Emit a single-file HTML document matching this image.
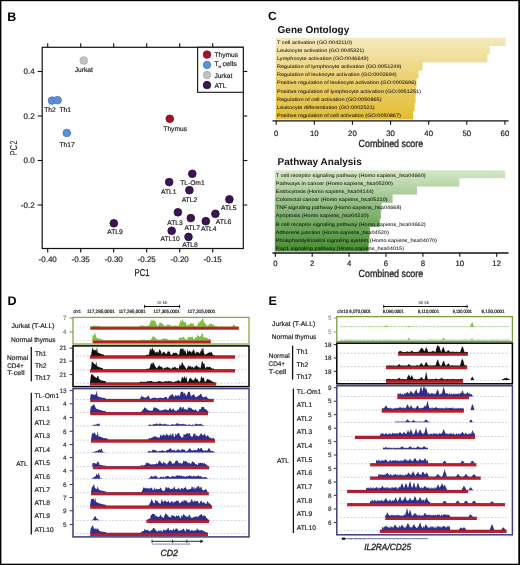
<!DOCTYPE html>
<html><head><meta charset="utf-8"><style>
html,body{margin:0;padding:0;background:#fff;}
body{width:520px;height:565px;overflow:hidden;}
svg{display:block;font-family:"Liberation Sans", sans-serif;will-change:transform;text-rendering:geometricPrecision;}
</style></head><body>
<svg width="520" height="565" viewBox="0 0 520 565">
<rect x="0" y="0" width="520" height="565" fill="#fff"/>
<text x="7.20" y="20.80" font-size="12.5" fill="#000" font-weight="bold">B</text>
<rect x="42.20" y="47.30" width="201.10" height="201.20" fill="none" stroke="#111" stroke-width="1.2"/>
<line x1="47.70" y1="47.30" x2="47.70" y2="43.30" stroke="#111" stroke-width="1.1"/>
<line x1="47.70" y1="248.50" x2="47.70" y2="252.50" stroke="#111" stroke-width="1.1"/>
<text x="47.70" y="261.80" font-size="8.0" fill="#222" text-anchor="middle" stroke="#222" stroke-width="0.18">-0.40</text>
<line x1="80.70" y1="47.30" x2="80.70" y2="43.30" stroke="#111" stroke-width="1.1"/>
<line x1="80.70" y1="248.50" x2="80.70" y2="252.50" stroke="#111" stroke-width="1.1"/>
<text x="80.70" y="261.80" font-size="8.0" fill="#222" text-anchor="middle" stroke="#222" stroke-width="0.18">-0.35</text>
<line x1="113.70" y1="47.30" x2="113.70" y2="43.30" stroke="#111" stroke-width="1.1"/>
<line x1="113.70" y1="248.50" x2="113.70" y2="252.50" stroke="#111" stroke-width="1.1"/>
<text x="113.70" y="261.80" font-size="8.0" fill="#222" text-anchor="middle" stroke="#222" stroke-width="0.18">-0.30</text>
<line x1="146.70" y1="47.30" x2="146.70" y2="43.30" stroke="#111" stroke-width="1.1"/>
<line x1="146.70" y1="248.50" x2="146.70" y2="252.50" stroke="#111" stroke-width="1.1"/>
<text x="146.70" y="261.80" font-size="8.0" fill="#222" text-anchor="middle" stroke="#222" stroke-width="0.18">-0.25</text>
<line x1="179.70" y1="47.30" x2="179.70" y2="43.30" stroke="#111" stroke-width="1.1"/>
<line x1="179.70" y1="248.50" x2="179.70" y2="252.50" stroke="#111" stroke-width="1.1"/>
<text x="179.70" y="261.80" font-size="8.0" fill="#222" text-anchor="middle" stroke="#222" stroke-width="0.18">-0.20</text>
<line x1="212.70" y1="47.30" x2="212.70" y2="43.30" stroke="#111" stroke-width="1.1"/>
<line x1="212.70" y1="248.50" x2="212.70" y2="252.50" stroke="#111" stroke-width="1.1"/>
<text x="212.70" y="261.80" font-size="8.0" fill="#222" text-anchor="middle" stroke="#222" stroke-width="0.18">-0.15</text>
<line x1="42.20" y1="71.50" x2="37.70" y2="71.50" stroke="#111" stroke-width="1.1"/>
<line x1="243.30" y1="71.50" x2="247.30" y2="71.50" stroke="#111" stroke-width="1.1"/>
<text x="34.60" y="74.40" font-size="8.0" fill="#222" text-anchor="end" stroke="#222" stroke-width="0.18">0.4</text>
<line x1="42.20" y1="116.00" x2="37.70" y2="116.00" stroke="#111" stroke-width="1.1"/>
<line x1="243.30" y1="116.00" x2="247.30" y2="116.00" stroke="#111" stroke-width="1.1"/>
<text x="34.60" y="118.90" font-size="8.0" fill="#222" text-anchor="end" stroke="#222" stroke-width="0.18">0.2</text>
<line x1="42.20" y1="160.50" x2="37.70" y2="160.50" stroke="#111" stroke-width="1.1"/>
<line x1="243.30" y1="160.50" x2="247.30" y2="160.50" stroke="#111" stroke-width="1.1"/>
<text x="34.60" y="163.40" font-size="8.0" fill="#222" text-anchor="end" stroke="#222" stroke-width="0.18">0.0</text>
<line x1="42.20" y1="205.00" x2="37.70" y2="205.00" stroke="#111" stroke-width="1.1"/>
<line x1="243.30" y1="205.00" x2="247.30" y2="205.00" stroke="#111" stroke-width="1.1"/>
<text x="34.60" y="207.90" font-size="8.0" fill="#222" text-anchor="end" stroke="#222" stroke-width="0.18">-0.2</text>
<text x="134.60" y="276.40" font-size="10" fill="#222" textLength="14.80" lengthAdjust="spacingAndGlyphs" stroke="#222" stroke-width="0.32">PC1</text>
<text x="0" y="0" font-size="10" fill="#222" textLength="15.2" lengthAdjust="spacingAndGlyphs" transform="translate(17.0,155.6) rotate(-90)">PC2</text>
<rect x="197.60" y="47.30" width="45.70" height="45.00" fill="#fff" stroke="#111" stroke-width="1.1"/>
<circle cx="207.00" cy="54.60" r="3.75" fill="#a2162a" stroke="#7a0c18" stroke-width="0.8"/>
<circle cx="207.00" cy="64.90" r="3.75" fill="#5b8fd8" stroke="#4a78c0" stroke-width="0.8"/>
<circle cx="207.00" cy="75.10" r="3.75" fill="#c2c2c2" stroke="#a8a8a8" stroke-width="0.8"/>
<circle cx="207.00" cy="85.10" r="3.75" fill="#3d1552" stroke="#260a36" stroke-width="0.8"/>
<text x="214.40" y="56.90" font-size="6.7" fill="#222" textLength="23.60" lengthAdjust="spacingAndGlyphs" stroke="#222" stroke-width="0.18">Thymus</text>
<text x="214.40" y="66.00" font-size="6.7" fill="#222" stroke="#222" stroke-width="0.18">T</text>
<text x="218.60" y="67.60" font-size="3.6" fill="#222" stroke="#222" stroke-width="0.18">H</text>
<text x="222.40" y="66.00" font-size="6.7" fill="#222" textLength="14.60" lengthAdjust="spacingAndGlyphs" stroke="#222" stroke-width="0.18">cells</text>
<text x="214.40" y="77.80" font-size="6.7" fill="#222" textLength="18.00" lengthAdjust="spacingAndGlyphs" stroke="#222" stroke-width="0.18">Jurkat</text>
<text x="214.40" y="87.60" font-size="6.7" fill="#222" textLength="12.20" lengthAdjust="spacingAndGlyphs" stroke="#222" stroke-width="0.18">ATL</text>
<circle cx="83.75" cy="60.50" r="3.85" fill="#c2c2c2" stroke="#a8a8a8" stroke-width="0.8"/>
<circle cx="52.00" cy="100.60" r="3.85" fill="#5b8fd8" stroke="#4a78c0" stroke-width="0.8"/>
<circle cx="57.60" cy="100.20" r="3.85" fill="#5b8fd8" stroke="#4a78c0" stroke-width="0.8"/>
<circle cx="66.80" cy="133.00" r="3.85" fill="#5b8fd8" stroke="#4a78c0" stroke-width="0.8"/>
<circle cx="169.80" cy="118.80" r="3.85" fill="#a2162a" stroke="#7a0c18" stroke-width="0.8"/>
<circle cx="192.30" cy="173.80" r="3.85" fill="#3d1552" stroke="#260a36" stroke-width="0.8"/>
<circle cx="169.20" cy="182.10" r="3.85" fill="#3d1552" stroke="#260a36" stroke-width="0.8"/>
<circle cx="189.40" cy="190.20" r="3.85" fill="#3d1552" stroke="#260a36" stroke-width="0.8"/>
<circle cx="229.40" cy="199.40" r="3.85" fill="#3d1552" stroke="#260a36" stroke-width="0.8"/>
<circle cx="177.90" cy="212.30" r="3.85" fill="#3d1552" stroke="#260a36" stroke-width="0.8"/>
<circle cx="215.40" cy="213.80" r="3.85" fill="#3d1552" stroke="#260a36" stroke-width="0.8"/>
<circle cx="190.80" cy="218.10" r="3.85" fill="#3d1552" stroke="#260a36" stroke-width="0.8"/>
<circle cx="205.80" cy="221.20" r="3.85" fill="#3d1552" stroke="#260a36" stroke-width="0.8"/>
<circle cx="171.70" cy="230.80" r="3.85" fill="#3d1552" stroke="#260a36" stroke-width="0.8"/>
<circle cx="188.50" cy="236.90" r="3.85" fill="#3d1552" stroke="#260a36" stroke-width="0.8"/>
<circle cx="113.80" cy="223.30" r="3.85" fill="#3d1552" stroke="#260a36" stroke-width="0.8"/>
<text x="83.75" y="71.80" font-size="6.7" fill="#222" text-anchor="middle" stroke="#222" stroke-width="0.18">Jurkat</text>
<text x="50.00" y="112.40" font-size="6.7" fill="#222" text-anchor="middle" stroke="#222" stroke-width="0.18">Th2</text>
<text x="65.20" y="112.40" font-size="6.7" fill="#222" text-anchor="middle" stroke="#222" stroke-width="0.18">Th1</text>
<text x="67.00" y="146.50" font-size="6.7" fill="#222" text-anchor="middle" stroke="#222" stroke-width="0.18">Th17</text>
<text x="175.20" y="131.00" font-size="6.7" fill="#222" text-anchor="middle" stroke="#222" stroke-width="0.18">Thymus</text>
<text x="192.40" y="184.90" font-size="6.7" fill="#222" text-anchor="middle" stroke="#222" stroke-width="0.18">TL-Om1</text>
<text x="168.70" y="193.90" font-size="6.7" fill="#222" text-anchor="middle" stroke="#222" stroke-width="0.18">ATL1</text>
<text x="189.40" y="202.20" font-size="6.7" fill="#222" text-anchor="middle" stroke="#222" stroke-width="0.18">ATL2</text>
<text x="228.80" y="210.20" font-size="6.7" fill="#222" text-anchor="middle" stroke="#222" stroke-width="0.18">ATL5</text>
<text x="175.00" y="224.70" font-size="6.7" fill="#222" text-anchor="middle" stroke="#222" stroke-width="0.18">ATL3</text>
<text x="223.60" y="223.70" font-size="6.7" fill="#222" text-anchor="middle" stroke="#222" stroke-width="0.18">ATL6</text>
<text x="192.30" y="229.90" font-size="6.7" fill="#222" text-anchor="middle" stroke="#222" stroke-width="0.18">ATL7</text>
<text x="208.70" y="231.40" font-size="6.7" fill="#222" text-anchor="middle" stroke="#222" stroke-width="0.18">ATL4</text>
<text x="170.20" y="241.00" font-size="6.7" fill="#222" text-anchor="middle" stroke="#222" stroke-width="0.18">ATL10</text>
<text x="190.00" y="246.80" font-size="6.7" fill="#222" text-anchor="middle" stroke="#222" stroke-width="0.18">ATL8</text>
<text x="115.00" y="234.00" font-size="6.7" fill="#222" text-anchor="middle" stroke="#222" stroke-width="0.18">ATL9</text>
<text x="268.00" y="20.30" font-size="12" fill="#000" font-weight="bold">C</text>
<text x="277.60" y="32.60" font-size="10" fill="#111" font-weight="bold">Gene Ontology</text>
<defs><linearGradient id="g37" gradientUnits="userSpaceOnUse" x1="0" y1="37.7" x2="0" y2="119.5"><stop offset="0" stop-color="#f5eabe"/><stop offset="0.5" stop-color="#ecd172"/><stop offset="1" stop-color="#e4bc34"/></linearGradient></defs>
<path d="M275.8,37.70 H505.80 V45.88 H489.80 V54.06 H487.40 V62.24 H422.60 V70.42 H418.50 V78.60 H416.60 V86.78 H416.20 V94.96 H415.60 V103.14 H414.60 V111.32 H413.20 V119.50 H275.8 Z" fill="url(#g37)"/>
<text x="277.00" y="43.54" font-size="4.9" fill="#111" textLength="75.10" lengthAdjust="spacingAndGlyphs" stroke="#111" stroke-width="0.04">T cell activation (GO:0042110)</text>
<text x="277.00" y="51.72" font-size="4.9" fill="#111" textLength="87.20" lengthAdjust="spacingAndGlyphs" stroke="#111" stroke-width="0.04">Leukocyte activation (GO:0045321)</text>
<text x="277.00" y="59.90" font-size="4.9" fill="#111" textLength="91.50" lengthAdjust="spacingAndGlyphs" stroke="#111" stroke-width="0.04">Lymphocyte activation (GO:0046649)</text>
<text x="277.00" y="68.08" font-size="4.9" fill="#111" textLength="124.40" lengthAdjust="spacingAndGlyphs" stroke="#111" stroke-width="0.04">Regulation of lymphocyte activation (GO:0051249)</text>
<text x="277.00" y="76.26" font-size="4.9" fill="#111" textLength="119.70" lengthAdjust="spacingAndGlyphs" stroke="#111" stroke-width="0.04">Regulation of leukocyte activation (GO:0002694)</text>
<text x="277.00" y="84.44" font-size="4.9" fill="#111" textLength="139.10" lengthAdjust="spacingAndGlyphs" stroke="#111" stroke-width="0.04">Positive regulation of leukocyte activation (GO:0002696)</text>
<text x="277.00" y="92.62" font-size="4.9" fill="#111" textLength="144.00" lengthAdjust="spacingAndGlyphs" stroke="#111" stroke-width="0.04">Positive regulation of lymphocyte activation (GO:0051251)</text>
<text x="277.00" y="100.80" font-size="4.9" fill="#111" textLength="104.50" lengthAdjust="spacingAndGlyphs" stroke="#111" stroke-width="0.04">Regulation of cell activation (GO:0050865)</text>
<text x="277.00" y="108.98" font-size="4.9" fill="#111" textLength="97.60" lengthAdjust="spacingAndGlyphs" stroke="#111" stroke-width="0.04">Leukocyte differentiation (GO:0002521)</text>
<text x="277.00" y="117.16" font-size="4.9" fill="#111" textLength="123.90" lengthAdjust="spacingAndGlyphs" stroke="#111" stroke-width="0.04">Positive regulation of cell activation (GO:0050867)</text>
<line x1="272.50" y1="120.90" x2="508.50" y2="120.90" stroke="#111" stroke-width="1.3"/>
<line x1="276.20" y1="120.90" x2="276.20" y2="124.70" stroke="#111" stroke-width="1.1"/>
<text x="276.20" y="136.40" font-size="7.8" fill="#222" text-anchor="middle" stroke="#222" stroke-width="0.18">0</text>
<line x1="314.32" y1="120.90" x2="314.32" y2="124.70" stroke="#111" stroke-width="1.1"/>
<text x="314.32" y="136.40" font-size="7.8" fill="#222" text-anchor="middle" stroke="#222" stroke-width="0.18">10</text>
<line x1="352.44" y1="120.90" x2="352.44" y2="124.70" stroke="#111" stroke-width="1.1"/>
<text x="352.44" y="136.40" font-size="7.8" fill="#222" text-anchor="middle" stroke="#222" stroke-width="0.18">20</text>
<line x1="390.56" y1="120.90" x2="390.56" y2="124.70" stroke="#111" stroke-width="1.1"/>
<text x="390.56" y="136.40" font-size="7.8" fill="#222" text-anchor="middle" stroke="#222" stroke-width="0.18">30</text>
<line x1="428.68" y1="120.90" x2="428.68" y2="124.70" stroke="#111" stroke-width="1.1"/>
<text x="428.68" y="136.40" font-size="7.8" fill="#222" text-anchor="middle" stroke="#222" stroke-width="0.18">40</text>
<line x1="466.80" y1="120.90" x2="466.80" y2="124.70" stroke="#111" stroke-width="1.1"/>
<text x="466.80" y="136.40" font-size="7.8" fill="#222" text-anchor="middle" stroke="#222" stroke-width="0.18">50</text>
<line x1="504.92" y1="120.90" x2="504.92" y2="124.70" stroke="#111" stroke-width="1.1"/>
<text x="504.92" y="136.40" font-size="7.8" fill="#222" text-anchor="middle" stroke="#222" stroke-width="0.18">60</text>
<text x="358.60" y="146.80" font-size="10.3" fill="#222" textLength="64.60" lengthAdjust="spacingAndGlyphs" stroke="#222" stroke-width="0.32">Combined score</text>
<text x="277.60" y="164.60" font-size="10" fill="#111" font-weight="bold">Pathway Analysis</text>
<defs><linearGradient id="g170" gradientUnits="userSpaceOnUse" x1="0" y1="170.2" x2="0" y2="251.5"><stop offset="0" stop-color="#d6e8c8"/><stop offset="0.5" stop-color="#87b676"/><stop offset="1" stop-color="#468e32"/></linearGradient></defs>
<path d="M274.8,170.20 H505.20 V178.33 H459.40 V186.46 H417.00 V194.59 H392.60 V202.72 H381.60 V210.85 H380.80 V218.98 H379.80 V227.11 H369.80 V235.24 H369.40 V243.37 H368.60 V251.50 H274.8 Z" fill="url(#g170)"/>
<text x="275.80" y="176.81" font-size="4.9" fill="#111" textLength="149.80" lengthAdjust="spacingAndGlyphs" stroke="#111" stroke-width="0.04">T cell receptor signaling pathway (Homo sapiens_hsa04660)</text>
<text x="275.80" y="184.94" font-size="4.9" fill="#111" textLength="117.00" lengthAdjust="spacingAndGlyphs" stroke="#111" stroke-width="0.04">Pathways in cancer (Homo sapiens_hsa05200)</text>
<text x="275.80" y="193.07" font-size="4.9" fill="#111" textLength="97.90" lengthAdjust="spacingAndGlyphs" stroke="#111" stroke-width="0.04">Endocytosis (Homo sapiens_hsa04144)</text>
<text x="275.80" y="201.20" font-size="4.9" fill="#111" textLength="111.80" lengthAdjust="spacingAndGlyphs" stroke="#111" stroke-width="0.04">Colorectal cancer (Homo sapiens_hsa05210)</text>
<text x="275.80" y="209.34" font-size="4.9" fill="#111" textLength="125.60" lengthAdjust="spacingAndGlyphs" stroke="#111" stroke-width="0.04">TNF signaling pathway (Homo sapiens_hsa04668)</text>
<text x="275.80" y="217.47" font-size="4.9" fill="#111" textLength="92.70" lengthAdjust="spacingAndGlyphs" stroke="#111" stroke-width="0.04">Apoptosis (Homo sapiens_hsa04210)</text>
<text x="275.80" y="225.59" font-size="4.9" fill="#111" textLength="149.80" lengthAdjust="spacingAndGlyphs" stroke="#111" stroke-width="0.04">B cell receptor signaling pathway (Homo sapiens_hsa04662)</text>
<text x="275.80" y="233.72" font-size="4.9" fill="#111" textLength="113.00" lengthAdjust="spacingAndGlyphs" stroke="#111" stroke-width="0.04">Adherens junction (Homo sapiens_hsa04520)</text>
<text x="275.80" y="241.86" font-size="4.9" fill="#111" textLength="161.20" lengthAdjust="spacingAndGlyphs" stroke="#111" stroke-width="0.04">Phosphatidylinositol signaling system (Homo sapiens_hsa04070)</text>
<text x="275.80" y="249.99" font-size="4.9" fill="#111" textLength="128.20" lengthAdjust="spacingAndGlyphs" stroke="#111" stroke-width="0.04">Rap1 signaling pathway (Homo sapiens_hsa04015)</text>
<line x1="272.50" y1="253.00" x2="508.50" y2="253.00" stroke="#111" stroke-width="1.3"/>
<line x1="275.30" y1="253.00" x2="275.30" y2="256.80" stroke="#111" stroke-width="1.1"/>
<text x="275.30" y="266.40" font-size="7.8" fill="#222" text-anchor="middle" stroke="#222" stroke-width="0.18">0</text>
<line x1="312.20" y1="253.00" x2="312.20" y2="256.80" stroke="#111" stroke-width="1.1"/>
<text x="312.20" y="266.40" font-size="7.8" fill="#222" text-anchor="middle" stroke="#222" stroke-width="0.18">2</text>
<line x1="349.10" y1="253.00" x2="349.10" y2="256.80" stroke="#111" stroke-width="1.1"/>
<text x="349.10" y="266.40" font-size="7.8" fill="#222" text-anchor="middle" stroke="#222" stroke-width="0.18">4</text>
<line x1="386.00" y1="253.00" x2="386.00" y2="256.80" stroke="#111" stroke-width="1.1"/>
<text x="386.00" y="266.40" font-size="7.8" fill="#222" text-anchor="middle" stroke="#222" stroke-width="0.18">6</text>
<line x1="422.90" y1="253.00" x2="422.90" y2="256.80" stroke="#111" stroke-width="1.1"/>
<text x="422.90" y="266.40" font-size="7.8" fill="#222" text-anchor="middle" stroke="#222" stroke-width="0.18">8</text>
<line x1="459.80" y1="253.00" x2="459.80" y2="256.80" stroke="#111" stroke-width="1.1"/>
<text x="459.80" y="266.40" font-size="7.8" fill="#222" text-anchor="middle" stroke="#222" stroke-width="0.18">10</text>
<line x1="496.70" y1="253.00" x2="496.70" y2="256.80" stroke="#111" stroke-width="1.1"/>
<text x="496.70" y="266.40" font-size="7.8" fill="#222" text-anchor="middle" stroke="#222" stroke-width="0.18">12</text>
<text x="358.60" y="277.20" font-size="10.3" fill="#222" textLength="64.60" lengthAdjust="spacingAndGlyphs" stroke="#222" stroke-width="0.32">Combined score</text>
<text x="7.40" y="305.20" font-size="12.5" fill="#000" font-weight="bold">D</text>
<text x="73.20" y="313.30" font-size="4.8" fill="#111" textLength="7.80" lengthAdjust="spacingAndGlyphs" stroke="#111" stroke-width="0.18">chr1</text>
<text x="87.00" y="313.30" font-size="4.8" fill="#111" textLength="27.80" lengthAdjust="spacingAndGlyphs" stroke="#111" stroke-width="0.18">117,285,0001</text>
<text x="118.70" y="313.30" font-size="4.8" fill="#111" textLength="26.90" lengthAdjust="spacingAndGlyphs" stroke="#111" stroke-width="0.18">117,295,0001</text>
<text x="153.60" y="313.30" font-size="4.8" fill="#111" textLength="26.20" lengthAdjust="spacingAndGlyphs" stroke="#111" stroke-width="0.18">117,305,0001</text>
<text x="187.60" y="313.30" font-size="4.8" fill="#111" textLength="27.70" lengthAdjust="spacingAndGlyphs" stroke="#111" stroke-width="0.18">117,315,0001</text>
<line x1="144.40" y1="306.50" x2="179.80" y2="306.50" stroke="#111" stroke-width="1.0"/>
<line x1="144.60" y1="304.80" x2="144.60" y2="308.20" stroke="#111" stroke-width="0.9"/>
<line x1="179.60" y1="304.80" x2="179.60" y2="308.20" stroke="#111" stroke-width="0.9"/>
<text x="162.00" y="304.20" font-size="4.4" fill="#444" text-anchor="middle" stroke="#444" stroke-width="0.05">10 kb</text>
<rect x="73.00" y="317.40" width="176.00" height="26.60" fill="none" stroke="#86a84a" stroke-width="1.3"/>
<rect x="73.00" y="345.90" width="176.00" height="40.70" fill="none" stroke="#000" stroke-width="1.5"/>
<rect x="73.00" y="388.60" width="176.00" height="148.30" fill="none" stroke="#3e3e80" stroke-width="1.5"/>
<line x1="76.0" y1="327.1" x2="246.0" y2="327.1" stroke="#8a9a7a" stroke-width="0.6" stroke-dasharray="2,1.6" opacity="0.38"/>
<polygon points="92.0,326.9 92.0,326.9 92.8,326.2 93.5,325.5 94.2,325.5 95.0,325.8 95.8,325.9 96.5,326.2 97.2,326.0 98.0,325.4 98.8,326.0 99.5,326.5 100.0,326.9" fill="#7cbf45"/>
<polygon points="137.8,326.9 137.8,326.9 138.1,326.9 138.3,326.9 138.7,326.9 138.9,326.9 139.2,326.9 139.6,326.8 139.8,326.2 140.2,325.7 140.4,325.2 140.8,325.3 141.1,325.7 141.3,325.4 141.7,325.4 141.9,325.5 142.2,325.4 142.6,325.3 142.8,325.3 143.2,325.7 143.4,325.8 143.8,325.8 144.1,326.0 144.3,326.0 144.7,325.8 144.9,326.0 145.2,326.3 145.6,325.8 145.8,326.4 146.2,325.7 146.4,326.3 146.8,325.7 147.1,326.2 147.3,325.9 147.7,325.7 147.9,325.7 148.2,325.8 148.6,325.7 148.8,325.2 149.2,324.8 149.4,324.3 149.8,324.2 150.1,323.5 150.3,321.6 150.7,320.9 150.9,318.4 151.2,319.4 151.6,320.7 151.8,321.2 152.2,320.8 152.4,320.1 152.8,320.6 153.1,319.2 153.3,319.7 153.7,320.9 153.9,321.1 154.2,321.0 154.6,319.9 154.8,320.4 155.2,320.5 155.4,321.6 155.8,322.1 156.1,323.5 156.3,323.8 156.7,324.4 156.9,325.1 157.2,325.5 157.6,325.6 157.8,326.0 158.2,325.6 158.4,325.4 158.8,324.8 159.1,324.3 159.3,323.3 159.7,322.4 159.9,322.4 160.2,322.8 160.6,322.7 160.8,322.5 161.2,321.9 161.4,322.6 161.8,323.9 162.1,324.4 162.3,323.3 162.7,323.1 162.9,323.9 163.2,324.4 163.6,325.2 163.8,325.8 164.2,325.5 164.4,325.8 164.8,325.6 165.1,325.8 165.3,326.1 165.7,325.9 165.9,326.2 166.2,325.8 166.6,325.4 166.8,324.8 167.2,324.8 167.4,324.5 167.8,324.3 168.1,324.3 168.3,324.7 168.7,324.8 168.9,325.0 169.2,325.1 169.6,325.3 169.8,324.5 170.2,324.8 170.4,324.9 170.8,325.4 171.1,325.9 171.3,325.9 171.7,325.6 171.9,325.9 172.2,325.6 172.6,326.3 172.8,325.7 173.2,326.2 173.4,325.6 173.8,326.2 174.1,325.9 174.3,325.5 174.7,325.3 174.9,325.2 175.2,325.6 175.6,325.6 175.8,326.1 176.2,325.8 176.4,325.5 176.8,325.7 177.1,326.0 177.3,325.7 177.7,325.9 177.9,326.3 178.2,325.8 178.6,326.1 178.8,325.5 179.2,325.2 179.4,323.4 179.8,322.5 180.1,321.0 180.3,320.5 180.7,320.7 180.9,322.0 181.2,322.2 181.6,320.9 181.8,320.5 182.2,318.6 182.4,319.4 182.8,320.0 183.1,320.2 183.3,321.0 183.7,321.2 183.9,321.7 184.2,322.3 184.6,322.1 184.8,322.8 185.2,322.4 185.4,321.1 185.8,321.4 186.1,322.8 186.3,324.3 186.7,325.3 186.9,325.6 187.2,325.5 187.6,325.5 187.8,325.1 188.2,324.4 188.4,323.8 188.8,324.5 189.1,324.6 189.3,324.8 189.7,324.4 189.9,324.1 190.2,323.5 190.6,323.5 190.8,321.9 191.2,322.9 191.4,322.9 191.8,323.6 192.1,323.9 192.3,323.3 192.7,324.0 192.9,323.3 193.2,323.0 193.6,323.6 193.8,325.1 194.2,325.8 194.4,325.9 194.8,326.1 195.1,326.1 195.3,326.3 195.7,326.1 195.9,326.1 196.2,326.0 196.6,326.0 196.8,326.1 197.2,325.5 197.4,325.0 197.8,324.7 198.1,324.2 198.3,322.5 198.7,321.1 198.9,321.3 199.2,322.8 199.6,322.3 199.8,322.7 200.2,322.0 200.4,321.2 200.8,320.7 201.1,320.3 201.3,321.1 201.7,319.5 201.9,320.3 202.2,319.0 202.6,318.1 202.8,317.5 203.1,318.1 203.4,320.7 203.8,321.5 204.1,322.4 204.3,322.4 204.6,322.3 204.9,323.2 205.2,323.4 205.6,323.9 205.8,324.3 206.1,324.3 206.4,325.2 206.8,325.4 207.1,326.0 207.3,326.2 207.6,325.7 207.9,325.7 208.2,325.6 208.6,325.3 208.8,325.3 209.1,324.4 209.4,323.9 209.8,323.7 210.1,323.6 210.3,324.4 210.6,324.0 210.9,323.8 211.2,324.2 211.6,323.7 211.8,323.1 212.1,324.0 212.4,324.5 212.8,325.2 213.1,324.9 213.3,324.3 213.6,324.1 213.9,325.3 214.2,325.8 214.6,326.0 214.8,325.7 215.1,325.9 215.4,326.2 215.8,326.1 216.1,325.6 216.3,326.0 216.6,326.0 216.9,326.3 217.2,326.9 217.6,326.9 217.8,326.9 218.1,326.9 218.4,326.9 218.8,326.9 219.1,326.9 219.3,326.9 219.6,326.9 219.9,326.9 220.2,326.9 220.6,326.9 220.8,326.9 221.1,326.9 221.4,326.9 221.8,326.9 222.1,326.9 222.3,326.9 222.6,326.9 222.9,326.9 223.2,326.9 223.6,326.9 223.8,326.9 224.1,326.9 224.4,326.9 224.8,326.9 225.1,326.9 225.3,326.9 225.6,326.9 225.9,326.9 226.2,326.9 226.6,326.9 226.8,326.9 227.1,326.9 227.4,326.9 227.8,326.9 228.1,326.9 228.3,326.9 228.6,326.9 228.9,326.9 229.2,326.9 229.6,326.9 229.8,326.9 230.1,326.9 230.4,326.9 230.8,326.9 231.1,326.9 231.3,326.9 231.6,326.9 231.9,326.9 232.2,326.4 232.6,325.9 232.8,325.7 233.1,325.1 233.4,324.6 233.8,324.6 234.1,324.7 234.3,325.2 234.6,325.2 234.9,325.6 235.2,325.9 235.6,326.2 235.8,326.6 236.1,326.9 236.4,326.9 236.8,326.9 237.1,326.9 237.3,326.9" fill="#7cbf45"/>
<rect x="90.20" y="326.60" width="148.60" height="3.10" fill="#bc1e25"/>
<rect x="90.20" y="326.40" width="148.60" height="0.70" fill="#7cbf45" opacity="0.6"/>
<text x="66.60" y="320.20" font-size="6.3" fill="#7d8a68" text-anchor="end" stroke="#7d8a68" stroke-width="0.18">7</text>
<line x1="69.60" y1="318.00" x2="73.00" y2="318.00" stroke="#7d8a68" stroke-width="1.0"/>
<line x1="76.0" y1="340.7" x2="246.0" y2="340.7" stroke="#8a9a7a" stroke-width="0.6" stroke-dasharray="2,1.6" opacity="0.38"/>
<polygon points="92.0,340.5 92.0,340.5 92.8,335.2 93.5,335.6 94.2,332.9 95.0,336.0 95.8,332.5 96.5,337.8 97.2,338.1 98.0,338.4 98.8,338.3 99.5,338.7 100.2,339.1 101.0,339.2 101.8,339.3 102.5,339.5 103.0,340.5" fill="#7cbf45"/>
<polygon points="140.0,340.5 140.0,339.8 140.3,340.0 140.6,339.4 140.9,339.7 141.2,339.5 141.5,340.0 141.8,340.1 142.1,339.8 142.4,339.5 142.7,339.6 143.0,340.1 143.3,339.6 143.6,340.0 143.9,340.0 144.2,339.6 144.5,339.7 144.8,339.6 145.1,339.6 145.4,339.7 145.7,340.0 146.0,339.9 146.3,340.1 146.6,340.1 146.9,340.0 147.2,339.9 147.5,339.4 147.8,339.5 148.1,339.7 148.4,340.1 148.7,339.7 149.0,339.9 149.3,339.9 149.6,340.0 149.9,340.0 150.2,339.8 150.5,339.6 150.8,339.4 151.1,339.1 151.4,339.0 151.7,338.7 152.0,338.5 152.3,337.5 152.6,336.0 152.9,336.4 153.2,336.6 153.5,336.3 153.8,336.0 154.1,337.1 154.4,337.1 154.7,337.1 155.0,337.7 155.3,337.6 155.6,338.3 155.9,338.4 156.2,338.6 156.5,338.9 156.8,339.3 157.1,339.5 157.4,339.4 157.7,340.0 158.0,339.8 158.3,339.6 158.6,339.5 158.9,339.7 159.2,340.0 159.5,340.0 159.8,340.0 160.1,340.0 160.4,339.5 160.7,339.6 161.0,339.6 161.3,339.5 161.6,339.3 161.9,339.1 162.2,339.2 162.5,338.9 162.8,338.8 163.1,338.9 163.4,338.5 163.7,337.7 164.0,338.3 164.3,338.7 164.6,338.6 164.9,338.6 165.2,338.8 165.5,338.7 165.8,338.3 166.1,338.3 166.4,338.9 166.7,339.2 167.0,339.0 167.3,338.9 167.6,339.2 167.9,339.3 168.2,339.6 168.5,339.7 168.8,340.0 169.1,339.5 169.4,340.1 169.7,339.7 170.0,339.8 170.3,340.1 170.6,339.4 170.9,339.4 171.2,339.6 171.5,339.6 171.8,339.9 172.1,339.6 172.4,340.0 172.7,339.7 173.0,339.5 173.3,339.6 173.6,339.9 173.9,339.8 174.2,339.9 174.5,339.4 174.8,339.5 175.1,339.9 175.4,339.7 175.7,339.9 176.0,339.8 176.3,339.5 176.6,339.4 176.9,340.1 177.2,339.6 177.5,339.9 177.8,340.0 178.1,340.0 178.4,339.7 178.7,339.1 179.0,338.3 179.3,337.8 179.6,336.8 179.9,337.7 180.2,338.2 180.5,338.0 180.8,337.1 181.1,337.8 181.4,337.7 181.7,337.7 182.0,337.8 182.3,337.2 182.6,337.3 182.9,337.4 183.2,336.9 183.5,335.9 183.8,337.5 184.1,337.6 184.4,337.6 184.7,338.0 185.0,338.9 185.3,339.0 185.6,339.2 185.9,339.5 186.2,339.5 186.5,339.6 186.8,339.5 187.1,339.7 187.4,339.1 187.7,338.0 188.0,337.2 188.3,336.7 188.6,336.8 188.9,337.1 189.2,336.5 189.5,337.9 189.8,337.3 190.1,337.5 190.4,337.3 190.7,336.3 191.0,336.4 191.3,337.1 191.6,336.9 191.9,336.9 192.2,337.5 192.5,336.1 192.8,336.7 193.1,337.6 193.4,338.4 193.7,339.0 194.0,339.3 194.3,339.4 194.6,338.9 194.9,337.6 195.2,336.7 195.5,336.9 195.8,337.9 196.1,337.5 196.4,337.0 196.7,336.9 197.0,336.1 197.3,334.9 197.6,334.3 197.9,335.2 198.2,335.7 198.5,336.4 198.8,336.3 199.1,336.5 199.4,336.7 199.7,337.1 200.0,335.3 200.3,336.0 200.6,336.5 200.9,336.6 201.2,335.5 201.5,334.3 201.8,333.4 202.1,333.0 202.4,334.2 202.7,332.7 203.0,334.9 203.3,336.5 203.6,337.3 203.9,337.6 204.2,337.2 204.5,337.4 204.8,337.6 205.1,337.5 205.4,337.8 205.7,337.6 206.0,337.6 206.3,337.6 206.6,337.9 206.9,337.7 207.2,337.7 207.5,338.0 207.8,338.8 208.1,339.2 208.4,338.9 208.7,339.1 209.0,338.8 209.3,338.4 209.6,338.0 209.9,338.7 210.2,339.3 210.5,339.6 210.8,339.7 211.1,340.0 211.4,340.0 211.7,339.8 212.0,340.0 212.3,340.5 212.6,340.5 212.9,340.5 213.2,340.5 213.2,340.5" fill="#7cbf45"/>
<rect x="92.70" y="340.20" width="118.10" height="3.10" fill="#bc1e25"/>
<rect x="92.70" y="340.00" width="118.10" height="0.70" fill="#7cbf45" opacity="0.6"/>
<text x="66.60" y="334.20" font-size="6.3" fill="#7d8a68" text-anchor="end" stroke="#7d8a68" stroke-width="0.18">4</text>
<line x1="69.60" y1="332.00" x2="73.00" y2="332.00" stroke="#7d8a68" stroke-width="1.0"/>
<line x1="76.0" y1="356.1" x2="246.0" y2="356.1" stroke="#111" stroke-width="0.6" stroke-dasharray="2,1.6" opacity="0.38"/>
<polygon points="91.0,355.9 91.0,355.9 91.8,350.2 92.5,347.5 93.2,349.2 94.0,350.5 94.8,350.1 95.5,349.7 96.2,351.4 97.0,346.9 97.8,352.7 98.5,353.1 99.2,353.1 100.0,353.5 100.8,354.0 101.5,353.9 102.2,354.2 103.0,354.4 103.8,354.4 104.0,355.9" fill="#111"/>
<polygon points="145.0,355.9 145.0,355.9 145.3,355.9 145.6,355.9 145.9,355.9 146.2,355.0 146.5,354.7 146.8,354.9 147.1,354.5 147.4,354.8 147.7,354.8 148.0,355.0 148.3,354.9 148.6,354.4 148.9,354.8 149.2,353.0 149.5,351.5 149.8,349.4 150.1,348.3 150.4,349.4 150.7,348.6 151.0,350.0 151.3,350.4 151.6,349.2 151.9,347.9 152.2,347.1 152.5,348.0 152.8,349.0 153.1,349.4 153.4,349.9 153.7,350.6 154.0,349.5 154.3,349.9 154.6,351.6 154.9,352.3 155.2,352.9 155.5,352.5 155.8,352.3 156.1,351.9 156.4,352.4 156.7,352.0 157.0,351.6 157.3,351.5 157.6,352.1 157.9,353.3 158.2,353.3 158.5,351.9 158.8,351.4 159.1,350.2 159.4,349.3 159.7,349.2 160.0,350.0 160.3,351.4 160.6,349.7 160.9,350.7 161.2,352.6 161.5,353.3 161.8,354.7 162.1,353.9 162.4,352.9 162.7,351.9 163.0,352.6 163.3,352.1 163.6,351.4 163.9,352.1 164.2,352.4 164.5,351.5 164.8,352.4 165.1,353.5 165.4,354.0 165.7,352.9 166.0,352.8 166.3,353.6 166.6,354.4 166.9,353.9 167.2,352.8 167.5,351.9 167.8,351.2 168.1,350.2 168.4,351.5 168.7,352.1 169.0,351.4 169.3,352.0 169.6,351.4 169.9,351.7 170.2,353.1 170.5,354.2 170.8,355.1 171.1,354.8 171.4,355.0 171.7,354.5 172.0,354.3 172.3,354.5 172.6,354.1 172.9,353.2 173.2,352.6 173.5,352.7 173.8,353.0 174.1,353.5 174.4,353.0 174.7,352.6 175.0,352.9 175.3,352.9 175.6,352.7 175.9,352.3 176.2,353.1 176.5,352.9 176.8,352.9 177.1,353.2 177.4,353.8 177.7,354.6 178.0,354.7 178.3,355.1 178.6,354.5 178.9,354.8 179.2,354.1 179.5,352.6 179.8,350.5 180.1,348.2 180.4,349.2 180.7,348.5 181.0,349.5 181.3,349.6 181.6,348.1 181.9,348.8 182.2,348.6 182.5,349.1 182.8,349.0 183.1,347.7 183.4,348.6 183.7,350.5 184.0,350.4 184.3,351.0 184.6,351.4 184.9,349.1 185.2,349.5 185.5,351.0 185.8,352.1 186.1,353.8 186.4,354.5 186.7,353.2 187.0,352.5 187.3,350.8 187.6,349.6 187.9,349.8 188.2,351.7 188.5,351.5 188.8,351.5 189.1,350.9 189.4,350.3 189.7,351.1 190.0,351.9 190.3,351.7 190.6,350.9 190.9,351.5 191.2,352.4 191.5,353.2 191.8,351.6 192.1,350.8 192.4,350.6 192.7,351.9 193.0,351.3 193.3,350.0 193.6,348.6 193.9,349.4 194.2,350.1 194.5,351.5 194.8,352.2 195.1,353.8 195.4,353.8 195.7,352.9 196.0,352.8 196.3,352.4 196.6,351.8 196.9,351.5 197.2,352.6 197.5,351.8 197.8,351.9 198.1,352.6 198.4,353.1 198.7,352.0 199.0,352.2 199.3,352.7 199.6,353.6 199.9,353.8 200.2,352.4 200.5,351.2 200.8,350.8 201.1,351.4 201.4,350.8 201.7,348.2 202.0,348.0 202.3,349.7 202.6,349.4 202.9,348.3 203.2,347.3 203.5,349.9 203.8,351.9 204.1,352.9 204.4,353.6 204.7,354.6 205.0,355.0 205.3,354.3 205.6,354.6 205.9,354.5 206.2,354.1 206.5,353.8 206.8,353.9 207.1,353.6 207.4,353.3 207.7,353.6 208.0,352.9 208.3,352.9 208.6,352.9 208.9,352.2 209.2,351.6 209.5,352.2 209.8,352.8 210.1,353.1 210.4,352.7 210.7,351.9 211.0,351.7 211.3,352.3 211.6,352.6 211.9,352.2 212.2,353.2 212.5,354.1 212.8,354.7 213.1,355.0 213.4,355.2 213.7,354.7 214.0,354.7 214.3,355.9 214.6,355.9 214.9,355.9 215.2,355.9 215.5,355.9 215.8,355.9 216.1,355.9 216.4,355.9 216.7,355.9 217.0,355.9 217.3,355.9 217.6,355.9 217.9,355.9 218.2,355.9 218.4,355.9" fill="#111"/>
<rect x="90.00" y="355.60" width="145.00" height="3.10" fill="#bc1e25"/>
<rect x="90.00" y="355.40" width="145.00" height="0.70" fill="#111" opacity="0.6"/>
<text x="66.60" y="350.30" font-size="6.3" fill="#2a2a2a" text-anchor="end" stroke="#2a2a2a" stroke-width="0.18">21</text>
<line x1="69.60" y1="348.10" x2="73.00" y2="348.10" stroke="#2a2a2a" stroke-width="1.0"/>
<line x1="76.0" y1="369.9" x2="246.0" y2="369.9" stroke="#111" stroke-width="0.6" stroke-dasharray="2,1.6" opacity="0.38"/>
<polygon points="91.0,369.7 91.0,369.7 91.8,362.1 92.5,361.4 93.2,362.4 94.0,364.0 94.8,364.0 95.5,365.2 96.2,361.2 97.0,366.3 97.8,366.2 98.5,366.9 99.2,366.9 100.0,367.6 100.8,367.5 101.5,368.0 102.2,368.0 103.0,368.4 103.0,369.7" fill="#111"/>
<polygon points="144.6,369.7 144.6,369.7 144.9,369.7 145.2,369.7 145.5,369.7 145.8,369.7 146.1,369.1 146.4,368.4 146.7,368.9 147.0,368.8 147.3,369.1 147.6,368.5 147.9,368.4 148.2,368.8 148.5,369.0 148.8,368.9 149.1,368.5 149.4,368.1 149.7,367.7 150.0,367.3 150.3,365.8 150.6,364.3 150.9,363.5 151.2,364.5 151.5,363.0 151.8,362.7 152.1,364.5 152.4,364.1 152.7,362.9 153.0,361.6 153.3,363.7 153.6,362.4 153.9,362.3 154.2,364.3 154.5,364.8 154.8,365.2 155.1,366.3 155.4,366.7 155.7,366.7 156.0,367.0 156.3,367.4 156.6,368.1 156.9,368.5 157.2,368.3 157.5,367.4 157.8,366.7 158.1,365.9 158.4,365.5 158.7,366.2 159.0,367.0 159.3,365.9 159.6,364.5 159.9,365.5 160.2,365.9 160.5,366.5 160.8,366.9 161.1,367.2 161.4,367.0 161.7,366.4 162.0,366.7 162.3,367.5 162.6,368.0 162.9,368.6 163.2,368.9 163.5,368.6 163.8,368.4 164.1,367.8 164.4,367.7 164.7,368.0 165.0,368.2 165.3,367.8 165.6,367.3 165.9,367.5 166.2,367.5 166.5,367.5 166.8,367.6 167.1,367.5 167.4,367.2 167.7,366.6 168.0,367.1 168.3,367.7 168.6,367.6 168.9,368.0 169.2,367.6 169.5,367.7 169.8,368.3 170.1,368.6 170.4,368.8 170.7,368.6 171.0,368.8 171.3,368.7 171.6,368.5 171.9,368.2 172.2,367.7 172.5,367.3 172.8,367.4 173.1,367.8 173.4,368.2 173.7,367.6 174.0,367.0 174.3,366.9 174.6,367.1 174.9,366.8 175.2,366.8 175.5,367.3 175.8,367.7 176.1,367.9 176.4,368.1 176.7,368.2 177.0,368.4 177.3,368.0 177.6,367.5 177.9,367.7 178.2,368.3 178.5,368.9 178.8,368.8 179.1,367.1 179.4,365.8 179.7,363.9 180.0,364.5 180.3,365.3 180.6,366.5 180.9,365.6 181.2,365.5 181.5,363.9 181.8,362.0 182.1,362.4 182.4,363.1 182.7,362.4 183.0,363.8 183.3,364.7 183.6,364.7 183.9,365.8 184.2,365.6 184.5,366.3 184.8,366.4 185.1,367.3 185.4,367.6 185.7,367.9 186.0,368.6 186.3,369.0 186.6,368.9 186.9,368.7 187.2,368.1 187.5,367.4 187.8,366.5 188.1,365.1 188.4,365.6 188.7,366.5 189.0,366.9 189.3,366.9 189.6,366.0 189.9,365.9 190.2,366.3 190.5,366.2 190.8,365.9 191.1,366.6 191.4,367.2 191.7,367.4 192.0,367.2 192.3,367.0 192.6,366.2 192.9,366.4 193.2,367.4 193.5,368.0 193.8,368.6 194.1,368.1 194.4,367.2 194.7,366.7 195.0,366.1 195.3,366.4 195.6,366.8 195.9,365.6 196.2,365.0 196.5,365.2 196.8,366.3 197.1,365.9 197.4,366.5 197.7,366.3 198.0,367.1 198.3,367.1 198.6,367.5 198.9,366.9 199.2,366.5 199.5,367.6 199.8,368.4 200.1,368.4 200.4,368.3 200.7,367.2 201.0,366.2 201.3,364.4 201.6,361.8 201.9,361.4 202.2,361.5 202.5,360.8 202.8,362.6 203.1,362.8 203.4,364.0 203.7,364.1 204.0,363.4 204.3,363.0 204.6,364.5 204.9,366.3 205.2,367.7 205.5,368.7 205.8,368.1 206.1,367.4 206.4,366.9 206.7,367.0 207.0,367.1 207.3,366.0 207.6,367.1 207.9,367.5 208.2,367.3 208.5,366.9 208.8,367.2 209.1,366.7 209.4,366.2 209.7,366.7 210.0,367.1 210.3,367.3 210.6,366.9 210.9,367.8 211.2,367.9 211.5,368.0 211.8,368.2 212.1,368.5 212.4,368.6 212.7,368.7 213.0,368.9 213.3,368.4 213.6,368.3 213.9,368.4 214.2,369.7 214.5,369.7 214.8,369.7 215.1,369.7 215.4,369.7 215.7,369.7 216.0,369.7 216.3,369.7 216.6,369.7 216.9,369.7 217.2,369.7 217.5,369.7 217.8,369.7 218.1,369.7 218.4,369.7 218.4,369.7" fill="#111"/>
<rect x="90.00" y="369.40" width="145.00" height="3.10" fill="#bc1e25"/>
<rect x="90.00" y="369.20" width="145.00" height="0.70" fill="#111" opacity="0.6"/>
<text x="66.60" y="363.30" font-size="6.3" fill="#2a2a2a" text-anchor="end" stroke="#2a2a2a" stroke-width="0.18">21</text>
<line x1="69.60" y1="361.10" x2="73.00" y2="361.10" stroke="#2a2a2a" stroke-width="1.0"/>
<line x1="76.0" y1="383.1" x2="246.0" y2="383.1" stroke="#111" stroke-width="0.6" stroke-dasharray="2,1.6" opacity="0.38"/>
<polygon points="90.0,382.9 90.0,382.9 90.8,376.3 91.5,373.9 92.2,374.1 93.0,375.8 93.8,375.3 94.5,376.7 95.2,376.8 96.0,377.9 96.8,377.8 97.5,375.7 98.2,375.8 99.0,379.1 99.8,379.6 100.5,380.1 101.2,380.4 102.0,380.6 102.8,380.5 103.5,381.0 104.2,380.9 105.0,381.0 105.8,381.5 106.0,382.9" fill="#111"/>
<polygon points="140.0,382.9 140.0,381.6 140.3,381.4 140.6,381.5 140.9,381.7 141.2,381.4 141.5,381.4 141.8,382.2 142.1,381.5 142.4,381.9 142.7,382.0 143.0,382.0 143.3,381.4 143.6,381.7 143.9,382.1 144.2,381.5 144.5,382.0 144.8,381.5 145.1,382.1 145.4,381.8 145.7,382.2 146.0,381.6 146.3,382.1 146.6,381.7 146.9,381.4 147.2,381.1 147.5,381.1 147.8,381.3 148.1,381.3 148.4,381.4 148.7,381.5 149.0,381.2 149.3,381.2 149.6,381.2 149.9,381.1 150.2,381.2 150.5,381.3 150.8,381.1 151.1,381.0 151.4,380.9 151.7,380.6 152.0,381.4 152.3,381.7 152.6,381.8 152.9,381.4 153.2,381.4 153.5,381.5 153.8,382.0 154.1,382.3 154.4,382.2 154.7,381.9 155.0,381.4 155.3,382.1 155.6,381.5 155.9,382.3 156.2,381.8 156.5,382.0 156.8,381.3 157.1,381.9 157.4,381.7 157.7,381.4 158.0,381.3 158.3,381.0 158.6,381.1 158.9,381.4 159.2,380.8 159.5,381.3 159.8,381.4 160.1,381.4 160.4,381.2 160.7,381.2 161.0,381.3 161.3,381.6 161.6,381.7 161.9,382.0 162.2,382.1 162.5,382.1 162.8,381.4 163.1,381.5 163.4,381.9 163.7,381.8 164.0,382.0 164.3,381.6 164.6,381.7 164.9,381.2 165.2,380.9 165.5,381.3 165.8,381.0 166.1,381.2 166.4,381.5 166.7,381.6 167.0,381.3 167.3,381.2 167.6,381.4 167.9,381.3 168.2,381.2 168.5,380.7 168.8,380.7 169.1,381.2 169.4,381.5 169.7,381.4 170.0,381.5 170.3,381.3 170.6,380.8 170.9,381.3 171.2,381.4 171.5,381.4 171.8,381.5 172.1,381.9 172.4,381.8 172.7,381.8 173.0,382.0 173.3,382.2 173.6,381.9 173.9,382.0 174.2,381.4 174.5,381.5 174.8,382.3 175.1,381.7 175.4,381.8 175.7,381.2 176.0,380.4 176.3,381.3 176.6,381.5 176.9,381.2 177.2,381.0 177.5,381.0 177.8,380.6 178.1,380.0 178.4,380.5 178.7,380.5 179.0,380.7 179.3,380.4 179.6,381.0 179.9,381.5 180.2,381.6 180.5,382.0 180.8,381.5 181.1,380.3 181.4,379.3 181.7,378.4 182.0,377.0 182.3,378.0 182.6,376.5 182.9,376.6 183.2,378.4 183.5,378.8 183.8,377.8 184.1,377.0 184.4,375.3 184.7,376.8 185.0,378.0 185.3,377.6 185.6,378.5 185.9,378.2 186.2,375.8 186.5,377.6 186.8,378.8 187.1,380.8 187.4,381.5 187.7,382.0 188.0,381.7 188.3,381.6 188.6,381.2 188.9,380.1 189.2,378.8 189.5,378.4 189.8,378.4 190.1,377.1 190.4,378.3 190.7,378.2 191.0,378.4 191.3,378.8 191.6,379.0 191.9,379.5 192.2,380.0 192.5,380.3 192.8,380.1 193.1,379.1 193.4,380.0 193.7,380.6 194.0,380.8 194.3,379.7 194.6,378.9 194.9,377.8 195.2,376.9 195.5,377.5 195.8,378.8 196.1,378.5 196.4,378.5 196.7,379.7 197.0,379.6 197.3,378.8 197.6,379.3 197.9,379.8 198.2,380.4 198.5,381.6 198.8,381.7 199.1,381.4 199.4,381.9 199.7,381.6 200.0,381.2 200.3,380.9 200.6,379.4 200.9,377.6 201.2,376.5 201.5,375.9 201.8,377.3 202.1,378.1 202.4,377.7 202.7,378.8 203.0,377.6 203.3,377.6 203.6,377.8 203.9,378.0 204.2,379.4 204.5,380.7 204.8,381.7 205.1,381.8 205.4,381.6 205.7,381.5 206.0,381.4 206.3,381.0 206.6,379.8 206.9,379.3 207.2,378.7 207.5,379.2 207.8,379.2 208.1,378.5 208.4,379.6 208.7,379.8 209.0,379.9 209.3,379.6 209.6,379.7 209.9,380.2 210.2,380.6 210.5,380.2 210.8,380.5 211.1,380.7 211.4,381.1 211.7,381.3 212.0,381.2 212.3,381.5 212.6,381.7 212.9,381.7 213.2,381.8 213.5,382.0 213.8,382.0 214.1,382.9 214.4,382.9 214.7,382.9 215.0,382.9 215.3,382.9 215.6,382.9 215.9,382.9 216.2,382.9 216.5,382.9 216.8,382.9 217.1,382.9 217.4,382.9 217.7,382.9 218.0,382.9 218.3,382.9 218.4,382.9" fill="#111"/>
<rect x="90.00" y="382.60" width="126.20" height="3.10" fill="#bc1e25"/>
<rect x="90.00" y="382.40" width="126.20" height="0.70" fill="#111" opacity="0.6"/>
<text x="66.60" y="376.80" font-size="6.3" fill="#2a2a2a" text-anchor="end" stroke="#2a2a2a" stroke-width="0.18">21</text>
<line x1="69.60" y1="374.60" x2="73.00" y2="374.60" stroke="#2a2a2a" stroke-width="1.0"/>
<line x1="76.0" y1="399.5" x2="246.0" y2="399.5" stroke="#2e2e8c" stroke-width="0.6" stroke-dasharray="2,1.6" opacity="0.38"/>
<polygon points="90.0,399.3 90.0,399.3 90.8,394.2 91.5,394.3 92.2,393.9 93.0,394.4 93.8,394.9 94.5,394.8 95.2,394.5 96.0,394.3 96.8,390.3 97.5,396.1 98.2,396.8 99.0,396.7 99.8,397.0 100.5,397.5 101.2,397.6 102.0,397.7 102.8,397.7 103.5,397.8 104.2,397.9 105.0,398.3 105.8,398.3 106.0,399.3" fill="#2e2e8c"/>
<polygon points="140.0,399.3 140.0,399.3 140.8,397.3 141.5,395.8 142.2,396.3 143.0,397.5 143.8,396.5 144.5,397.9 145.2,397.4 146.0,397.5 146.8,396.9 147.5,396.4 148.2,395.3 149.0,396.4 149.8,398.2 150.0,399.3" fill="#2e2e8c"/>
<polygon points="150.0,399.3 150.0,399.3 150.8,398.8 151.5,398.4 152.2,397.9 153.0,397.8 153.8,397.7 154.5,397.7 155.2,397.5 156.0,398.0 156.8,398.3 157.5,398.5 158.2,397.9 159.0,397.4 159.8,398.3 160.5,397.5 161.2,397.8 162.0,398.0 162.8,398.2 163.5,397.8 164.2,397.9 165.0,396.9 165.8,397.1 166.5,396.8 167.2,398.2 168.0,399.3 168.0,399.3" fill="#2e2e8c"/>
<polygon points="168.0,399.3 168.0,399.3 168.8,397.2 169.5,395.7 170.2,395.6 171.0,395.2 171.8,394.5 172.5,394.1 173.2,395.1 174.0,396.5 174.8,396.9 175.5,394.4 176.2,395.7 177.0,395.9 177.8,395.2 178.5,394.8 179.2,396.4 180.0,395.2 180.8,391.8 181.5,391.8 182.2,391.8 183.0,391.8 183.8,393.9 184.5,392.8 185.2,393.6 186.0,396.3 186.8,394.9 187.5,393.6 188.2,391.8 189.0,391.8 189.8,391.8 190.5,395.1 191.2,396.7 192.0,394.4 192.8,395.5 193.5,394.0 194.2,394.7 195.0,396.3 195.8,397.4 196.5,396.9 197.2,396.3 198.0,396.4 198.8,395.3 199.5,395.2 200.2,394.3 201.0,393.5 201.8,395.3 202.5,397.1 203.2,397.0 204.0,397.8 204.8,396.3 205.5,396.9 206.2,395.9 207.0,397.5 207.8,398.3 208.5,398.6 209.0,399.3" fill="#2e2e8c"/>
<rect x="90.20" y="399.00" width="123.60" height="3.10" fill="#bc1e25"/>
<rect x="90.20" y="398.80" width="123.60" height="0.70" fill="#2e2e8c" opacity="0.6"/>
<text x="66.60" y="392.80" font-size="6.3" fill="#363648" text-anchor="end" stroke="#363648" stroke-width="0.18">13</text>
<line x1="69.60" y1="390.60" x2="73.00" y2="390.60" stroke="#363648" stroke-width="1.0"/>
<line x1="76.0" y1="412.6" x2="246.0" y2="412.6" stroke="#2e2e8c" stroke-width="0.6" stroke-dasharray="2,1.6" opacity="0.38"/>
<polygon points="90.0,412.4 90.0,412.4 90.8,407.1 91.5,406.2 92.2,405.9 93.0,404.6 93.8,404.4 94.5,405.0 95.2,406.7 96.0,408.4 96.8,408.7 97.5,409.3 98.2,409.4 99.0,409.4 99.8,410.0 100.5,410.1 101.2,410.2 102.0,410.6 102.8,410.7 103.5,411.0 104.2,411.0 105.0,411.1 105.8,411.2 106.0,412.4" fill="#2e2e8c"/>
<polygon points="140.0,412.4 140.0,412.4 140.8,411.8 141.5,411.4 142.2,411.0 143.0,409.6 143.8,409.0 144.5,407.0 145.2,407.9 146.0,408.1 146.8,409.6 147.5,409.8 148.2,409.7 149.0,410.6 149.8,410.7 150.5,410.5 151.2,410.8 152.0,410.7 152.8,410.4 153.5,407.7 154.2,406.9 155.0,408.3 155.8,407.6 156.5,408.1 157.2,408.5 158.0,409.1 158.8,409.3 159.5,410.6 160.2,410.2 161.0,410.7 161.8,410.0 162.5,410.1 163.2,410.6 164.0,409.1 164.8,410.2 165.5,408.7 166.2,409.4 167.0,409.9 167.8,410.2 168.5,410.2 169.2,409.0 170.0,407.2 170.8,408.9 171.5,410.0 172.2,409.8 173.0,408.1 173.8,409.6 174.5,410.6 175.2,410.4 176.0,411.0 176.8,410.7 177.5,409.8 178.2,409.8 179.0,409.0 179.8,407.3 180.5,406.9 181.2,406.9 182.0,409.3 182.8,407.1 183.5,406.9 184.2,409.8 185.0,408.5 185.8,409.4 186.5,409.5 187.2,410.1 188.0,408.6 188.8,406.9 189.5,408.0 190.2,407.2 191.0,408.8 191.8,407.9 192.5,410.1 193.2,409.6 194.0,409.9 194.8,410.2 195.5,408.9 196.2,410.6 197.0,410.7 197.8,411.5 198.5,411.6 199.2,409.4 200.0,409.1 200.8,409.2 201.5,406.9 202.2,406.9 203.0,407.1 203.8,406.9 204.5,408.7 205.2,408.9 206.0,409.5 206.8,409.9 207.5,410.9 208.2,411.5 209.0,412.4 209.0,412.4" fill="#2e2e8c"/>
<rect x="90.20" y="412.10" width="117.80" height="3.10" fill="#bc1e25"/>
<rect x="90.20" y="411.90" width="117.80" height="0.70" fill="#2e2e8c" opacity="0.6"/>
<text x="66.60" y="406.00" font-size="6.3" fill="#363648" text-anchor="end" stroke="#363648" stroke-width="0.18">4</text>
<line x1="69.60" y1="403.80" x2="73.00" y2="403.80" stroke="#363648" stroke-width="1.0"/>
<line x1="76.0" y1="425.9" x2="246.0" y2="425.9" stroke="#2e2e8c" stroke-width="0.6" stroke-dasharray="2,1.6" opacity="0.38"/>
<polygon points="92.0,425.7 92.0,425.7 92.8,425.3 93.5,425.1 94.2,424.5 95.0,424.7 95.8,424.7 96.5,424.5 97.2,423.5 98.0,424.3 98.8,423.5 99.5,423.8 100.0,425.7" fill="#2e2e8c"/>
<polygon points="147.0,425.7 147.0,425.7 147.8,425.5 148.5,425.1 149.2,424.4 150.0,424.7 150.8,424.6 151.5,425.0 152.2,425.2 153.0,424.2 153.8,423.9 154.5,424.2 155.2,424.2 156.0,423.5 156.8,423.5 157.5,424.1 158.2,424.8 159.0,423.8 159.8,423.5 160.5,423.5 161.2,424.1 162.0,424.3 162.8,424.4 163.5,424.3 164.2,424.1 165.0,423.5 165.8,424.4 166.5,424.4 167.2,424.4 168.0,424.6 168.8,424.8 169.5,425.0 170.2,425.0 171.0,424.5 171.8,424.4 172.5,424.1 173.2,424.6 174.0,424.5 174.8,424.5 175.5,424.6 176.2,423.5 177.0,423.5 177.8,423.5 178.5,423.5 179.2,424.3 180.0,424.2 180.8,424.0 181.5,424.3 182.2,423.8 183.0,424.6 183.8,423.5 184.5,424.5 185.2,424.2 186.0,424.5 186.8,424.7 187.5,424.9 188.2,424.7 189.0,424.5 189.8,424.3 190.5,424.9 191.2,425.0 192.0,425.0 192.8,424.2 193.5,424.7 194.2,424.9 195.0,424.6 195.8,423.5 196.5,423.7 197.2,424.2 198.0,424.2 198.8,424.3 199.5,424.2 200.2,423.6 201.0,424.4 201.8,424.3 202.5,424.9 203.2,425.1 204.0,425.5 204.8,425.6 205.0,425.7" fill="#2e2e8c"/>
<text x="66.60" y="419.70" font-size="6.3" fill="#363648" text-anchor="end" stroke="#363648" stroke-width="0.18">4</text>
<line x1="69.60" y1="417.50" x2="73.00" y2="417.50" stroke="#363648" stroke-width="1.0"/>
<line x1="76.0" y1="440.1" x2="246.0" y2="440.1" stroke="#2e2e8c" stroke-width="0.6" stroke-dasharray="2,1.6" opacity="0.38"/>
<polygon points="91.0,439.9 91.0,439.9 91.8,434.8 92.5,432.9 93.2,433.1 94.0,433.7 94.8,432.0 95.5,434.6 96.2,434.9 97.0,435.5 97.8,430.9 98.5,436.6 99.2,436.5 100.0,436.5 100.8,437.0 101.5,437.1 102.2,437.4 103.0,437.9 103.8,438.0 104.5,438.2 105.2,438.1 106.0,438.3 106.8,438.4 107.5,438.6 108.0,439.9" fill="#2e2e8c"/>
<polygon points="147.0,439.9 147.0,439.9 147.8,439.5 148.5,439.2 149.2,438.1 150.0,438.3 150.8,438.4 151.5,437.4 152.2,438.1 153.0,436.5 153.8,436.9 154.5,435.9 155.2,436.8 156.0,436.3 156.8,437.5 157.5,437.1 158.2,437.5 159.0,438.1 159.8,437.1 160.5,434.4 161.2,435.0 162.0,436.5 162.8,434.6 163.5,434.5 164.2,435.7 165.0,434.4 165.8,436.3 166.5,432.9 167.2,435.0 168.0,434.5 168.8,436.3 169.5,435.2 170.2,433.1 171.0,435.8 171.8,435.3 172.5,433.1 173.2,433.7 174.0,437.1 174.8,436.4 175.5,433.3 176.2,434.5 177.0,435.1 177.8,432.9 178.5,432.9 179.2,432.9 180.0,436.0 180.8,436.1 181.5,438.0 182.2,437.1 183.0,437.7 183.8,434.0 184.5,434.4 185.2,434.7 186.0,434.0 186.8,433.2 187.5,432.9 188.2,434.5 189.0,432.9 189.8,432.9 190.5,435.4 191.2,436.9 192.0,435.8 192.8,437.2 193.5,433.4 194.2,434.1 195.0,432.9 195.8,436.1 196.5,435.5 197.2,435.5 198.0,436.2 198.8,436.4 199.5,435.4 200.2,434.6 201.0,432.9 201.8,433.9 202.5,435.2 203.2,435.2 204.0,434.8 204.8,433.0 205.5,435.7 206.2,436.4 207.0,435.8 207.8,435.2 208.5,435.9 209.2,438.0 210.0,436.9 210.8,438.2 211.5,438.3 212.2,438.9 213.0,437.6 213.8,438.0 214.5,439.4 215.0,439.9" fill="#2e2e8c"/>
<rect x="91.00" y="439.60" width="124.00" height="3.10" fill="#bc1e25"/>
<rect x="91.00" y="439.40" width="124.00" height="0.70" fill="#2e2e8c" opacity="0.6"/>
<text x="66.60" y="433.50" font-size="6.3" fill="#363648" text-anchor="end" stroke="#363648" stroke-width="0.18">6</text>
<line x1="69.60" y1="431.30" x2="73.00" y2="431.30" stroke="#363648" stroke-width="1.0"/>
<line x1="76.0" y1="452.8" x2="246.0" y2="452.8" stroke="#2e2e8c" stroke-width="0.6" stroke-dasharray="2,1.6" opacity="0.38"/>
<polygon points="92.0,452.6 92.0,452.3 92.8,452.1 93.5,452.0 94.2,451.8 95.0,451.5 95.8,451.3 96.5,451.1 97.2,450.9 98.0,450.4 98.8,449.4 99.5,449.0 100.2,450.4 101.0,449.3 101.8,448.6 102.5,451.0 103.2,452.0 104.0,452.2 104.8,452.3 105.5,452.4 106.0,452.6" fill="#2e2e8c"/>
<polygon points="147.0,452.6 147.0,452.6 147.8,451.9 148.5,451.1 149.2,450.9 150.0,451.3 150.8,451.1 151.5,451.7 152.2,450.4 153.0,449.2 153.8,450.3 154.5,449.7 155.2,450.8 156.0,450.1 156.8,451.0 157.5,451.5 158.2,451.5 159.0,451.1 159.8,450.9 160.5,451.1 161.2,451.1 162.0,450.3 162.8,450.1 163.5,451.0 164.2,451.0 165.0,451.2 165.8,451.3 166.5,450.3 167.2,450.1 168.0,450.1 168.8,449.4 169.5,448.9 170.2,448.1 171.0,448.8 171.8,449.9 172.5,450.3 173.2,450.7 174.0,449.2 174.8,450.2 175.5,451.0 176.2,450.9 177.0,449.4 177.8,449.8 178.5,449.5 179.2,449.5 180.0,450.6 180.8,450.7 181.5,449.5 182.2,448.8 183.0,449.4 183.8,450.0 184.5,449.4 185.2,450.5 186.0,451.4 186.8,451.1 187.5,450.8 188.2,450.3 189.0,448.9 189.8,448.1 190.5,449.0 191.2,449.9 192.0,450.5 192.8,450.5 193.5,450.3 194.2,449.5 195.0,450.5 195.8,449.8 196.5,450.5 197.2,449.9 198.0,448.1 198.8,448.1 199.5,449.4 200.2,448.8 201.0,448.1 201.8,448.1 202.5,450.1 203.2,450.4 204.0,450.5 204.8,451.0 205.5,450.2 206.2,450.3 207.0,450.8 207.8,450.1 208.5,448.2 209.2,448.1 210.0,449.6 210.8,450.8 211.5,451.3 212.2,450.7 213.0,451.1 213.8,451.8 214.5,452.1 215.0,452.6" fill="#2e2e8c"/>
<text x="66.60" y="446.80" font-size="6.3" fill="#363648" text-anchor="end" stroke="#363648" stroke-width="0.18">4</text>
<line x1="69.60" y1="444.60" x2="73.00" y2="444.60" stroke="#363648" stroke-width="1.0"/>
<line x1="76.0" y1="466.7" x2="246.0" y2="466.7" stroke="#2e2e8c" stroke-width="0.6" stroke-dasharray="2,1.6" opacity="0.38"/>
<polygon points="92.0,466.5 92.0,466.5 92.8,462.9 93.5,463.1 94.2,462.9 95.0,463.5 95.8,463.4 96.5,464.0 97.2,461.0 98.0,462.9 98.8,461.6 99.5,464.8 100.2,465.0 101.0,465.1 101.8,465.1 102.5,465.5 103.2,465.5 104.0,465.6 104.8,465.6 105.5,465.8 106.0,466.5" fill="#2e2e8c"/>
<polygon points="140.0,466.5 140.0,466.5 140.8,465.6 141.5,465.3 142.2,465.3 143.0,465.4 143.8,465.6 144.5,465.1 145.2,465.1 146.0,462.7 146.8,463.1 147.5,462.9 148.2,462.6 149.0,464.2 149.8,462.9 150.5,464.7 151.2,464.1 152.0,465.0 152.8,463.8 153.5,464.1 154.2,464.8 155.0,463.9 155.8,463.9 156.5,463.1 157.2,464.3 158.0,463.2 158.8,461.3 159.5,460.5 160.2,461.2 161.0,462.6 161.8,463.0 162.5,464.2 163.2,461.5 164.0,462.4 164.8,463.0 165.5,463.3 166.2,463.6 167.0,465.0 167.8,462.4 168.5,462.6 169.2,461.0 170.0,460.5 170.8,461.5 171.5,462.3 172.2,463.6 173.0,464.2 173.8,462.5 174.5,463.7 175.2,461.5 176.0,460.7 176.8,460.5 177.5,460.5 178.2,462.1 179.0,463.4 179.8,462.7 180.5,463.1 181.2,463.9 182.0,463.0 182.8,463.2 183.5,460.6 184.2,460.5 185.0,462.3 185.8,460.5 186.5,461.8 187.2,461.7 188.0,463.6 188.8,463.1 189.5,462.6 190.2,464.0 191.0,463.8 191.8,462.2 192.5,460.9 193.2,462.3 194.0,462.0 194.8,463.2 195.5,464.3 196.2,464.1 197.0,464.8 197.8,465.1 198.5,462.6 199.2,463.5 200.0,462.8 200.8,462.7 201.5,463.3 202.2,462.4 203.0,463.6 203.8,463.5 204.5,462.8 205.2,464.6 206.0,464.0 206.8,465.0 207.5,465.5 208.2,466.2 209.0,466.5 209.0,466.5" fill="#2e2e8c"/>
<rect x="92.80" y="466.20" width="116.40" height="3.10" fill="#bc1e25"/>
<rect x="92.80" y="466.00" width="116.40" height="0.70" fill="#2e2e8c" opacity="0.6"/>
<text x="66.60" y="459.80" font-size="6.3" fill="#363648" text-anchor="end" stroke="#363648" stroke-width="0.18">4</text>
<line x1="69.60" y1="457.60" x2="73.00" y2="457.60" stroke="#363648" stroke-width="1.0"/>
<line x1="76.0" y1="478.9" x2="246.0" y2="478.9" stroke="#2e2e8c" stroke-width="0.6" stroke-dasharray="2,1.6" opacity="0.38"/>
<polygon points="92.0,478.7 92.0,478.2 92.8,477.9 93.5,477.5 94.2,477.0 95.0,476.6 95.8,476.1 96.5,473.2 97.2,475.2 98.0,474.7 98.8,472.7 99.5,475.3 100.2,477.9 101.0,478.2 101.8,478.4 102.0,478.7" fill="#2e2e8c"/>
<polygon points="147.0,478.7 147.0,478.7 147.8,478.6 148.5,478.5 149.2,478.3 150.0,477.5 150.8,476.4 151.5,475.5 152.2,477.0 153.0,476.5 153.8,476.5 154.5,476.4 155.2,475.7 156.0,475.8 156.8,476.5 157.5,477.6 158.2,477.8 159.0,477.9 159.8,477.4 160.5,476.8 161.2,476.6 162.0,477.4 162.8,476.9 163.5,476.2 164.2,477.4 165.0,477.2 165.8,476.5 166.5,476.3 167.2,476.1 168.0,475.8 168.8,476.5 169.5,477.0 170.2,477.0 171.0,477.4 171.8,476.3 172.5,475.7 173.2,476.3 174.0,476.5 174.8,476.4 175.5,476.5 176.2,476.1 177.0,475.2 177.8,475.2 178.5,476.0 179.2,475.4 180.0,475.5 180.8,475.9 181.5,475.8 182.2,476.0 183.0,476.4 183.8,476.0 184.5,476.6 185.2,477.1 186.0,476.6 186.8,475.9 187.5,476.4 188.2,476.0 189.0,476.1 189.8,475.2 190.5,475.9 191.2,475.4 192.0,477.0 192.8,476.2 193.5,475.5 194.2,475.9 195.0,476.8 195.8,476.0 196.5,476.6 197.2,475.5 198.0,476.2 198.8,475.2 199.5,476.5 200.2,476.1 201.0,476.6 201.8,476.6 202.5,477.4 203.2,477.7 204.0,477.0 204.8,476.9 205.5,477.0 206.2,477.3 207.0,478.0 207.8,478.4 208.5,478.5 209.0,478.7" fill="#2e2e8c"/>
<text x="66.60" y="473.00" font-size="6.3" fill="#363648" text-anchor="end" stroke="#363648" stroke-width="0.18">4</text>
<line x1="69.60" y1="470.80" x2="73.00" y2="470.80" stroke="#363648" stroke-width="1.0"/>
<line x1="76.0" y1="492.7" x2="246.0" y2="492.7" stroke="#2e2e8c" stroke-width="0.6" stroke-dasharray="2,1.6" opacity="0.38"/>
<polygon points="91.0,492.5 91.0,492.5 91.8,487.3 92.5,486.7 93.2,485.9 94.0,483.5 94.8,487.7 95.5,488.4 96.2,489.1 97.0,488.7 97.8,486.1 98.5,489.3 99.2,490.1 100.0,490.1 100.8,490.6 101.5,490.5 102.2,490.8 103.0,490.9 103.8,491.1 104.5,491.2 105.2,491.4 106.0,491.5 106.0,492.5" fill="#2e2e8c"/>
<polygon points="140.0,492.5 140.0,492.5 140.8,492.3 141.5,491.7 142.2,491.1 143.0,488.5 143.8,487.1 144.5,488.6 145.2,487.6 146.0,488.2 146.8,488.6 147.5,488.3 148.2,488.5 149.0,487.8 149.8,488.9 150.5,488.2 151.2,487.6 152.0,488.1 152.8,490.1 153.5,490.6 154.2,486.9 155.0,489.2 155.8,489.7 156.5,488.2 157.2,489.2 158.0,489.2 158.8,489.3 159.5,489.0 160.2,487.7 161.0,487.7 161.8,489.9 162.5,490.5 163.2,491.2 164.0,490.5 164.8,490.5 165.5,487.4 166.2,487.1 167.0,487.4 167.8,488.6 168.5,487.3 169.2,487.8 170.0,488.7 170.8,489.6 171.5,488.8 172.2,488.4 173.0,489.1 173.8,487.4 174.5,486.3 175.2,489.0 176.0,489.2 176.8,489.3 177.5,489.3 178.2,487.3 179.0,489.1 179.8,488.5 180.5,490.6 181.2,488.0 182.0,488.0 182.8,488.7 183.5,489.1 184.2,488.0 185.0,487.8 185.8,486.6 186.5,489.0 187.2,489.9 188.0,489.0 188.8,489.7 189.5,489.0 190.2,488.9 191.0,489.1 191.8,486.4 192.5,487.2 193.2,487.0 194.0,489.6 194.8,487.1 195.5,488.6 196.2,488.8 197.0,485.5 197.8,487.9 198.5,485.5 199.2,486.5 200.0,488.9 200.8,486.5 201.5,487.1 202.2,489.6 203.0,490.3 203.8,490.4 204.5,489.9 205.2,489.2 206.0,489.0 206.8,490.4 207.5,491.7 208.2,492.0 209.0,492.5 209.0,492.5" fill="#2e2e8c"/>
<rect x="91.00" y="492.20" width="117.80" height="3.10" fill="#bc1e25"/>
<rect x="91.00" y="492.00" width="117.80" height="0.70" fill="#2e2e8c" opacity="0.6"/>
<text x="66.60" y="486.70" font-size="6.3" fill="#363648" text-anchor="end" stroke="#363648" stroke-width="0.18">6</text>
<line x1="69.60" y1="484.50" x2="73.00" y2="484.50" stroke="#363648" stroke-width="1.0"/>
<line x1="76.0" y1="506.2" x2="246.0" y2="506.2" stroke="#2e2e8c" stroke-width="0.6" stroke-dasharray="2,1.6" opacity="0.38"/>
<polygon points="90.0,506.0 90.0,506.0 90.8,500.4 91.5,499.1 92.2,499.0 93.0,499.0 93.8,498.2 94.5,501.3 95.2,497.5 96.0,502.1 96.8,502.2 97.5,502.6 98.2,503.1 99.0,503.3 99.8,503.5 100.5,503.4 101.2,503.9 102.0,504.0 102.8,504.2 103.5,504.4 104.2,504.5 105.0,504.8 105.8,504.8 106.0,506.0" fill="#2e2e8c"/>
<polygon points="147.0,506.0 147.0,506.0 147.8,505.7 148.5,505.5 149.2,504.4 150.0,503.1 150.8,501.4 151.5,499.0 152.2,499.9 153.0,502.0 153.8,503.0 154.5,503.5 155.2,500.2 156.0,500.1 156.8,501.6 157.5,500.6 158.2,502.6 159.0,503.0 159.8,503.5 160.5,503.7 161.2,501.3 162.0,499.0 162.8,501.8 163.5,502.2 164.2,500.9 165.0,499.9 165.8,501.3 166.5,502.0 167.2,502.0 168.0,501.4 168.8,500.6 169.5,503.1 170.2,502.8 171.0,502.0 171.8,500.8 172.5,501.4 173.2,503.5 174.0,501.0 174.8,502.2 175.5,501.8 176.2,500.8 177.0,500.6 177.8,501.1 178.5,500.3 179.2,503.0 180.0,503.2 180.8,502.6 181.5,501.3 182.2,502.5 183.0,499.3 183.8,502.2 184.5,499.4 185.2,501.6 186.0,499.6 186.8,501.5 187.5,502.0 188.2,502.6 189.0,502.9 189.8,501.8 190.5,502.0 191.2,499.7 192.0,499.1 192.8,501.8 193.5,502.1 194.2,500.3 195.0,502.1 195.8,500.3 196.5,501.7 197.2,501.0 198.0,501.1 198.8,503.5 199.5,503.3 200.2,502.0 201.0,500.5 201.8,501.2 202.5,502.9 203.2,502.7 204.0,501.5 204.8,503.5 205.5,503.6 206.2,504.2 207.0,502.2 207.8,500.8 208.5,503.5 209.2,502.6 210.0,504.0 210.8,504.4 211.5,505.4 212.0,506.0" fill="#2e2e8c"/>
<rect x="90.20" y="505.70" width="121.80" height="3.10" fill="#bc1e25"/>
<rect x="90.20" y="505.50" width="121.80" height="0.70" fill="#2e2e8c" opacity="0.6"/>
<text x="66.60" y="499.80" font-size="6.3" fill="#363648" text-anchor="end" stroke="#363648" stroke-width="0.18">7</text>
<line x1="69.60" y1="497.60" x2="73.00" y2="497.60" stroke="#363648" stroke-width="1.0"/>
<line x1="76.0" y1="520.4" x2="246.0" y2="520.4" stroke="#2e2e8c" stroke-width="0.6" stroke-dasharray="2,1.6" opacity="0.38"/>
<polygon points="92.0,520.2 92.0,519.9 92.8,519.6 93.5,519.0 94.2,517.3 95.0,516.2 95.8,516.4 96.5,518.6 97.2,519.0 98.0,519.4 98.8,519.7 99.5,519.9 100.0,520.2" fill="#2e2e8c"/>
<polygon points="147.0,520.2 147.0,520.2 147.8,519.6 148.5,519.0 149.2,518.5 150.0,518.9 150.8,515.4 151.5,515.1 152.2,513.8 153.0,514.0 153.8,513.8 154.5,514.1 155.2,516.0 156.0,515.3 156.8,516.4 157.5,516.5 158.2,517.2 159.0,516.7 159.8,516.1 160.5,514.4 161.2,515.7 162.0,517.3 162.8,517.2 163.5,518.2 164.2,515.9 165.0,514.5 165.8,513.2 166.5,514.2 167.2,514.4 168.0,516.3 168.8,516.6 169.5,516.9 170.2,517.5 171.0,516.8 171.8,514.7 172.5,515.6 173.2,515.8 174.0,515.4 174.8,516.6 175.5,517.2 176.2,515.3 177.0,516.0 177.8,516.2 178.5,514.8 179.2,515.9 180.0,517.9 180.8,518.0 181.5,515.0 182.2,517.1 183.0,514.6 183.8,514.3 184.5,514.7 185.2,516.8 186.0,515.3 186.8,517.3 187.5,516.2 188.2,517.5 189.0,514.2 189.8,515.2 190.5,516.8 191.2,517.5 192.0,518.2 192.8,517.6 193.5,517.1 194.2,517.1 195.0,516.8 195.8,516.5 196.5,516.0 197.2,517.6 198.0,516.0 198.8,516.6 199.5,515.3 200.2,515.0 201.0,514.2 201.8,514.1 202.5,516.6 203.2,515.0 204.0,515.9 204.8,515.7 205.5,515.8 206.2,518.1 207.0,517.8 207.8,519.4 208.5,519.7 209.0,520.2" fill="#2e2e8c"/>
<rect x="146.40" y="519.90" width="62.80" height="3.10" fill="#bc1e25"/>
<rect x="146.40" y="519.70" width="62.80" height="0.70" fill="#2e2e8c" opacity="0.6"/>
<text x="66.60" y="513.00" font-size="6.3" fill="#363648" text-anchor="end" stroke="#363648" stroke-width="0.18">9</text>
<line x1="69.60" y1="510.80" x2="73.00" y2="510.80" stroke="#363648" stroke-width="1.0"/>
<line x1="76.0" y1="533.4" x2="246.0" y2="533.4" stroke="#2e2e8c" stroke-width="0.6" stroke-dasharray="2,1.6" opacity="0.38"/>
<polygon points="90.0,533.2 90.0,533.2 90.8,528.3 91.5,527.2 92.2,526.1 93.0,525.2 93.8,528.6 94.5,528.5 95.2,529.4 96.0,527.4 96.8,530.1 97.5,528.5 98.2,528.4 99.0,530.7 99.8,530.9 100.5,531.2 101.2,531.4 102.0,531.7 102.8,531.8 103.5,531.7 104.2,531.9 105.0,532.1 105.8,532.1 106.0,533.2" fill="#2e2e8c"/>
<polygon points="140.0,533.2 140.0,533.2 140.8,532.4 141.5,531.9 142.2,531.4 143.0,531.0 143.8,531.3 144.5,528.8 145.2,530.3 146.0,529.5 146.8,530.4 147.5,529.8 148.2,530.2 149.0,530.7 149.8,531.5 150.5,531.0 151.2,529.9 152.0,530.2 152.8,528.6 153.5,527.7 154.2,528.5 155.0,528.6 155.8,530.7 156.5,530.6 157.2,531.5 158.0,531.8 158.8,529.7 159.5,530.8 160.2,531.3 161.0,529.4 161.8,531.5 162.5,531.8 163.2,530.0 164.0,529.3 164.8,530.4 165.5,530.5 166.2,529.3 167.0,530.2 167.8,527.7 168.5,527.7 169.2,530.8 170.0,530.0 170.8,529.9 171.5,530.3 172.2,530.6 173.0,529.9 173.8,528.2 174.5,530.2 175.2,529.9 176.0,527.7 176.8,528.9 177.5,528.7 178.2,530.7 179.0,530.4 179.8,530.9 180.5,530.2 181.2,529.9 182.0,530.2 182.8,529.3 183.5,528.6 184.2,529.6 185.0,530.9 185.8,531.5 186.5,528.5 187.2,528.7 188.0,530.2 188.8,528.8 189.5,529.7 190.2,530.9 191.0,530.7 191.8,529.8 192.5,530.4 193.2,530.8 194.0,530.7 194.8,530.6 195.5,530.1 196.2,530.9 197.0,528.0 197.8,529.6 198.5,529.7 199.2,530.0 200.0,531.1 200.8,530.1 201.5,529.8 202.2,530.1 203.0,531.6 203.8,530.4 204.5,531.6 205.2,532.0 206.0,532.2 206.8,532.5 207.5,533.0 208.0,533.2" fill="#2e2e8c"/>
<rect x="90.20" y="532.90" width="117.80" height="3.10" fill="#bc1e25"/>
<rect x="90.20" y="532.70" width="117.80" height="0.70" fill="#2e2e8c" opacity="0.6"/>
<text x="66.60" y="526.80" font-size="6.3" fill="#363648" text-anchor="end" stroke="#363648" stroke-width="0.18">5</text>
<line x1="69.60" y1="524.60" x2="73.00" y2="524.60" stroke="#363648" stroke-width="1.0"/>
<text x="54.60" y="328.00" font-size="6.7" fill="#222" text-anchor="end" textLength="43.20" lengthAdjust="spacingAndGlyphs" stroke="#222" stroke-width="0.18">Jurkat (T-ALL)</text>
<text x="55.60" y="341.60" font-size="6.7" fill="#222" text-anchor="end" textLength="44.60" lengthAdjust="spacingAndGlyphs" stroke="#222" stroke-width="0.18">Normal thymus</text>
<text x="7.00" y="360.40" font-size="6.7" fill="#222" textLength="21.20" lengthAdjust="spacingAndGlyphs" stroke="#222" stroke-width="0.18">Normal</text>
<text x="7.20" y="367.90" font-size="6.7" fill="#222" textLength="16.50" lengthAdjust="spacingAndGlyphs" stroke="#222" stroke-width="0.18">CD4+</text>
<text x="7.20" y="375.40" font-size="6.7" fill="#222" textLength="17.40" lengthAdjust="spacingAndGlyphs" stroke="#222" stroke-width="0.18">T-cell</text>
<line x1="31.30" y1="347.00" x2="31.30" y2="381.30" stroke="#111" stroke-width="1.3"/>
<text x="35.00" y="356.20" font-size="6.7" fill="#222" stroke="#222" stroke-width="0.18">Th1</text>
<text x="35.00" y="367.90" font-size="6.7" fill="#222" stroke="#222" stroke-width="0.18">Th2</text>
<text x="35.00" y="379.90" font-size="6.7" fill="#222" stroke="#222" stroke-width="0.18">Th17</text>
<line x1="31.30" y1="392.80" x2="31.30" y2="534.50" stroke="#111" stroke-width="1.3"/>
<text x="16.20" y="465.60" font-size="6.7" fill="#222" textLength="11.40" lengthAdjust="spacingAndGlyphs" stroke="#222" stroke-width="0.18">ATL</text>
<text x="34.60" y="397.80" font-size="6.7" fill="#222" stroke="#222" stroke-width="0.18">TL-Om1</text>
<text x="34.60" y="411.20" font-size="6.7" fill="#222" stroke="#222" stroke-width="0.18">ATL1</text>
<text x="34.60" y="424.80" font-size="6.7" fill="#222" stroke="#222" stroke-width="0.18">ATL2</text>
<text x="34.60" y="438.20" font-size="6.7" fill="#222" stroke="#222" stroke-width="0.18">ATL3</text>
<text x="34.60" y="451.70" font-size="6.7" fill="#222" stroke="#222" stroke-width="0.18">ATL4</text>
<text x="34.60" y="465.40" font-size="6.7" fill="#222" stroke="#222" stroke-width="0.18">ATL5</text>
<text x="34.60" y="478.70" font-size="6.7" fill="#222" stroke="#222" stroke-width="0.18">ATL6</text>
<text x="34.60" y="492.00" font-size="6.7" fill="#222" stroke="#222" stroke-width="0.18">ATL7</text>
<text x="34.60" y="505.00" font-size="6.7" fill="#222" stroke="#222" stroke-width="0.18">ATL8</text>
<text x="34.60" y="518.00" font-size="6.7" fill="#222" stroke="#222" stroke-width="0.18">ATL9</text>
<text x="34.60" y="531.80" font-size="6.7" fill="#222" stroke="#222" stroke-width="0.18">ATL10</text>
<line x1="152.00" y1="541.30" x2="201.00" y2="541.30" stroke="#111" stroke-width="0.9"/>
<polygon points="200.5,539.4 203.5,541.3 200.5,543.2" fill="#111"/>
<line x1="152.00" y1="539.60" x2="152.00" y2="543.00" stroke="#111" stroke-width="0.8"/>
<line x1="172.60" y1="539.60" x2="172.60" y2="543.00" stroke="#111" stroke-width="0.8"/>
<line x1="186.80" y1="539.60" x2="186.80" y2="543.00" stroke="#111" stroke-width="0.8"/>
<line x1="152.00" y1="544.10" x2="189.40" y2="544.10" stroke="#6a6aa0" stroke-width="0.8"/>
<line x1="189.20" y1="542.80" x2="189.20" y2="545.20" stroke="#6a6aa0" stroke-width="0.7"/>
<text x="160.40" y="556.00" font-size="9.0" fill="#222" font-style="italic" textLength="17.60" lengthAdjust="spacingAndGlyphs" stroke="#222" stroke-width="0.32">CD2</text>
<text x="268.60" y="305.00" font-size="12.5" fill="#000" font-weight="bold">E</text>
<text x="337.30" y="313.30" font-size="4.8" fill="#111" textLength="33.70" lengthAdjust="spacingAndGlyphs" stroke="#111" stroke-width="0.18">chr10 6,070,0001</text>
<text x="382.70" y="313.30" font-size="4.8" fill="#111" textLength="21.10" lengthAdjust="spacingAndGlyphs" stroke="#111" stroke-width="0.18">6,090,0001</text>
<text x="418.00" y="313.30" font-size="4.8" fill="#111" textLength="21.00" lengthAdjust="spacingAndGlyphs" stroke="#111" stroke-width="0.18">6,110,0001</text>
<text x="452.70" y="313.30" font-size="4.8" fill="#111" textLength="19.30" lengthAdjust="spacingAndGlyphs" stroke="#111" stroke-width="0.18">6,130,0001</text>
<text x="481.50" y="313.30" font-size="4.8" fill="#111" textLength="23.10" lengthAdjust="spacingAndGlyphs" stroke="#111" stroke-width="0.18">6,150,0001</text>
<line x1="383.50" y1="306.50" x2="467.30" y2="306.50" stroke="#111" stroke-width="1.0"/>
<line x1="383.70" y1="304.80" x2="383.70" y2="308.20" stroke="#111" stroke-width="0.9"/>
<line x1="467.10" y1="304.80" x2="467.10" y2="308.20" stroke="#111" stroke-width="0.9"/>
<text x="423.80" y="304.20" font-size="4.4" fill="#444" text-anchor="middle" stroke="#444" stroke-width="0.05">50 kb</text>
<rect x="336.80" y="316.60" width="175.60" height="25.00" fill="none" stroke="#74a03c" stroke-width="1.3"/>
<rect x="336.80" y="343.20" width="175.60" height="40.60" fill="none" stroke="#000" stroke-width="1.5"/>
<rect x="336.80" y="385.80" width="175.60" height="149.00" fill="none" stroke="#3e3e80" stroke-width="1.5"/>
<line x1="339.8" y1="327.1" x2="509.4" y2="327.1" stroke="#8a9a7a" stroke-width="0.6" stroke-dasharray="2,1.6" opacity="0.38"/>
<polygon points="340.0,326.9 340.0,326.6 340.3,326.8 340.6,326.7 340.9,326.7 341.2,326.6 341.5,326.7 341.8,326.6 342.1,326.6 342.4,326.7 342.7,326.6 343.0,326.6 343.3,326.6 343.6,326.7 343.9,326.7 344.2,326.6 344.5,326.6 344.8,326.6 345.1,326.6 345.4,326.6 345.7,326.7 346.0,326.6 346.3,326.6 346.6,326.8 346.9,326.7 347.2,326.7 347.5,326.7 347.8,326.7 348.1,326.7 348.4,326.7 348.7,326.7 349.0,326.6 349.3,326.7 349.6,326.6 349.9,326.8 350.2,326.6 350.5,326.6 350.8,326.7 351.1,326.6 351.4,326.8 351.7,326.6 352.0,326.7 352.3,326.6 352.6,326.7 352.9,326.7 353.2,326.6 353.5,326.8 353.8,326.7 354.1,326.6 354.4,326.6 354.7,326.7 355.0,326.7 355.3,326.6 355.6,326.7 355.9,326.7 356.2,326.7 356.5,326.7 356.8,326.6 357.1,326.6 357.4,326.7 357.7,326.6 358.0,326.7 358.3,326.6 358.6,326.7 358.9,326.8 359.2,326.7 359.5,326.8 359.8,326.6 360.1,326.7 360.4,326.7 360.7,326.7 361.0,326.6 361.3,326.7 361.6,326.7 361.9,326.7 362.2,326.6 362.5,326.7 362.8,326.6 363.1,326.6 363.4,326.6 363.7,326.7 364.0,326.6 364.3,326.7 364.6,326.7 364.9,326.6 365.2,326.7 365.5,326.6 365.8,326.7 366.1,326.7 366.4,326.7 366.7,326.6 367.0,326.7 367.3,326.7 367.6,326.6 367.9,326.7 368.2,326.7 368.5,326.6 368.8,326.6 369.1,326.6 369.4,326.6 369.7,326.6 370.0,326.8 370.3,326.6 370.6,326.6 370.9,326.6 371.2,326.8 371.5,326.7 371.8,326.6 372.1,326.8 372.4,326.6 372.7,326.6 373.0,326.7 373.3,326.7 373.6,326.7 373.9,326.6 374.2,326.6 374.5,326.8 374.8,326.6 375.1,326.6 375.4,326.7 375.7,326.6 376.0,326.7 376.3,326.6 376.6,326.7 376.9,326.7 377.2,326.7 377.5,326.6 377.8,326.7 378.1,326.6 378.4,326.6 378.7,326.6 379.0,326.7 379.3,326.7 379.6,326.7 379.9,326.7 380.2,326.6 380.5,326.6 380.8,326.7 381.1,326.7 381.4,326.7 381.7,326.8 382.0,326.6 382.3,326.6 382.6,326.6 382.9,326.6 383.2,326.7 383.5,326.6 383.8,326.6 384.1,326.6 384.4,326.4 384.7,326.2 385.0,326.0 385.3,325.7 385.6,325.7 385.9,325.6 386.2,325.5 386.5,325.7 386.8,325.7 387.1,326.1 387.4,326.1 387.7,326.4 388.0,326.7 388.3,326.6 388.6,326.7 388.9,326.6 389.2,326.6 389.5,326.7 389.8,326.7 390.1,326.6 390.4,326.6 390.7,326.7 391.0,326.6 391.3,326.6 391.6,326.6 391.9,326.6 392.2,326.7 392.5,326.6 392.8,326.7 393.1,326.7 393.4,326.7 393.7,326.6 394.0,326.7 394.3,326.6 394.6,326.6 394.9,326.6 395.2,326.7 395.5,326.6 395.8,326.6 396.1,326.8 396.4,326.7 396.7,326.7 397.0,326.6 397.3,326.8 397.6,326.7 397.9,326.8 398.2,326.7 398.5,326.7 398.8,326.7 399.1,326.6 399.4,326.7 399.7,326.8 400.0,326.6 400.3,326.8 400.6,326.7 400.9,326.8 401.2,326.7 401.5,326.7 401.8,326.8 402.1,326.6 402.4,326.7 402.7,326.6 403.0,326.7 403.3,326.7 403.6,326.7 403.9,326.8 404.2,326.6 404.5,326.7 404.8,326.7 405.1,326.6 405.4,326.6 405.7,326.7 406.0,326.8 406.3,326.6 406.6,326.7 406.9,326.7 407.2,326.6 407.5,326.5 407.8,326.3 408.1,326.2 408.4,326.0 408.7,325.8 409.0,326.0 409.3,326.1 409.6,326.2 409.9,326.5 410.2,326.6 410.5,326.6 410.8,326.8 411.1,326.7 411.4,326.7 411.7,326.6 412.0,326.7 412.3,326.7 412.6,326.7 412.9,326.6 413.2,326.8 413.5,326.8 413.8,326.6 414.1,326.7 414.4,326.8 414.7,326.6 415.0,326.7 415.3,326.6 415.6,326.7 415.9,326.7 416.2,326.6 416.5,326.6 416.8,326.6 417.1,326.8 417.4,326.7 417.7,326.8 418.0,326.7 418.3,326.7 418.6,326.6 418.9,326.7 419.2,326.6 419.5,326.7 419.8,326.7 420.1,326.7 420.4,326.8 420.7,326.7 421.0,326.8 421.3,326.7 421.6,326.7 421.9,326.7 422.2,326.7 422.5,326.7 422.8,326.7 423.1,326.6 423.4,326.6 423.7,326.7 424.0,326.6 424.3,326.7 424.6,326.7 424.9,326.7 425.2,326.7 425.5,326.7 425.8,326.6 426.1,326.6 426.4,326.6 426.7,326.8 427.0,326.7 427.3,326.7 427.6,326.6 427.9,326.6 428.2,326.6 428.5,326.8 428.8,326.8 429.1,326.6 429.4,326.7 429.7,326.6 430.0,326.7 430.3,326.7 430.6,326.6 430.9,326.6 431.2,326.7 431.5,326.6 431.8,326.7 432.1,326.7 432.4,326.7 432.7,326.6 433.0,326.8 433.3,326.6 433.6,326.8 433.9,326.6 434.2,326.6 434.5,326.7 434.8,326.7 435.1,326.7 435.4,326.7 435.7,326.7 436.0,326.7 436.3,326.6 436.6,326.7 436.9,326.7 437.2,326.7 437.5,326.8 437.8,326.8 438.1,326.6 438.4,326.7 438.7,326.6 439.0,326.6 439.3,326.6 439.6,326.7 439.9,326.8 440.2,326.8 440.5,326.6 440.8,326.6 441.1,326.8 441.4,326.6 441.7,326.7 442.0,326.6 442.3,326.8 442.6,326.6 442.9,326.6 443.2,326.7 443.5,326.8 443.8,326.6 444.1,326.6 444.4,326.6 444.7,326.6 445.0,326.7 445.3,326.6 445.6,326.8 445.9,326.6 446.2,326.6 446.5,326.6 446.8,326.7 447.1,326.7 447.4,326.6 447.7,326.7 448.0,326.7 448.3,326.6 448.6,326.6 448.9,326.7 449.2,326.6 449.5,326.7 449.8,326.7 450.1,326.7 450.4,326.6 450.7,326.6 451.0,326.7 451.3,326.6 451.6,326.6 451.9,326.7 452.2,326.7 452.5,326.6 452.8,326.7 453.1,326.7 453.4,326.6 453.7,326.6 454.0,326.6 454.3,326.6 454.6,326.6 454.9,326.7 455.2,326.6 455.5,326.7 455.8,326.7 456.1,326.6 456.4,326.6 456.7,326.7 457.0,326.6 457.3,326.6 457.6,326.7 457.9,326.6 458.2,326.6 458.5,326.7 458.8,326.6 459.1,326.6 459.4,326.6 459.7,326.6 460.0,326.7 460.3,326.7 460.6,326.8 460.9,326.7 461.2,326.7 461.5,326.6 461.8,326.6 462.1,326.7 462.4,326.6 462.7,326.6 463.0,326.7 463.3,326.7 463.6,326.7 463.9,326.7 464.2,326.6 464.5,326.6 464.8,326.6 465.1,326.7 465.4,326.7 465.7,326.6 466.0,326.8 466.3,326.6 466.6,326.8 466.9,326.6 467.2,326.6 467.5,326.8 467.8,326.7 468.1,326.7 468.4,326.6 468.7,326.8 469.0,326.7 469.3,326.7 469.6,326.6 469.9,326.6 470.2,326.6 470.5,326.0 470.8,325.0 471.1,324.3 471.4,323.7 471.7,322.9 472.0,321.5 472.3,322.3 472.6,323.0 472.9,324.0 473.2,324.9 473.5,326.0 473.8,326.6 474.1,326.6 474.4,326.7 474.7,326.6 475.0,326.8 475.3,326.6 475.6,326.6 475.9,326.8 476.2,326.7 476.5,326.8 476.8,326.6 477.1,326.6 477.4,326.7 477.7,326.7 478.0,326.7 478.3,326.8 478.6,326.6 478.9,326.8 479.2,326.7 479.5,326.7 479.8,326.7 480.1,326.6 480.4,326.7 480.7,326.6 481.0,326.8 481.3,326.8 481.6,326.6 481.9,326.6 482.2,326.6 482.5,326.6 482.8,326.6 483.1,326.8 483.4,326.7 483.7,326.8 484.0,326.7 484.3,326.7 484.6,326.6 484.9,326.7 485.2,326.7 485.5,326.7 485.8,326.7 486.1,326.8 486.4,326.6 486.7,326.7 487.0,326.6 487.3,326.7 487.6,326.7 487.9,326.6 488.2,326.8 488.5,326.7 488.8,326.7 489.1,326.6 489.4,326.6 489.7,326.7 490.0,326.6 490.3,326.6 490.6,326.6 490.9,326.7 491.2,326.7 491.5,326.6 491.8,326.6 492.1,326.7 492.4,326.7 492.7,326.6 493.0,326.6 493.3,326.7 493.6,326.7 493.9,326.8 494.2,326.6 494.5,326.7 494.8,326.6 495.1,326.6 495.4,326.7 495.7,326.7 496.0,326.7 496.3,326.6 496.6,326.6 496.9,326.6 497.2,326.7 497.5,326.7 497.8,326.7 498.1,326.6 498.4,326.7 498.7,326.7 499.0,326.6 499.3,326.8 499.6,326.7 499.9,326.6 500.2,326.7 500.5,326.7 500.8,326.6 501.1,326.6 501.4,326.6 501.7,326.7 502.0,326.7 502.3,326.6 502.6,326.6 502.9,326.8 503.2,326.7 503.5,326.7 503.8,326.7 504.1,326.6 504.4,326.6 504.7,326.6 505.0,326.6 505.3,326.6 505.6,326.6 505.9,326.7 506.2,326.8 506.5,326.8 506.8,326.6 507.1,326.6 507.4,326.6 507.7,326.7 508.0,326.7 508.3,326.6 508.6,326.7 508.9,326.6 509.2,326.7 509.5,326.7 509.8,326.6 510.0,326.9" fill="#7cbf45"/>
<text x="331.60" y="320.20" font-size="6.3" fill="#9aa58a" text-anchor="end" stroke="#9aa58a" stroke-width="0.18">5</text>
<line x1="333.80" y1="318.00" x2="336.80" y2="318.00" stroke="#9aa58a" stroke-width="1.0"/>
<line x1="339.8" y1="340.8" x2="509.4" y2="340.8" stroke="#8a9a7a" stroke-width="0.6" stroke-dasharray="2,1.6" opacity="0.38"/>
<polygon points="340.0,340.6 340.0,339.4 340.3,339.9 340.6,339.4 340.9,339.7 341.2,340.0 341.5,339.8 341.8,339.8 342.1,339.7 342.4,339.9 342.7,339.4 343.0,339.7 343.3,340.0 343.6,339.9 343.9,339.8 344.2,339.3 344.5,339.8 344.8,339.6 345.1,339.4 345.4,339.9 345.7,339.6 346.0,340.0 346.3,339.6 346.6,339.9 346.9,339.6 347.2,339.8 347.5,339.5 347.8,339.4 348.1,339.7 348.4,339.6 348.7,340.0 349.0,339.5 349.3,339.6 349.6,339.5 349.9,339.7 350.2,339.8 350.5,340.0 350.8,339.8 351.1,339.4 351.4,339.8 351.7,339.4 352.0,339.7 352.3,339.5 352.6,340.1 352.9,339.6 353.2,339.4 353.5,339.5 353.8,339.9 354.1,339.4 354.4,340.1 354.7,339.8 355.0,340.1 355.3,339.9 355.6,339.6 355.9,339.6 356.2,340.1 356.5,339.7 356.8,340.1 357.1,339.6 357.4,340.0 357.7,339.4 358.0,339.7 358.3,340.0 358.6,339.6 358.9,339.9 359.2,339.8 359.5,339.6 359.8,339.9 360.1,339.9 360.4,339.8 360.7,339.4 361.0,339.4 361.3,340.0 361.6,340.0 361.9,340.0 362.2,340.1 362.5,339.7 362.8,339.9 363.1,339.6 363.4,339.7 363.7,339.6 364.0,339.5 364.3,339.6 364.6,339.4 364.9,339.9 365.2,339.7 365.5,339.9 365.8,339.7 366.1,339.9 366.4,339.8 366.7,340.1 367.0,340.0 367.3,339.6 367.6,339.6 367.9,339.7 368.2,339.6 368.5,339.8 368.8,339.4 369.1,339.9 369.4,340.0 369.7,340.0 370.0,339.9 370.3,340.1 370.6,339.6 370.9,339.6 371.2,339.8 371.5,339.7 371.8,339.6 372.1,340.0 372.4,339.5 372.7,339.6 373.0,340.0 373.3,339.8 373.6,339.5 373.9,339.5 374.2,339.6 374.5,339.5 374.8,339.9 375.1,340.0 375.4,339.8 375.7,340.0 376.0,340.0 376.3,339.6 376.6,339.7 376.9,339.6 377.2,339.9 377.5,339.8 377.8,339.8 378.1,339.7 378.4,339.9 378.7,339.7 379.0,339.8 379.3,339.5 379.6,339.8 379.9,339.8 380.2,339.4 380.5,339.9 380.8,339.7 381.1,339.6 381.4,339.9 381.7,339.9 382.0,340.0 382.3,340.0 382.6,340.1 382.9,339.6 383.2,339.4 383.5,339.9 383.8,339.5 384.1,339.8 384.4,339.4 384.7,339.6 385.0,339.8 385.3,340.0 385.6,339.6 385.9,339.8 386.2,339.5 386.5,339.6 386.8,339.4 387.1,339.9 387.4,339.5 387.7,339.5 388.0,340.1 388.3,340.0 388.6,339.7 388.9,339.4 389.2,339.9 389.5,339.6 389.8,340.1 390.1,339.5 390.4,339.6 390.7,339.4 391.0,339.7 391.3,339.9 391.6,339.8 391.9,339.6 392.2,340.1 392.5,339.9 392.8,339.5 393.1,340.0 393.4,339.5 393.7,339.9 394.0,339.3 394.3,339.9 394.6,340.0 394.9,340.0 395.2,339.8 395.5,339.7 395.8,339.9 396.1,339.7 396.4,339.5 396.7,339.8 397.0,339.8 397.3,339.9 397.6,339.4 397.9,339.8 398.2,340.0 398.5,339.5 398.8,339.6 399.1,339.9 399.4,339.7 399.7,339.9 400.0,340.0 400.3,339.4 400.6,339.5 400.9,339.9 401.2,339.8 401.5,339.4 401.8,339.9 402.1,339.7 402.4,339.5 402.7,339.5 403.0,339.7 403.3,339.7 403.6,340.0 403.9,339.8 404.2,339.5 404.5,339.8 404.8,340.1 405.1,339.6 405.4,339.5 405.7,339.7 406.0,339.9 406.3,339.6 406.6,339.9 406.9,339.9 407.2,339.5 407.5,339.8 407.8,339.1 408.1,338.6 408.4,337.8 408.7,337.7 409.0,337.7 409.3,338.7 409.6,339.1 409.9,339.8 410.2,339.6 410.5,339.8 410.8,339.5 411.1,339.7 411.4,340.0 411.7,339.9 412.0,339.4 412.3,339.5 412.6,339.5 412.9,339.6 413.2,339.9 413.5,340.0 413.8,339.9 414.1,339.7 414.4,339.6 414.7,339.6 415.0,339.8 415.3,339.7 415.6,339.8 415.9,339.7 416.2,340.0 416.5,339.5 416.8,339.8 417.1,339.4 417.4,339.7 417.7,339.6 418.0,339.7 418.3,340.1 418.6,339.9 418.9,339.9 419.2,339.8 419.5,339.7 419.8,339.5 420.1,339.5 420.4,339.7 420.7,339.7 421.0,339.6 421.3,340.0 421.6,340.0 421.9,339.4 422.2,339.4 422.5,339.8 422.8,339.5 423.1,340.1 423.4,339.5 423.7,340.0 424.0,340.0 424.3,340.0 424.6,339.8 424.9,339.4 425.2,340.0 425.5,339.7 425.8,339.9 426.1,340.0 426.4,340.1 426.7,339.8 427.0,339.7 427.3,339.8 427.6,339.9 427.9,340.1 428.2,339.5 428.5,340.1 428.8,339.4 429.1,339.8 429.4,339.5 429.7,339.5 430.0,339.4 430.3,339.4 430.6,339.6 430.9,339.4 431.2,339.4 431.5,339.5 431.8,340.1 432.1,339.4 432.4,339.6 432.7,339.5 433.0,339.7 433.3,339.4 433.6,339.4 433.9,339.5 434.2,339.6 434.5,340.1 434.8,339.8 435.1,339.5 435.4,339.7 435.7,339.4 436.0,339.6 436.3,339.6 436.6,339.7 436.9,340.1 437.2,339.6 437.5,339.7 437.8,340.0 438.1,339.4 438.4,339.4 438.7,340.0 439.0,339.5 439.3,340.1 439.6,339.7 439.9,339.6 440.2,339.9 440.5,339.6 440.8,339.6 441.1,340.0 441.4,339.8 441.7,339.7 442.0,339.5 442.3,339.2 442.6,338.8 442.9,338.1 443.2,337.8 443.5,337.9 443.8,338.2 444.1,338.4 444.4,338.8 444.7,339.5 445.0,339.5 445.3,340.0 445.6,340.1 445.9,339.4 446.2,339.6 446.5,339.6 446.8,339.9 447.1,339.4 447.4,339.4 447.7,340.1 448.0,339.7 448.3,339.4 448.6,339.7 448.9,339.9 449.2,339.5 449.5,339.8 449.8,339.5 450.1,340.0 450.4,339.5 450.7,339.4 451.0,339.8 451.3,339.8 451.6,340.1 451.9,339.3 452.2,339.6 452.5,339.5 452.8,339.6 453.1,339.9 453.4,339.6 453.7,339.6 454.0,339.4 454.3,339.8 454.6,339.9 454.9,339.7 455.2,339.8 455.5,340.1 455.8,339.4 456.1,339.8 456.4,339.4 456.7,340.0 457.0,339.6 457.3,340.0 457.6,340.1 457.9,339.7 458.2,339.5 458.5,340.1 458.8,340.1 459.1,339.4 459.4,339.8 459.7,340.1 460.0,339.4 460.3,340.0 460.6,339.5 460.9,339.4 461.2,339.4 461.5,339.7 461.8,339.4 462.1,339.6 462.4,339.8 462.7,340.1 463.0,339.4 463.3,339.6 463.6,339.7 463.9,339.7 464.2,339.6 464.5,339.4 464.8,339.8 465.1,339.3 465.4,339.4 465.7,339.7 466.0,339.3 466.3,339.4 466.6,339.7 466.9,340.0 467.2,339.7 467.5,339.9 467.8,340.0 468.1,340.0 468.4,340.0 468.7,339.6 469.0,339.8 469.3,339.4 469.6,339.6 469.9,339.5 470.2,340.0 470.5,339.9 470.8,339.4 471.1,339.1 471.4,338.9 471.7,338.5 472.0,337.9 472.3,338.5 472.6,338.9 472.9,339.2 473.2,339.5 473.5,339.9 473.8,339.7 474.1,339.7 474.4,340.1 474.7,339.8 475.0,339.6 475.3,339.3 475.6,339.9 475.9,339.9 476.2,339.4 476.5,339.9 476.8,339.4 477.1,340.1 477.4,339.6 477.7,339.8 478.0,339.6 478.3,339.5 478.6,339.5 478.9,339.3 479.2,339.4 479.5,339.4 479.8,340.0 480.1,339.7 480.4,339.9 480.7,340.0 481.0,339.8 481.3,339.6 481.6,340.0 481.9,339.5 482.2,339.5 482.5,339.9 482.8,339.4 483.1,339.7 483.4,340.1 483.7,339.4 484.0,340.1 484.3,340.1 484.6,339.4 484.9,339.5 485.2,340.0 485.5,339.6 485.8,339.4 486.1,340.0 486.4,340.1 486.7,339.8 487.0,339.7 487.3,340.0 487.6,339.5 487.9,339.9 488.2,340.0 488.5,339.9 488.8,339.6 489.1,340.1 489.4,340.1 489.7,339.4 490.0,340.1 490.3,339.6 490.6,340.0 490.9,340.1 491.2,339.9 491.5,339.4 491.8,339.5 492.1,339.7 492.4,339.5 492.7,339.6 493.0,339.7 493.3,339.9 493.6,339.7 493.9,339.5 494.2,339.6 494.5,339.6 494.8,339.6 495.1,339.8 495.4,339.9 495.7,339.9 496.0,339.4 496.3,339.4 496.6,339.6 496.9,339.4 497.2,339.8 497.5,339.4 497.8,339.7 498.1,339.9 498.4,340.1 498.7,339.4 499.0,339.4 499.3,339.9 499.6,339.4 499.9,340.1 500.2,339.5 500.5,340.0 500.8,339.7 501.1,339.8 501.4,340.1 501.7,339.5 502.0,339.8 502.3,339.7 502.6,339.5 502.9,339.9 503.2,340.0 503.5,339.7 503.8,339.8 504.1,339.7 504.4,339.6 504.7,339.7 505.0,339.9 505.3,340.0 505.6,339.8 505.9,339.5 506.2,340.0 506.5,339.5 506.8,339.7 507.1,339.6 507.4,339.7 507.7,339.6 508.0,339.6 508.3,339.5 508.6,339.9 508.9,340.1 509.2,339.7 509.5,339.5 509.8,339.5 510.0,340.6" fill="#7cbf45"/>
<text x="331.60" y="334.20" font-size="6.3" fill="#9aa58a" text-anchor="end" stroke="#9aa58a" stroke-width="0.18">5</text>
<line x1="333.80" y1="332.00" x2="336.80" y2="332.00" stroke="#9aa58a" stroke-width="1.0"/>
<line x1="339.8" y1="353.2" x2="509.4" y2="353.2" stroke="#111" stroke-width="0.6" stroke-dasharray="2,1.6" opacity="0.38"/>
<polygon points="396.1,353.0 396.1,353.0 396.4,353.0 396.7,353.0 397.0,353.0 397.3,353.0 397.6,353.0 397.9,353.0 398.2,352.4 398.5,352.3 398.8,351.6 399.1,351.5 399.4,351.4 399.7,351.0 400.0,350.8 400.3,350.8 400.6,351.0 400.9,351.2 401.2,351.5 401.5,351.4 401.8,351.5 402.1,351.9 402.4,352.1 402.7,351.6 403.0,352.1 403.3,352.1 403.6,352.0 403.9,352.1 404.2,351.9 404.5,352.4 404.8,352.3 405.1,352.0 405.4,352.0 405.7,351.9 406.0,351.9 406.3,351.7 406.6,351.4 406.9,351.4 407.2,351.5 407.5,351.5 407.8,351.5 408.1,351.8 408.4,352.2 408.7,351.4 409.0,352.4 409.3,351.7 409.6,352.1 409.9,351.5 410.2,351.6 410.5,351.9 410.8,351.5 411.1,351.1 411.4,351.0 411.7,350.8 412.0,350.6 412.3,351.0 412.6,351.3 412.9,351.4 413.2,352.0 413.5,352.2 413.8,351.9 414.1,352.3 414.4,352.3 414.7,351.5 415.0,352.0 415.3,352.3 415.6,352.0 415.9,352.0 416.2,351.7 416.5,352.4 416.8,352.2 417.1,351.7 417.4,351.8 417.7,352.1 418.0,352.3 418.3,351.6 418.6,351.4 418.9,351.8 419.2,351.2 419.5,351.0 419.8,349.9 420.1,349.8 420.4,349.0 420.7,348.6 421.0,348.5 421.3,347.6 421.6,347.8 421.9,348.4 422.2,348.9 422.5,348.3 422.8,348.2 423.1,348.5 423.4,349.7 423.7,350.0 424.0,350.8 424.3,351.2 424.6,351.0 424.9,350.5 425.2,349.3 425.5,349.0 425.8,347.9 426.1,347.3 426.4,346.9 426.7,348.5 427.0,349.0 427.3,349.1 427.6,350.4 427.9,351.2 428.2,352.0 428.5,351.7 428.8,351.7 429.1,352.3 429.4,352.3 429.7,351.5 430.0,351.8 430.3,351.5 430.6,351.7 430.9,352.2 431.2,351.5 431.5,351.8 431.8,351.6 432.1,351.2 432.4,351.3 432.7,350.9 433.0,350.6 433.3,351.1 433.6,351.2 433.9,351.4 434.2,351.5 434.5,351.7 434.8,351.6 435.1,351.7 435.4,352.1 435.7,351.2 436.0,350.0 436.3,348.6 436.6,347.7 436.9,346.6 437.2,345.8 437.5,344.8 437.8,345.6 438.1,345.8 438.4,347.0 438.7,346.3 439.0,345.6 439.3,346.5 439.6,346.9 439.9,348.6 440.2,349.4 440.5,349.9 440.8,350.9 441.1,352.2 441.4,351.6 441.7,350.8 442.0,349.6 442.3,348.8 442.6,348.5 442.9,347.4 443.2,347.3 443.5,347.3 443.8,348.0 444.1,349.1 444.4,350.0 444.7,350.6 445.0,351.4 445.3,351.4 445.6,351.7 445.9,352.1 446.2,351.9 446.5,351.5 446.8,351.7 447.1,351.5 447.4,351.1 447.7,350.6 448.0,350.2 448.3,350.2 448.6,350.3 448.9,350.7 449.2,351.1 449.5,351.3 449.8,351.5 450.1,351.5 450.4,352.4 450.7,351.9 451.0,352.0 451.3,351.6 451.6,351.5 451.9,352.0 452.2,351.7 452.5,351.8 452.8,351.6 453.1,351.8 453.4,351.5 453.7,352.0 454.0,351.5 454.3,352.4 454.6,352.0 454.9,351.5 455.2,352.0 455.5,352.3 455.8,352.1 456.1,351.4 456.4,352.1 456.7,351.7 457.0,351.5 457.3,352.2 457.6,352.4 457.9,351.8 458.2,352.2 458.5,351.8 458.8,352.2 459.1,351.9 459.4,352.1 459.7,352.1 460.0,352.4 460.3,351.6 460.6,350.7 460.9,349.3 461.2,348.8 461.5,348.5 461.8,346.9 462.1,347.0 462.4,346.5 462.7,346.9 463.0,347.0 463.3,348.3 463.6,349.1 463.9,350.2 464.2,350.9 464.5,351.8 464.8,352.3 465.1,351.9 465.4,351.9 465.7,352.4 466.0,352.1 466.3,352.4 466.6,352.1 466.9,351.8 467.2,352.0 467.5,352.3 467.8,352.2 468.0,353.0" fill="#111"/>
<rect x="398.10" y="352.70" width="69.80" height="3.10" fill="#bc1e25"/>
<rect x="398.10" y="352.50" width="69.80" height="0.70" fill="#111" opacity="0.6"/>
<text x="331.60" y="346.80" font-size="6.3" fill="#2a2a2a" text-anchor="end" stroke="#2a2a2a" stroke-width="0.18">18</text>
<line x1="333.80" y1="344.60" x2="336.80" y2="344.60" stroke="#2a2a2a" stroke-width="1.0"/>
<line x1="339.8" y1="366.7" x2="509.4" y2="366.7" stroke="#111" stroke-width="0.6" stroke-dasharray="2,1.6" opacity="0.38"/>
<polygon points="386.0,366.5 386.0,365.3 386.3,365.6 386.6,365.9 386.9,365.4 387.2,365.9 387.5,365.2 387.8,365.8 388.1,365.5 388.4,365.8 388.7,365.8 389.0,365.4 389.3,365.3 389.6,365.2 389.9,365.6 390.2,365.3 390.5,365.9 390.8,365.4 391.1,365.5 391.4,365.4 391.7,365.6 392.0,365.6 392.3,365.5 392.6,365.9 392.9,365.7 393.2,365.1 393.5,365.6 393.8,365.3 394.1,365.3 394.4,366.0 394.7,365.9 395.0,365.9 395.3,365.3 395.6,365.9 395.9,365.9 396.2,365.4 396.5,365.5 396.8,365.7 397.1,365.6 397.4,365.2 397.7,365.6 398.0,365.3 398.3,365.0 398.6,364.8 398.9,364.2 399.2,364.0 399.5,364.6 399.8,364.6 400.1,365.0 400.4,365.2 400.7,365.5 401.0,365.8 401.3,365.3 401.6,365.2 401.9,365.9 402.2,365.8 402.5,365.3 402.8,365.6 403.1,365.3 403.4,365.4 403.7,365.4 404.0,365.9 404.3,365.6 404.6,365.6 404.9,365.5 405.2,365.9 405.5,365.2 405.8,365.7 406.1,365.8 406.4,365.5 406.7,365.3 407.0,365.8 407.3,365.5 407.6,365.2 407.9,364.9 408.2,364.5 408.5,364.2 408.8,364.1 409.1,364.6 409.4,364.6 409.7,364.8 410.0,365.3 410.3,365.6 410.6,365.2 410.9,365.1 411.2,365.2 411.5,365.9 411.8,365.6 412.1,365.8 412.4,365.5 412.7,365.9 413.0,365.4 413.3,365.7 413.6,366.0 413.9,365.3 414.2,365.5 414.5,365.9 414.8,365.2 415.1,365.6 415.4,365.9 415.7,365.9 416.0,365.1 416.3,365.8 416.6,365.2 416.9,365.1 417.2,365.2 417.5,365.3 417.8,365.1 418.1,365.4 418.4,365.1 418.7,365.8 419.0,365.7 419.3,365.2 419.6,365.2 419.9,364.6 420.2,364.3 420.5,364.0 420.8,363.6 421.1,363.1 421.4,362.8 421.7,363.5 422.0,363.9 422.3,364.2 422.6,364.5 422.9,365.0 423.2,365.5 423.5,365.8 423.8,365.4 424.1,365.7 424.4,365.2 424.7,364.8 425.0,363.9 425.3,363.4 425.6,362.4 425.9,362.3 426.2,362.0 426.5,361.9 426.8,363.2 427.1,363.5 427.4,363.9 427.7,364.5 428.0,365.3 428.3,365.1 428.6,365.2 428.9,365.8 429.2,365.8 429.5,365.6 429.8,365.7 430.1,365.1 430.4,365.4 430.7,365.1 431.0,365.5 431.3,365.8 431.6,365.2 431.9,365.7 432.2,365.2 432.5,365.4 432.8,365.7 433.1,365.3 433.4,365.7 433.7,365.1 434.0,365.1 434.3,365.2 434.6,365.3 434.9,365.7 435.2,365.5 435.5,365.4 435.8,364.7 436.1,363.2 436.4,362.6 436.7,361.5 437.0,361.7 437.3,360.2 437.6,359.6 437.9,359.4 438.2,360.4 438.5,361.3 438.8,362.6 439.1,362.7 439.4,363.7 439.7,365.0 440.0,365.3 440.3,365.7 440.6,365.4 440.9,365.4 441.2,365.8 441.5,365.2 441.8,364.7 442.1,364.1 442.4,362.8 442.7,362.5 443.0,361.5 443.3,360.8 443.6,361.1 443.9,361.6 444.2,361.6 444.5,362.6 444.8,363.8 445.1,364.2 445.4,365.3 445.7,365.3 446.0,365.7 446.3,365.6 446.6,365.3 446.9,364.7 447.2,364.4 447.5,364.3 447.8,363.9 448.1,363.2 448.4,363.4 448.7,363.6 449.0,363.8 449.3,364.5 449.6,364.9 449.9,365.2 450.2,365.2 450.5,365.9 450.8,365.9 451.1,365.5 451.4,365.6 451.7,365.2 452.0,365.2 452.3,365.1 452.6,365.6 452.9,365.2 453.2,365.4 453.5,365.8 453.8,365.2 454.1,365.6 454.4,365.5 454.7,365.1 455.0,365.9 455.3,365.1 455.6,365.6 455.9,365.9 456.2,366.0 456.5,365.3 456.8,365.6 457.1,365.6 457.4,365.2 457.7,365.2 458.0,365.7 458.3,365.8 458.6,365.2 458.9,365.7 459.2,365.3 459.5,365.8 459.8,365.8 460.1,365.3 460.4,364.0 460.7,363.3 461.0,361.6 461.3,361.3 461.6,359.6 461.9,360.0 462.2,358.4 462.5,358.4 462.8,359.9 463.1,359.9 463.4,361.1 463.7,362.6 464.0,363.5 464.3,364.4 464.6,365.2 464.9,365.2 465.2,365.4 465.5,365.3 465.8,365.6 466.1,365.8 466.4,365.5 466.7,365.1 467.0,365.8 467.0,366.5" fill="#111"/>
<rect x="386.00" y="366.20" width="81.20" height="3.10" fill="#bc1e25"/>
<rect x="386.00" y="366.00" width="81.20" height="0.70" fill="#111" opacity="0.6"/>
<text x="331.60" y="360.20" font-size="6.3" fill="#2a2a2a" text-anchor="end" stroke="#2a2a2a" stroke-width="0.18">18</text>
<line x1="333.80" y1="358.00" x2="336.80" y2="358.00" stroke="#2a2a2a" stroke-width="1.0"/>
<line x1="339.8" y1="380.3" x2="509.4" y2="380.3" stroke="#111" stroke-width="0.6" stroke-dasharray="2,1.6" opacity="0.38"/>
<polygon points="386.0,380.1 386.0,379.3 386.3,379.3 386.6,379.1 386.9,379.1 387.2,378.7 387.5,379.4 387.8,378.7 388.1,379.0 388.4,378.8 388.7,379.0 389.0,379.0 389.3,379.2 389.6,378.8 389.9,379.4 390.2,379.0 390.5,378.9 390.8,379.3 391.1,379.2 391.4,379.4 391.7,379.3 392.0,379.3 392.3,378.7 392.6,379.3 392.9,379.5 393.2,379.1 393.5,379.1 393.8,378.9 394.1,379.2 394.4,379.2 394.7,379.1 395.0,379.5 395.3,379.5 395.6,379.3 395.9,379.3 396.2,379.1 396.5,379.4 396.8,379.2 397.1,379.4 397.4,379.1 397.7,378.7 398.0,378.8 398.3,378.5 398.6,378.3 398.9,378.0 399.2,377.8 399.5,377.9 399.8,378.2 400.1,378.4 400.4,378.9 400.7,378.8 401.0,379.5 401.3,379.6 401.6,379.4 401.9,378.9 402.2,379.0 402.5,379.0 402.8,378.8 403.1,379.1 403.4,379.0 403.7,378.9 404.0,379.6 404.3,379.4 404.6,379.2 404.9,378.7 405.2,379.3 405.5,378.7 405.8,379.0 406.1,379.2 406.4,379.4 406.7,379.1 407.0,378.5 407.3,377.6 407.6,376.8 407.9,375.8 408.2,376.0 408.5,374.9 408.8,374.5 409.1,374.3 409.4,376.0 409.7,375.9 410.0,376.9 410.3,377.9 410.6,377.4 410.9,376.5 411.2,376.2 411.5,375.4 411.8,375.0 412.1,375.6 412.4,376.7 412.7,377.3 413.0,377.8 413.3,378.4 413.6,378.7 413.9,379.1 414.2,379.1 414.5,379.2 414.8,378.8 415.1,378.7 415.4,379.5 415.7,378.7 416.0,379.0 416.3,379.4 416.6,378.9 416.9,379.6 417.2,378.9 417.5,379.5 417.8,379.0 418.1,378.7 418.4,378.9 418.7,379.2 419.0,378.9 419.3,378.7 419.6,379.0 419.9,378.5 420.2,378.4 420.5,378.2 420.8,377.6 421.1,377.3 421.4,377.1 421.7,377.3 422.0,377.8 422.3,378.4 422.6,378.3 422.9,378.9 423.2,379.2 423.5,379.3 423.8,379.3 424.1,378.7 424.4,379.5 424.7,379.3 425.0,378.0 425.3,376.3 425.6,375.1 425.9,372.5 426.2,371.3 426.5,373.7 426.8,375.0 427.1,375.9 427.4,377.9 427.7,379.2 428.0,378.8 428.3,379.5 428.6,379.4 428.9,378.9 429.2,378.9 429.5,378.7 429.8,379.4 430.1,379.2 430.4,379.2 430.7,379.2 431.0,379.1 431.3,379.2 431.6,378.9 431.9,379.5 432.2,379.5 432.5,378.7 432.8,378.7 433.1,379.5 433.4,379.2 433.7,379.3 434.0,378.9 434.3,378.9 434.6,379.2 434.9,378.9 435.2,378.8 435.5,378.6 435.8,378.4 436.1,378.6 436.4,378.8 436.7,378.9 437.0,379.1 437.3,379.0 437.6,379.4 437.9,379.3 438.2,379.4 438.5,378.7 438.8,379.2 439.1,379.2 439.4,378.8 439.7,379.4 440.0,378.7 440.3,378.9 440.6,378.4 440.9,378.5 441.2,378.2 441.5,377.6 441.8,377.8 442.1,378.2 442.4,378.4 442.7,378.8 443.0,378.9 443.3,378.7 443.6,378.9 443.9,379.2 444.2,379.4 444.5,379.5 444.8,378.8 445.1,379.2 445.4,379.5 445.7,379.0 446.0,379.4 446.3,379.5 446.6,379.3 446.9,378.9 447.2,379.0 447.5,378.9 447.8,378.7 448.1,378.7 448.4,379.6 448.7,379.2 449.0,379.5 449.3,379.2 449.6,378.8 449.9,379.6 450.2,379.6 450.5,379.4 450.8,378.7 451.1,379.3 451.4,379.2 451.7,378.9 452.0,378.7 452.3,379.5 452.6,379.2 452.9,378.8 453.2,379.2 453.5,378.9 453.8,378.8 454.1,378.7 454.4,378.9 454.7,379.6 455.0,379.2 455.3,379.3 455.6,379.5 455.9,379.5 456.2,378.9 456.5,379.3 456.8,379.3 457.1,379.4 457.4,379.6 457.7,378.9 458.0,378.8 458.3,379.4 458.6,379.3 458.9,378.8 459.2,379.3 459.5,379.6 459.8,379.6 460.1,378.8 460.4,379.3 460.7,379.1 461.0,378.9 461.3,378.7 461.6,379.6 461.9,378.7 462.2,379.1 462.5,379.5 462.8,378.8 463.1,380.1 463.4,380.1 463.7,380.1 464.0,380.1 464.3,380.1 464.6,380.1 464.9,380.1 465.2,380.1 465.5,380.1 465.8,380.1 466.1,380.1 466.4,380.1 466.7,380.1 467.0,380.1 467.3,380.1 467.6,380.1 467.9,380.1 468.2,380.1 468.5,380.1 468.8,380.1 469.1,380.1 469.4,380.1 469.7,380.1 470.0,380.1 470.3,380.1 470.6,379.7 470.9,379.0 471.2,378.3 471.5,378.0 471.8,377.3 472.1,377.1 472.4,376.4 472.7,377.1 473.0,377.8 473.3,378.3 473.6,378.9 473.9,379.3 474.2,380.1 474.5,380.1 474.8,380.1 475.1,380.1 475.4,380.1 475.7,380.1 476.0,380.1 476.3,380.1 476.6,380.1 476.9,380.1 477.2,380.1 477.5,380.1 477.8,380.1 478.1,380.1 478.4,380.1 478.7,380.1 479.0,380.1 479.3,380.1 479.6,380.1 479.9,380.1 480.2,380.1 480.5,380.1 480.8,380.1 481.1,380.1 481.4,380.1 481.7,380.1 482.0,380.1 482.3,380.1 482.6,380.1 482.9,380.1 483.2,380.1 483.5,380.1 483.8,380.1 484.1,380.1 484.4,380.1 484.7,380.1 485.0,380.1 485.3,380.1 485.6,380.1 485.9,380.1 486.2,380.1 486.5,380.1 486.8,380.1 487.1,380.1 487.4,380.1 487.7,380.1 488.0,380.1 488.3,380.1 488.6,380.1 488.9,380.1 489.2,380.1 489.5,380.1 489.8,380.1 490.1,380.1 490.4,380.1 490.7,380.1 491.0,380.1 491.3,380.1 491.6,380.1 491.9,380.1 492.2,380.1 492.5,380.1 492.8,380.1 493.1,380.1 493.4,380.1 493.7,380.1 494.0,380.1 494.3,380.1 494.6,380.1 494.9,380.1 495.2,380.1 495.5,380.1 495.8,380.1 496.1,380.1 496.4,380.1 496.7,380.1 497.0,380.1 497.3,380.1 497.6,380.1 497.9,380.1 498.2,380.1 498.5,380.1 498.8,380.1 499.1,380.1 499.4,380.1 499.7,380.1 500.0,380.1 500.3,380.1 500.6,380.1 500.9,380.1 501.2,380.1 501.5,380.0 501.8,379.8 502.1,379.6 502.4,379.5 502.7,379.1 503.0,379.1 503.3,379.0 503.6,378.8 503.9,378.6 504.2,378.6 504.5,378.2 504.8,378.1 505.1,378.3 505.4,378.2 505.7,378.0 506.0,377.7 506.3,377.7 506.6,377.8 506.9,378.0 507.2,378.1 507.5,378.5 507.8,378.4 508.1,378.5 508.4,378.8 508.7,378.9 509.0,379.0 509.3,379.2 509.6,379.4 509.9,379.6 510.2,379.7 510.5,380.0 510.8,380.1 511.1,380.1 511.4,380.1 511.7,380.1 512.0,380.1 512.3,380.1 512.6,380.1 512.9,380.1 513.2,380.1 513.5,380.1 513.8,380.1 514.1,380.1 514.4,380.1 514.6,380.1" fill="#111"/>
<rect x="386.00" y="379.80" width="77.00" height="3.10" fill="#bc1e25"/>
<rect x="386.00" y="379.60" width="77.00" height="0.70" fill="#111" opacity="0.6"/>
<text x="331.60" y="373.50" font-size="6.3" fill="#2a2a2a" text-anchor="end" stroke="#2a2a2a" stroke-width="0.18">18</text>
<line x1="333.80" y1="371.30" x2="336.80" y2="371.30" stroke="#2a2a2a" stroke-width="1.0"/>
<line x1="339.8" y1="396.6" x2="509.4" y2="396.6" stroke="#2e2e8c" stroke-width="0.6" stroke-dasharray="2,1.6" opacity="0.38"/>
<polygon points="397.5,396.4 397.5,393.2 397.8,393.4 398.1,393.9 398.4,392.8 398.7,393.5 399.0,394.7 399.3,392.4 399.6,393.9 399.9,394.7 400.2,393.0 400.5,393.6 400.8,393.3 401.1,393.4 401.4,394.8 401.7,394.4 402.0,394.6 402.3,394.1 402.6,393.7 402.9,393.5 403.2,394.5 403.5,394.4 403.8,394.9 404.1,392.9 404.4,392.4 404.7,394.8 405.0,393.6 405.3,392.9 405.6,393.5 405.9,393.8 406.2,393.1 406.5,392.6 406.8,393.0 407.1,392.2 407.4,392.3 407.7,392.0 408.0,392.4 408.3,393.0 408.6,393.9 408.9,392.6 409.2,393.1 409.5,393.8 409.8,392.8 410.1,392.6 410.4,391.4 410.7,391.0 411.0,391.1 411.3,390.8 411.6,391.9 411.9,391.9 412.2,392.9 412.5,392.8 412.8,392.5 413.1,394.0 413.4,393.4 413.7,394.3 414.0,392.8 414.3,392.6 414.6,393.0 414.9,391.5 415.2,391.0 415.5,390.8 415.8,390.0 416.1,388.5 416.4,389.2 416.7,390.4 417.0,391.3 417.3,392.7 417.6,392.8 417.9,393.2 418.2,392.6 418.5,393.7 418.8,393.1 419.1,393.0 419.4,391.9 419.7,391.4 420.0,389.7 420.3,388.4 420.6,387.5 420.9,386.5 421.2,386.0 421.5,388.4 421.8,388.5 422.1,390.5 422.4,391.3 422.7,390.7 423.0,388.6 423.3,387.7 423.6,386.9 423.9,384.1 424.2,385.5 424.5,386.9 424.8,388.6 425.1,389.2 425.4,389.1 425.7,388.4 426.0,387.2 426.3,388.3 426.6,390.0 426.9,390.4 427.2,391.7 427.5,392.4 427.8,394.2 428.1,392.9 428.4,392.4 428.7,392.4 429.0,392.9 429.3,394.7 429.6,394.0 429.9,393.5 430.2,394.0 430.5,393.8 430.8,393.5 431.1,392.8 431.4,394.4 431.7,392.4 432.0,393.0 432.3,392.7 432.6,393.8 432.9,393.7 433.2,393.5 433.5,394.4 433.8,393.3 434.1,394.1 434.4,394.7 434.7,393.0 435.0,393.4 435.3,393.7 435.6,393.9 435.9,393.2 436.2,392.8 436.5,391.1 436.8,390.8 437.1,390.6 437.4,388.5 437.7,389.9 438.0,390.5 438.3,391.0 438.6,391.4 438.9,392.7 439.2,393.5 439.5,394.4 439.8,394.8 440.1,394.0 440.4,393.8 440.7,393.1 441.0,394.7 441.3,392.5 441.6,394.3 441.9,393.8 442.2,391.9 442.5,391.4 442.8,389.5 443.1,388.8 443.4,387.8 443.7,385.7 444.0,388.1 444.3,389.0 444.6,389.9 444.9,391.4 445.2,392.5 445.5,393.5 445.8,393.8 446.1,393.1 446.4,393.5 446.7,392.7 447.0,394.2 447.3,393.8 447.6,392.8 447.9,393.6 448.2,393.9 448.5,394.4 448.8,394.5 449.1,393.4 449.4,393.7 449.7,392.9 450.0,392.4 450.3,394.6 450.6,394.9 450.9,394.0 451.2,393.4 451.5,394.1 451.8,393.2 452.1,393.6 452.4,394.2 452.7,394.5 453.0,394.7 453.3,394.3 453.6,393.0 453.9,394.0 454.2,394.0 454.5,393.8 454.8,394.0 455.1,394.2 455.4,392.6 455.7,394.5 456.0,394.5 456.3,393.7 456.6,393.2 456.9,394.2 457.2,394.4 457.5,393.6 457.8,393.8 458.1,394.0 458.4,393.6 458.7,392.7 459.0,394.7 459.3,393.8 459.6,394.4 459.9,393.2 460.2,393.2 460.5,392.8 460.8,393.3 461.1,393.3 461.4,393.0 461.7,392.0 462.0,391.1 462.3,390.8 462.6,390.6 462.9,391.6 463.2,391.5 463.5,392.8 463.8,393.8 464.1,394.3 464.4,393.1 464.7,394.7 465.0,392.7 465.3,394.0 465.6,394.7 465.9,392.7 466.2,394.3 466.5,393.3 466.8,393.0 467.1,392.6 467.4,391.8 467.7,392.2 468.0,393.0 468.3,393.0 468.6,393.5 468.9,394.0 469.2,393.1 469.5,392.6 469.8,394.5 470.1,394.7 470.4,394.0 470.7,394.0 471.0,393.7 471.3,394.1 471.6,394.4 471.9,394.6 472.2,395.0 472.5,395.6 472.8,396.3 473.1,396.4 473.4,396.4 473.7,396.4 474.0,396.4 474.3,396.4 474.4,396.4" fill="#2e2e8c"/>
<rect x="397.30" y="396.10" width="71.70" height="3.10" fill="#bc1e25"/>
<rect x="397.30" y="395.90" width="71.70" height="0.70" fill="#2e2e8c" opacity="0.6"/>
<text x="331.60" y="389.90" font-size="6.3" fill="#363648" text-anchor="end" stroke="#363648" stroke-width="0.18">9</text>
<line x1="333.80" y1="387.70" x2="336.80" y2="387.70" stroke="#363648" stroke-width="1.0"/>
<line x1="339.8" y1="410.1" x2="509.4" y2="410.1" stroke="#2e2e8c" stroke-width="0.6" stroke-dasharray="2,1.6" opacity="0.38"/>
<polygon points="381.5,409.9 381.5,409.9 381.8,409.9 382.1,408.6 382.4,407.7 382.7,408.1 383.0,407.6 383.3,408.8 383.6,407.8 383.9,408.7 384.2,408.0 384.5,407.6 384.8,407.3 385.1,406.5 385.4,406.3 385.7,405.4 386.0,405.4 386.3,405.7 386.6,406.5 386.9,406.6 387.2,407.6 387.5,407.7 387.8,407.9 388.1,407.8 388.4,408.1 388.7,407.7 389.0,408.8 389.3,407.8 389.6,408.7 389.9,408.4 390.2,407.6 390.5,407.7 390.8,407.4 391.1,408.1 391.4,408.6 391.7,408.7 392.0,408.6 392.3,408.5 392.6,408.9 392.9,408.6 393.2,408.8 393.5,408.4 393.8,408.5 394.1,408.4 394.4,407.8 394.7,407.6 395.0,408.4 395.3,407.7 395.6,408.9 395.9,407.4 396.2,408.2 396.5,407.6 396.8,408.6 397.1,407.5 397.4,407.9 397.7,408.6 398.0,408.1 398.3,407.8 398.6,408.0 398.9,408.0 399.2,407.7 399.5,407.2 399.8,406.9 400.1,407.0 400.4,407.1 400.7,407.7 401.0,408.0 401.3,407.6 401.6,407.7 401.9,407.3 402.2,408.6 402.5,408.7 402.8,407.3 403.1,407.6 403.4,407.5 403.7,407.6 404.0,407.5 404.3,408.8 404.6,407.6 404.9,407.9 405.2,408.7 405.5,408.1 405.8,407.5 406.1,407.2 406.4,406.4 406.7,405.5 407.0,405.1 407.3,404.9 407.6,404.6 407.9,404.6 408.2,405.6 408.5,406.3 408.8,406.8 409.1,407.5 409.4,407.9 409.7,407.6 410.0,407.2 410.3,406.6 410.6,406.3 410.9,405.3 411.2,405.6 411.5,405.8 411.8,406.6 412.1,407.4 412.4,407.5 412.7,407.9 413.0,407.9 413.3,407.9 413.6,408.9 413.9,407.6 414.2,407.3 414.5,408.6 414.8,408.8 415.1,408.3 415.4,408.7 415.7,407.6 416.0,408.0 416.3,407.4 416.6,406.6 416.9,406.2 417.2,405.5 417.5,405.9 417.8,405.7 418.1,406.0 418.4,407.0 418.7,407.6 419.0,408.0 419.3,408.5 419.6,408.4 419.9,408.1 420.2,408.4 420.5,407.6 420.8,408.1 421.1,408.4 421.4,408.3 421.7,407.4 422.0,407.9 422.3,407.3 422.6,408.4 422.9,407.8 423.2,407.4 423.5,407.8 423.8,407.2 424.1,407.0 424.4,406.0 424.7,406.0 425.0,404.9 425.3,406.2 425.6,406.0 425.9,407.1 426.2,405.5 426.5,405.1 426.8,403.8 427.1,401.5 427.4,400.3 427.7,402.4 428.0,402.3 428.3,404.1 428.6,405.5 428.9,406.2 429.2,408.1 429.5,407.8 429.8,408.4 430.1,407.4 430.4,408.3 430.7,407.7 431.0,407.6 431.3,408.9 431.6,408.3 431.9,407.3 432.2,407.3 432.5,407.4 432.8,408.2 433.1,408.9 433.4,407.8 433.7,407.5 434.0,408.0 434.3,408.1 434.6,407.8 434.9,407.9 435.2,407.7 435.5,407.4 435.8,406.9 436.1,406.7 436.4,407.1 436.7,407.7 437.0,408.0 437.3,407.7 437.6,408.3 437.9,407.7 438.2,408.9 438.5,407.7 438.8,408.0 439.1,408.0 439.4,408.9 439.7,407.8 440.0,407.8 440.3,408.4 440.6,408.7 440.9,407.3 441.2,408.9 441.5,407.8 441.8,408.1 442.1,407.9 442.4,407.5 442.7,408.5 443.0,408.5 443.3,408.6 443.6,408.8 443.9,408.0 444.2,408.5 444.5,407.9 444.8,408.6 445.1,408.4 445.4,407.5 445.7,407.5 446.0,407.6 446.3,407.5 446.6,407.6 446.9,408.8 447.2,408.2 447.5,408.2 447.8,407.3 448.1,408.0 448.4,407.5 448.7,408.7 449.0,407.7 449.3,408.1 449.6,408.5 449.9,407.6 450.2,407.7 450.5,408.0 450.8,407.9 451.1,408.1 451.4,407.5 451.7,408.4 452.0,407.3 452.3,408.9 452.6,408.1 452.9,407.8 453.2,407.6 453.5,407.3 453.8,408.4 454.1,408.9 454.4,408.1 454.7,408.7 455.0,408.7 455.3,408.6 455.6,407.5 455.9,408.4 456.2,408.9 456.5,407.5 456.8,408.3 457.1,408.5 457.4,408.4 457.7,408.8 458.0,407.5 458.3,407.9 458.6,408.2 458.9,407.9 459.2,408.5 459.5,408.2 459.8,408.5 460.1,408.7 460.4,407.5 460.7,407.8 461.0,408.4 461.3,408.5 461.6,407.9 461.9,408.2 462.2,408.5 462.5,407.6 462.8,408.6 463.1,408.7 463.4,408.7 463.7,407.7 464.0,409.9 464.3,409.9 464.6,409.9 464.9,409.9 465.2,409.9 465.5,409.9 465.8,409.9 466.1,409.9 466.4,409.9 466.7,409.9 467.0,409.9 467.3,409.9 467.6,409.9 467.9,409.9 468.2,409.9 468.5,409.9 468.8,409.9 469.1,409.9 469.4,409.9 469.7,409.9 470.0,409.9 470.3,409.9 470.6,409.9 470.9,408.7 471.2,407.7 471.5,406.4 471.8,405.3 472.1,405.1 472.4,404.6 472.7,404.3 473.0,405.0 473.3,405.9 473.6,407.1 473.9,408.1 474.2,409.2 474.5,409.9 474.8,409.9 475.1,409.9 475.4,409.9 475.7,409.9 475.9,409.9" fill="#2e2e8c"/>
<rect x="381.70" y="409.60" width="82.20" height="3.10" fill="#bc1e25"/>
<rect x="381.70" y="409.40" width="82.20" height="0.70" fill="#2e2e8c" opacity="0.6"/>
<text x="331.60" y="403.40" font-size="6.3" fill="#363648" text-anchor="end" stroke="#363648" stroke-width="0.18">5</text>
<line x1="333.80" y1="401.20" x2="336.80" y2="401.20" stroke="#363648" stroke-width="1.0"/>
<line x1="339.8" y1="422.5" x2="509.4" y2="422.5" stroke="#2e2e8c" stroke-width="0.6" stroke-dasharray="2,1.6" opacity="0.38"/>
<polygon points="395.0,422.3 395.0,421.9 395.3,421.4 395.6,421.7 395.9,421.5 396.2,421.5 396.5,421.9 396.8,421.6 397.1,421.7 397.4,421.4 397.7,421.6 398.0,421.3 398.3,421.7 398.6,421.3 398.9,421.4 399.2,421.7 399.5,421.4 399.8,421.7 400.1,421.7 400.4,421.7 400.7,421.9 401.0,421.5 401.3,421.5 401.6,421.4 401.9,421.5 402.2,421.8 402.5,421.5 402.8,421.7 403.1,421.8 403.4,421.3 403.7,421.8 404.0,421.6 404.3,421.5 404.6,421.4 404.9,421.5 405.2,421.8 405.5,421.8 405.8,421.3 406.1,420.9 406.4,420.5 406.7,420.2 407.0,419.6 407.3,419.6 407.6,419.6 407.9,419.5 408.2,420.0 408.5,420.5 408.8,420.8 409.1,421.2 409.4,421.3 409.7,421.3 410.0,421.6 410.3,421.3 410.6,421.5 410.9,421.9 411.2,421.8 411.5,421.4 411.8,421.5 412.1,421.3 412.4,421.2 412.7,420.8 413.0,420.7 413.3,420.3 413.6,420.0 413.9,420.0 414.2,420.5 414.5,420.8 414.8,421.1 415.1,421.4 415.4,421.3 415.7,421.4 416.0,421.5 416.3,421.8 416.6,421.3 416.9,421.6 417.2,421.9 417.5,421.9 417.8,421.6 418.1,421.3 418.4,421.9 418.7,421.6 419.0,421.4 419.3,421.4 419.6,421.8 419.9,421.5 420.2,421.3 420.5,421.4 420.8,421.7 421.1,421.8 421.4,421.7 421.7,421.7 422.0,421.5 422.3,421.3 422.6,421.6 422.9,421.8 423.2,421.7 423.5,421.6 423.8,421.5 424.1,421.6 424.4,421.2 424.7,420.7 425.0,420.6 425.3,420.3 425.6,419.8 425.9,419.3 426.2,419.4 426.5,420.1 426.8,420.1 427.1,420.6 427.4,420.8 427.7,421.3 428.0,421.5 428.3,421.9 428.6,421.5 428.9,421.5 429.2,421.6 429.5,421.8 429.8,421.9 430.1,422.3 430.4,422.3 430.7,422.3 431.0,422.3 431.3,422.3 431.6,422.3 431.9,422.3 432.2,422.3 432.5,422.3 432.8,422.3 433.1,422.3 433.4,422.3 433.7,422.3 434.0,422.3 434.3,422.3 434.6,422.3 434.9,422.3 435.2,422.3 435.5,422.3 435.8,422.3 436.1,422.3 436.4,422.3 436.7,422.3 437.0,422.3 437.3,422.3 437.6,422.3 437.9,422.3 438.2,422.3 438.5,422.3 438.8,422.3 439.1,422.3 439.4,422.3 439.7,422.3 440.0,422.3 440.3,422.3 440.6,422.3 440.9,422.3 441.2,422.3 441.5,422.3 441.8,422.3 442.1,422.3 442.4,422.3 442.7,422.3 443.0,422.3 443.3,422.3 443.6,422.3 443.9,422.3 444.2,422.3 444.5,422.3 444.8,422.3 445.1,422.3 445.4,422.3 445.7,422.3 446.0,422.3 446.3,422.3 446.6,422.3 446.9,422.3 447.2,422.3 447.5,422.3 447.8,422.3 448.1,422.3 448.4,422.3 448.7,422.3 449.0,422.3 449.3,422.3 449.6,422.3 449.9,422.3 450.2,422.3 450.5,422.3 450.8,422.3 451.1,422.3 451.4,422.3 451.7,422.3 452.0,422.3 452.3,422.3 452.6,422.3 452.9,422.3 453.2,422.3 453.5,422.3 453.8,422.3 454.1,422.3 454.4,422.3 454.7,422.3 455.0,422.3 455.3,422.3 455.6,422.3 455.9,422.3 456.2,422.3 456.5,422.3 456.8,422.3 457.1,422.3 457.4,422.3 457.7,422.3 458.0,422.3 458.3,422.3 458.6,422.3 458.9,422.3 459.2,422.3 459.5,422.3 459.8,422.3 460.1,422.3 460.4,422.3 460.7,422.3 461.0,422.3 461.3,422.3 461.6,422.3 461.9,422.3 462.2,422.3 462.5,422.3 462.8,422.3 463.1,422.3 463.4,422.3 463.7,422.3 464.0,422.3 464.3,422.3 464.6,422.3 464.9,422.3 465.2,422.3 465.5,422.3 465.8,422.3 466.1,422.3 466.4,422.3 466.7,422.3 467.0,422.3 467.3,422.3 467.6,422.3 467.9,422.3 468.2,422.3 468.5,422.3 468.8,422.3 469.1,422.3 469.4,421.7 469.7,421.2 470.0,420.6 470.3,420.3 470.6,419.7 470.9,419.4 471.2,419.8 471.5,419.8 471.8,420.5 472.1,420.8 472.4,421.4 472.7,421.9 473.0,422.3 473.3,422.3 473.6,422.3 473.9,422.3 474.2,422.3 474.4,422.3" fill="#2e2e8c"/>
<text x="331.60" y="416.90" font-size="6.3" fill="#363648" text-anchor="end" stroke="#363648" stroke-width="0.18">5</text>
<line x1="333.80" y1="414.70" x2="336.80" y2="414.70" stroke="#363648" stroke-width="1.0"/>
<line x1="339.8" y1="436.4" x2="509.4" y2="436.4" stroke="#2e2e8c" stroke-width="0.6" stroke-dasharray="2,1.6" opacity="0.38"/>
<polygon points="380.0,436.2 380.0,433.2 380.3,434.8 380.6,434.8 380.9,433.5 381.2,434.6 381.5,433.5 381.8,433.0 382.1,433.0 382.4,433.5 382.7,433.1 383.0,434.6 383.3,434.8 383.6,433.0 383.9,433.2 384.2,434.7 384.5,434.5 384.8,433.8 385.1,434.3 385.4,433.2 385.7,433.1 386.0,432.9 386.3,433.6 386.6,433.4 386.9,434.0 387.2,434.3 387.5,434.7 387.8,434.5 388.1,434.2 388.4,434.1 388.7,433.2 389.0,432.9 389.3,434.6 389.6,433.3 389.9,433.8 390.2,432.8 390.5,433.5 390.8,434.7 391.1,434.3 391.4,434.1 391.7,433.7 392.0,434.6 392.3,432.8 392.6,432.6 392.9,433.0 393.2,434.0 393.5,433.0 393.8,433.3 394.1,432.9 394.4,434.1 394.7,433.0 395.0,433.9 395.3,434.3 395.6,433.2 395.9,432.8 396.2,433.4 396.5,433.9 396.8,433.3 397.1,432.6 397.4,433.8 397.7,433.3 398.0,433.3 398.3,433.9 398.6,433.4 398.9,433.2 399.2,433.0 399.5,432.4 399.8,432.0 400.1,432.2 400.4,432.3 400.7,432.9 401.0,432.7 401.3,433.6 401.6,434.0 401.9,433.1 402.2,434.0 402.5,434.3 402.8,433.4 403.1,433.1 403.4,433.0 403.7,431.7 404.0,431.9 404.3,432.3 404.6,432.4 404.9,432.8 405.2,433.5 405.5,434.2 405.8,433.1 406.1,434.2 406.4,433.8 406.7,433.0 407.0,432.2 407.3,431.6 407.6,431.4 407.9,430.2 408.2,430.1 408.5,431.1 408.8,432.0 409.1,432.6 409.4,432.8 409.7,432.6 410.0,431.2 410.3,431.1 410.6,430.1 410.9,428.3 411.2,429.5 411.5,430.5 411.8,431.4 412.1,431.9 412.4,432.7 412.7,433.5 413.0,434.5 413.3,434.1 413.6,433.9 413.9,434.8 414.2,433.8 414.5,432.7 414.8,432.2 415.1,431.3 415.4,430.7 415.7,429.5 416.0,427.9 416.3,428.9 416.6,430.8 416.9,431.5 417.2,432.2 417.5,432.7 417.8,433.9 418.1,433.3 418.4,432.9 418.7,432.0 419.0,431.2 419.3,431.0 419.6,430.4 419.9,429.3 420.2,429.4 420.5,429.9 420.8,430.6 421.1,431.5 421.4,432.2 421.7,433.1 422.0,433.6 422.3,433.6 422.6,433.3 422.9,434.1 423.2,432.7 423.5,433.4 423.8,434.6 424.1,432.9 424.4,432.7 424.7,431.8 425.0,430.7 425.3,429.0 425.6,428.6 425.9,426.6 426.2,427.0 426.5,428.6 426.8,430.1 427.1,431.2 427.4,432.5 427.7,433.2 428.0,433.8 428.3,434.0 428.6,434.4 428.9,434.7 429.2,434.8 429.5,434.3 429.8,433.6 430.1,434.6 430.4,433.0 430.7,434.3 431.0,433.4 431.3,434.3 431.6,433.8 431.9,432.9 432.2,434.8 432.5,434.8 432.8,432.6 433.1,433.9 433.4,434.1 433.7,433.2 434.0,432.7 434.3,432.6 434.6,434.4 434.9,433.2 435.2,433.2 435.5,434.1 435.8,434.5 436.1,433.4 436.4,432.7 436.7,434.5 437.0,432.7 437.3,433.5 437.6,434.8 437.9,434.2 438.2,434.2 438.5,434.2 438.8,434.1 439.1,432.7 439.4,434.3 439.7,432.6 440.0,432.8 440.3,434.0 440.6,433.6 440.9,433.8 441.2,433.1 441.5,433.2 441.8,434.2 442.1,433.1 442.4,432.3 442.7,431.8 443.0,430.5 443.3,430.0 443.6,429.5 443.9,429.5 444.2,429.8 444.5,431.3 444.8,431.8 445.1,432.5 445.4,433.7 445.7,433.0 446.0,434.3 446.3,433.4 446.6,434.0 446.9,433.1 447.2,433.3 447.5,433.4 447.8,434.8 448.1,434.1 448.4,434.5 448.7,433.3 449.0,434.8 449.3,433.4 449.6,433.3 449.9,433.3 450.2,433.8 450.5,434.1 450.8,432.8 451.1,432.7 451.4,434.0 451.7,434.0 452.0,434.1 452.3,433.0 452.6,434.6 452.9,434.7 453.2,433.2 453.5,432.7 453.8,433.4 454.1,434.5 454.4,433.9 454.7,434.7 455.0,434.7 455.3,434.5 455.6,434.7 455.9,433.9 456.2,432.8 456.5,434.1 456.8,433.7 457.1,433.5 457.4,434.9 457.7,434.5 458.0,433.2 458.3,434.2 458.6,432.9 458.9,434.1 459.2,434.7 459.5,434.1 459.8,433.0 460.1,434.4 460.4,432.6 460.7,434.6 461.0,434.1 461.3,433.0 461.6,433.0 461.9,432.5 462.2,432.0 462.5,431.5 462.8,432.1 463.1,432.8 463.4,433.3 463.7,433.4 464.0,433.6 464.3,434.6 464.6,434.9 464.9,433.4 465.2,432.9 465.5,433.0 465.8,432.8 466.1,432.7 466.4,434.7 466.7,433.2 467.0,433.3 467.3,434.4 467.6,434.4 467.9,434.5 468.2,433.4 468.5,433.4 468.8,434.2 469.1,434.2 469.4,433.9 469.7,433.6 470.0,433.0 470.3,434.4 470.6,432.6 470.9,434.5 471.2,433.7 471.5,432.6 471.8,432.2 472.1,431.0 472.4,430.1 472.7,430.7 473.0,431.2 473.3,432.0 473.6,433.6 473.9,433.2 474.2,432.7 474.5,433.0 474.8,434.6 475.1,436.2 475.4,436.2 475.7,436.2 475.9,436.2" fill="#2e2e8c"/>
<rect x="354.90" y="435.90" width="120.30" height="3.10" fill="#bc1e25"/>
<rect x="354.90" y="435.70" width="120.30" height="0.70" fill="#2e2e8c" opacity="0.6"/>
<text x="331.60" y="430.40" font-size="6.3" fill="#363648" text-anchor="end" stroke="#363648" stroke-width="0.18">6</text>
<line x1="333.80" y1="428.20" x2="336.80" y2="428.20" stroke="#363648" stroke-width="1.0"/>
<line x1="339.8" y1="449.4" x2="509.4" y2="449.4" stroke="#2e2e8c" stroke-width="0.6" stroke-dasharray="2,1.6" opacity="0.38"/>
<polygon points="381.9,449.2 381.9,449.2 382.2,449.2 382.5,449.2 382.8,449.2 383.1,448.2 383.4,447.3 383.7,447.5 384.0,447.5 384.3,447.8 384.6,448.2 384.9,447.8 385.2,447.5 385.5,447.4 385.8,447.0 386.1,447.1 386.4,447.1 386.7,447.4 387.0,447.7 387.3,447.9 387.6,447.5 387.9,448.0 388.2,447.8 388.5,448.2 388.8,447.2 389.1,447.9 389.4,448.0 389.7,447.3 390.0,447.3 390.3,448.4 390.6,448.3 390.9,448.3 391.2,447.9 391.5,447.5 391.8,447.7 392.1,447.5 392.4,448.3 392.7,448.4 393.0,447.4 393.3,448.4 393.6,447.4 393.9,448.3 394.2,447.3 394.5,448.4 394.8,447.4 395.1,448.0 395.4,448.3 395.7,447.8 396.0,447.8 396.3,447.8 396.6,448.0 396.9,448.0 397.2,447.6 397.5,447.5 397.8,448.4 398.1,447.7 398.4,447.5 398.7,447.8 399.0,448.2 399.3,447.8 399.6,447.8 399.9,448.3 400.2,447.8 400.5,447.5 400.8,447.2 401.1,447.0 401.4,446.8 401.7,446.8 402.0,446.2 402.3,446.5 402.6,446.8 402.9,447.1 403.2,447.3 403.5,447.5 403.8,447.3 404.1,447.9 404.4,448.4 404.7,447.4 405.0,447.8 405.3,448.4 405.6,447.3 405.9,448.2 406.2,447.4 406.5,447.6 406.8,448.4 407.1,447.7 407.4,448.0 407.7,448.0 408.0,447.9 408.3,447.8 408.6,447.6 408.9,447.2 409.2,447.1 409.5,446.8 409.8,446.3 410.1,446.1 410.4,446.5 410.7,447.0 411.0,446.8 411.3,447.3 411.6,447.6 411.9,447.2 412.2,448.0 412.5,448.3 412.8,448.5 413.1,447.5 413.4,447.8 413.7,447.6 414.0,447.6 414.3,448.2 414.6,447.4 414.9,448.2 415.2,448.3 415.5,447.8 415.8,447.7 416.1,448.1 416.4,447.5 416.7,447.3 417.0,447.1 417.3,446.9 417.6,446.3 417.9,446.6 418.2,446.5 418.5,446.6 418.8,447.0 419.1,447.3 419.4,447.5 419.7,447.5 420.0,447.4 420.3,448.1 420.6,447.5 420.9,447.5 421.2,448.2 421.5,447.3 421.8,447.7 422.1,447.4 422.4,447.7 422.7,447.6 423.0,446.9 423.3,446.8 423.6,446.8 423.9,446.1 424.2,446.5 424.5,446.3 424.8,446.7 425.1,447.1 425.4,447.3 425.7,447.2 426.0,448.2 426.3,448.4 426.6,448.0 426.9,447.2 427.2,447.5 427.5,447.9 427.8,447.2 428.1,449.2 428.4,449.2 428.7,449.2 429.0,449.2 429.2,449.2" fill="#2e2e8c"/>
<text x="331.60" y="443.80" font-size="6.3" fill="#363648" text-anchor="end" stroke="#363648" stroke-width="0.18">5</text>
<line x1="333.80" y1="441.60" x2="336.80" y2="441.60" stroke="#363648" stroke-width="1.0"/>
<line x1="339.8" y1="463.8" x2="509.4" y2="463.8" stroke="#2e2e8c" stroke-width="0.6" stroke-dasharray="2,1.6" opacity="0.38"/>
<polygon points="376.0,463.6 376.0,460.2 376.3,459.9 376.6,460.2 376.9,460.5 377.2,460.7 377.5,461.8 377.8,460.6 378.1,459.5 378.4,460.6 378.7,459.6 379.0,460.6 379.3,461.7 379.6,459.9 379.9,459.7 380.2,461.9 380.5,461.0 380.8,460.4 381.1,459.7 381.4,461.0 381.7,461.2 382.0,459.6 382.3,460.7 382.6,459.7 382.9,461.0 383.2,460.5 383.5,460.8 383.8,460.5 384.1,461.3 384.4,460.2 384.7,459.8 385.0,459.7 385.3,459.6 385.6,459.6 385.9,459.7 386.2,459.9 386.5,460.0 386.8,461.0 387.1,460.2 387.4,462.0 387.7,461.5 388.0,461.6 388.3,461.7 388.6,460.7 388.9,461.8 389.2,461.7 389.5,461.2 389.8,459.6 390.1,460.0 390.4,460.6 390.7,459.6 391.0,460.6 391.3,462.0 391.6,460.6 391.9,461.2 392.2,460.4 392.5,459.9 392.8,460.7 393.1,460.6 393.4,459.8 393.7,461.2 394.0,461.4 394.3,460.8 394.6,460.4 394.9,460.0 395.2,460.5 395.5,459.8 395.8,460.6 396.1,460.5 396.4,460.6 396.7,461.8 397.0,460.3 397.3,461.4 397.6,459.7 397.9,460.0 398.2,461.7 398.5,460.6 398.8,460.4 399.1,461.0 399.4,460.4 399.7,461.4 400.0,460.5 400.3,461.6 400.6,460.2 400.9,459.6 401.2,461.5 401.5,460.1 401.8,460.5 402.1,461.9 402.4,461.1 402.7,460.4 403.0,459.7 403.3,459.9 403.6,461.0 403.9,460.4 404.2,459.8 404.5,459.7 404.8,458.8 405.1,458.6 405.4,458.9 405.7,459.4 406.0,460.6 406.3,459.6 406.6,461.2 406.9,460.1 407.2,461.0 407.5,460.1 407.8,460.6 408.1,460.4 408.4,461.4 408.7,460.5 409.0,459.6 409.3,459.9 409.6,459.5 409.9,458.6 410.2,458.8 410.5,459.6 410.8,460.1 411.1,460.7 411.4,459.9 411.7,461.4 412.0,460.5 412.3,461.4 412.6,460.9 412.9,460.6 413.2,459.7 413.5,460.9 413.8,459.8 414.1,459.2 414.4,458.3 414.7,458.4 415.0,458.2 415.3,458.2 415.6,458.8 415.9,459.1 416.2,460.1 416.5,460.4 416.8,460.8 417.1,460.1 417.4,459.9 417.7,461.9 418.0,460.9 418.3,461.3 418.6,460.4 418.9,460.4 419.2,460.1 419.5,459.1 419.8,458.6 420.1,458.4 420.4,459.5 420.7,459.6 421.0,460.0 421.3,460.0 421.6,461.2 421.9,459.9 422.2,460.2 422.5,460.6 422.8,459.7 423.1,460.1 423.4,460.6 423.7,460.5 424.0,460.1 424.3,459.2 424.6,458.7 424.9,458.2 425.2,458.6 425.5,458.5 425.8,459.2 426.1,459.9 426.4,460.8 426.7,461.2 427.0,461.8 427.3,459.6 427.6,460.4 427.9,459.8 428.2,463.6 428.5,463.6 428.8,463.6 429.1,463.6 429.4,463.6 429.7,463.6 430.0,463.6 430.3,463.6 430.6,463.6 430.9,463.6 431.2,463.6 431.5,463.6 431.8,463.6 432.1,463.6 432.4,463.6 432.7,463.6 433.0,463.6 433.3,463.6 433.6,463.6 433.9,463.6 434.2,463.6 434.5,463.6 434.8,463.6 435.1,463.6 435.4,463.6 435.7,463.6 436.0,463.6 436.3,463.6 436.6,463.6 436.9,463.6 437.2,463.6 437.5,463.6 437.8,463.6 438.1,463.6 438.4,463.6 438.7,463.6 439.0,463.6 439.3,463.6 439.6,463.6 439.9,463.6 440.2,463.6 440.5,463.6 440.8,463.6 441.1,463.6 441.4,463.6 441.7,463.6 442.0,463.6 442.3,463.4 442.6,462.9 442.9,462.5 443.2,462.1 443.5,461.9 443.8,461.4 444.1,460.9 444.4,460.8 444.7,460.7 445.0,461.0 445.3,461.5 445.6,461.6 445.9,462.1 446.2,462.4 446.5,462.7 446.8,463.2 447.1,463.6 447.4,463.6 447.7,463.6 448.0,463.6 448.3,463.6 448.6,463.6 448.9,463.6 449.2,463.6 449.5,463.6 449.8,463.6 450.1,463.6 450.4,463.6 450.7,463.6 451.0,463.6 451.3,463.6 451.6,463.6 451.9,463.6 452.2,463.6 452.5,463.6 452.8,463.6 453.1,463.6 453.4,463.6 453.7,463.6 454.0,463.6 454.3,463.6 454.6,463.6 454.9,463.6 455.2,463.6 455.5,463.6 455.8,463.6 456.1,463.6 456.4,463.6 456.7,463.6 457.0,463.6 457.3,463.6 457.6,463.6 457.9,463.6 458.2,463.6 458.5,463.6 458.8,463.6 459.1,463.6 459.4,463.6 459.7,463.6 460.0,463.6 460.3,463.2 460.6,462.7 460.9,462.5 461.2,461.8 461.5,461.7 461.8,461.4 462.1,461.1 462.4,460.5 462.7,460.8 463.0,461.2 463.3,461.3 463.6,461.8 463.9,462.3 464.2,462.6 464.5,462.9 464.8,463.4 465.1,463.6 465.4,463.6 465.7,463.6 466.0,463.6 466.3,463.6 466.6,463.6 466.9,463.6 467.2,463.6 467.5,463.6 467.8,463.6 468.1,463.6 468.4,463.6 468.7,463.6 469.0,463.6 469.3,463.6 469.6,463.6 469.9,463.6 470.2,463.2 470.5,462.8 470.8,462.3 471.1,461.8 471.4,461.5 471.7,461.2 472.0,461.1 472.3,460.5 472.6,460.9 472.9,461.1 473.2,461.2 473.5,461.8 473.8,462.1 474.1,462.4 474.4,462.9 474.7,463.4 475.0,463.6 475.3,463.6 475.6,463.6 475.9,463.6 476.2,463.6 476.5,463.6 476.8,463.6 476.9,463.6" fill="#2e2e8c"/>
<rect x="370.10" y="463.30" width="106.30" height="3.10" fill="#bc1e25"/>
<rect x="370.10" y="463.10" width="106.30" height="0.70" fill="#2e2e8c" opacity="0.6"/>
<text x="331.60" y="457.20" font-size="6.3" fill="#363648" text-anchor="end" stroke="#363648" stroke-width="0.18">5</text>
<line x1="333.80" y1="455.00" x2="336.80" y2="455.00" stroke="#363648" stroke-width="1.0"/>
<line x1="339.8" y1="477.2" x2="509.4" y2="477.2" stroke="#2e2e8c" stroke-width="0.6" stroke-dasharray="2,1.6" opacity="0.38"/>
<polygon points="378.0,477.0 378.0,474.9 378.3,475.7 378.6,474.0 378.9,474.1 379.2,474.5 379.5,474.8 379.8,474.5 380.1,475.2 380.4,474.0 380.7,474.3 381.0,474.5 381.3,474.1 381.6,474.8 381.9,475.7 382.2,474.6 382.5,475.2 382.8,474.4 383.1,475.0 383.4,474.5 383.7,475.3 384.0,474.2 384.3,475.8 384.6,474.1 384.9,474.2 385.2,474.6 385.5,474.1 385.8,475.0 386.1,474.4 386.4,473.8 386.7,473.6 387.0,473.5 387.3,473.0 387.6,472.9 387.9,473.1 388.2,474.0 388.5,474.1 388.8,474.8 389.1,475.3 389.4,475.8 389.7,475.1 390.0,474.1 390.3,474.3 390.6,474.1 390.9,474.7 391.2,475.7 391.5,475.1 391.8,473.8 392.1,475.5 392.4,475.4 392.7,475.2 393.0,474.7 393.3,473.9 393.6,475.1 393.9,475.3 394.2,475.1 394.5,474.2 394.8,474.5 395.1,473.8 395.4,473.9 395.7,474.4 396.0,474.5 396.3,474.6 396.6,475.1 396.9,475.3 397.2,473.9 397.5,474.5 397.8,475.8 398.1,474.4 398.4,475.8 398.7,475.2 399.0,474.8 399.3,475.4 399.6,474.9 399.9,473.8 400.2,474.2 400.5,474.7 400.8,475.0 401.1,474.7 401.4,474.4 401.7,475.8 402.0,475.2 402.3,475.5 402.6,475.3 402.9,474.1 403.2,474.8 403.5,475.5 403.8,475.3 404.1,474.5 404.4,475.7 404.7,475.6 405.0,475.6 405.3,473.8 405.6,474.2 405.9,475.4 406.2,475.1 406.5,474.7 406.8,475.1 407.1,474.3 407.4,474.3 407.7,473.9 408.0,473.3 408.3,473.2 408.6,472.2 408.9,472.6 409.2,473.3 409.5,474.1 409.8,474.5 410.1,474.7 410.4,474.8 410.7,473.9 411.0,475.0 411.3,474.8 411.6,473.7 411.9,473.5 412.2,473.1 412.5,472.5 412.8,471.5 413.1,470.6 413.4,471.9 413.7,472.7 414.0,473.5 414.3,473.8 414.6,474.2 414.9,475.0 415.2,475.6 415.5,475.3 415.8,475.8 416.1,473.9 416.4,474.1 416.7,473.9 417.0,473.5 417.3,473.4 417.6,472.3 417.9,471.6 418.2,471.9 418.5,472.5 418.8,473.2 419.1,473.8 419.4,474.2 419.7,474.8 420.0,474.1 420.3,474.3 420.6,475.1 420.9,474.6 421.2,475.0 421.5,474.6 421.8,473.3 422.1,472.6 422.4,472.2 422.7,471.8 423.0,471.5 423.3,471.9 423.6,472.5 423.9,472.7 424.2,473.7 424.5,474.1 424.8,474.0 425.1,474.3 425.4,474.4 425.7,473.8 426.0,473.8 426.3,473.0 426.6,472.3 426.9,473.1 427.2,473.4 427.5,473.6 427.8,474.1 428.1,475.1 428.4,475.5 428.7,476.2 429.0,477.0 429.3,477.0 429.6,477.0 429.9,477.0 430.2,477.0 430.5,477.0 430.8,477.0 431.1,477.0 431.4,477.0 431.7,477.0 432.0,477.0 432.3,477.0 432.6,477.0 432.9,477.0 433.2,477.0 433.5,477.0 433.8,477.0 434.1,477.0 434.4,477.0 434.7,477.0 435.0,477.0 435.3,477.0 435.6,477.0 435.9,476.5 436.2,476.0 436.5,475.6 436.8,475.1 437.1,474.8 437.4,474.4 437.7,474.2 438.0,474.0 438.3,474.3 438.6,474.6 438.9,475.2 439.2,475.3 439.5,475.7 439.8,476.0 440.1,476.5 440.4,477.0 440.7,477.0 441.0,477.0 441.3,477.0 441.6,477.0 441.9,477.0 442.2,477.0 442.5,476.3 442.8,475.2 443.1,474.2 443.4,472.9 443.7,472.5 444.0,471.8 444.3,470.6 444.6,468.8 444.9,470.3 445.2,471.3 445.5,472.6 445.8,472.8 446.1,473.8 446.4,474.9 446.7,476.3 447.0,477.0 447.3,477.0 447.6,477.0 447.9,477.0 448.2,477.0 448.5,477.0 448.8,477.0 449.1,477.0 449.4,477.0 449.7,477.0 450.0,477.0 450.3,477.0 450.6,477.0 450.9,477.0 451.2,477.0 451.5,477.0 451.8,477.0 452.1,477.0 452.4,477.0 452.7,477.0 453.0,477.0 453.3,477.0 453.6,477.0 453.9,477.0 454.2,477.0 454.5,477.0 454.8,477.0 455.1,477.0 455.4,477.0 455.7,476.8 456.0,476.3 456.3,476.0 456.6,475.7 456.9,475.3 457.2,474.8 457.5,474.5 457.8,474.5 458.1,473.9 458.4,474.2 458.7,474.5 459.0,475.2 459.3,475.5 459.6,475.7 459.9,476.1 460.2,476.6 460.5,477.0 460.8,477.0 461.1,477.0 461.4,477.0 461.7,477.0 462.0,477.0 462.3,477.0 462.6,477.0 462.9,477.0 463.2,477.0 463.5,477.0 463.8,476.6 464.1,476.2 464.4,475.7 464.7,475.5 465.0,475.0 465.3,474.8 465.6,474.3 465.9,473.9 466.2,474.5 466.5,474.3 466.8,474.6 467.1,475.2 467.4,475.6 467.7,476.0 468.0,476.3 468.3,476.8 468.6,477.0 468.9,477.0 469.2,477.0 469.5,477.0 469.8,477.0 470.1,477.0 470.4,477.0 470.7,477.0 471.0,477.0 471.3,477.0 471.6,477.0 471.9,476.4 472.2,476.0 472.5,475.7 472.8,475.1 473.1,474.7 473.4,474.6 473.7,474.2 474.0,473.9 474.3,474.5 474.6,474.7 474.9,475.1 475.2,475.2 475.5,475.6 475.8,476.0 476.1,476.5 476.4,477.0 476.7,477.0 477.0,477.0 477.3,477.0 477.6,477.0 477.9,477.0 478.2,477.0 478.5,477.0" fill="#2e2e8c"/>
<rect x="370.10" y="476.70" width="110.60" height="3.10" fill="#bc1e25"/>
<rect x="370.10" y="476.50" width="110.60" height="0.70" fill="#2e2e8c" opacity="0.6"/>
<text x="331.60" y="470.60" font-size="6.3" fill="#363648" text-anchor="end" stroke="#363648" stroke-width="0.18">5</text>
<line x1="333.80" y1="468.40" x2="336.80" y2="468.40" stroke="#363648" stroke-width="1.0"/>
<line x1="339.8" y1="490.5" x2="509.4" y2="490.5" stroke="#2e2e8c" stroke-width="0.6" stroke-dasharray="2,1.6" opacity="0.38"/>
<polygon points="366.0,490.3 366.0,487.1 366.3,488.5 366.6,488.8 366.9,487.4 367.2,488.5 367.5,487.0 367.8,488.3 368.1,487.6 368.4,487.4 368.7,488.0 369.0,487.8 369.3,488.5 369.6,488.5 369.9,488.5 370.2,487.0 370.5,487.1 370.8,488.7 371.1,488.2 371.4,487.4 371.7,488.1 372.0,487.4 372.3,487.5 372.6,488.4 372.9,488.7 373.2,488.7 373.5,487.2 373.8,487.4 374.1,488.3 374.4,488.4 374.7,488.3 375.0,487.8 375.3,488.1 375.6,487.8 375.9,487.5 376.2,486.8 376.5,487.7 376.8,486.7 377.1,488.3 377.4,487.4 377.7,487.1 378.0,488.8 378.3,488.7 378.6,487.3 378.9,488.9 379.2,487.1 379.5,487.7 379.8,488.5 380.1,487.9 380.4,487.7 380.7,487.9 381.0,487.8 381.3,487.4 381.6,487.2 381.9,486.7 382.2,486.1 382.5,486.1 382.8,486.4 383.1,486.7 383.4,487.3 383.7,487.6 384.0,488.4 384.3,486.8 384.6,488.1 384.9,487.8 385.2,488.8 385.5,486.7 385.8,488.2 386.1,487.6 386.4,486.9 386.7,487.3 387.0,488.1 387.3,488.8 387.6,486.9 387.9,486.8 388.2,488.6 388.5,486.8 388.8,487.9 389.1,488.4 389.4,487.6 389.7,488.8 390.0,488.1 390.3,488.8 390.6,487.4 390.9,488.5 391.2,488.6 391.5,487.0 391.8,487.4 392.1,486.8 392.4,487.4 392.7,487.6 393.0,487.8 393.3,488.2 393.6,488.1 393.9,487.3 394.2,487.6 394.5,487.3 394.8,487.7 395.1,487.7 395.4,486.7 395.7,487.1 396.0,487.2 396.3,488.7 396.6,487.4 396.9,487.1 397.2,488.0 397.5,488.9 397.8,488.4 398.1,488.7 398.4,488.1 398.7,486.9 399.0,487.6 399.3,486.7 399.6,487.2 399.9,486.7 400.2,487.6 400.5,486.7 400.8,485.6 401.1,485.3 401.4,484.9 401.7,483.2 402.0,482.7 402.3,484.3 402.6,483.9 402.9,484.7 403.2,486.3 403.5,486.7 403.8,487.8 404.1,487.9 404.4,486.9 404.7,486.4 405.0,485.1 405.3,484.0 405.6,483.8 405.9,482.8 406.2,483.6 406.5,484.6 406.8,485.4 407.1,485.5 407.4,486.3 407.7,487.4 408.0,488.5 408.3,486.9 408.6,485.9 408.9,484.7 409.2,484.0 409.5,482.4 409.8,482.6 410.1,481.0 410.4,481.8 410.7,483.3 411.0,484.3 411.3,486.1 411.6,487.0 411.9,487.4 412.2,487.8 412.5,487.2 412.8,486.2 413.1,485.4 413.4,483.9 413.7,483.5 414.0,482.1 414.3,483.3 414.6,483.9 414.9,485.6 415.2,486.5 415.5,487.1 415.8,487.5 416.1,488.4 416.4,487.3 416.7,486.3 417.0,485.4 417.3,484.1 417.6,484.1 417.9,482.7 418.2,482.8 418.5,484.1 418.8,485.3 419.1,485.7 419.4,487.0 419.7,487.1 420.0,488.2 420.3,487.2 420.6,488.9 420.9,488.1 421.2,486.7 421.5,486.9 421.8,487.8 422.1,488.3 422.4,488.4 422.7,488.2 423.0,487.7 423.3,487.9 423.6,486.9 423.9,487.3 424.2,486.8 424.5,486.6 424.8,485.7 425.1,486.2 425.4,486.0 425.7,486.8 426.0,487.2 426.3,487.5 426.6,488.5 426.9,486.7 427.2,487.8 427.5,488.2 427.8,487.5 428.1,487.8 428.4,487.4 428.7,486.9 429.0,488.5 429.3,489.0 429.6,486.9 429.9,488.6 430.2,488.5 430.5,488.4 430.8,488.2 431.1,488.7 431.4,487.5 431.7,487.1 432.0,488.7 432.3,488.5 432.6,488.1 432.9,488.3 433.2,486.7 433.5,488.6 433.8,488.1 434.1,488.8 434.4,488.9 434.7,487.2 435.0,486.7 435.3,487.6 435.6,488.9 435.9,487.4 436.2,488.2 436.5,487.4 436.8,486.7 437.1,486.3 437.4,485.6 437.7,485.3 438.0,484.7 438.3,484.3 438.6,485.5 438.9,486.4 439.2,486.7 439.5,487.6 439.8,487.5 440.1,486.7 440.4,486.7 440.7,486.0 441.0,485.4 441.3,485.0 441.6,483.4 441.9,483.8 442.2,483.2 442.5,484.4 442.8,484.8 443.1,485.7 443.4,486.7 443.7,486.1 444.0,485.3 444.3,485.0 444.6,484.9 444.9,485.3 445.2,485.5 445.5,486.5 445.8,487.2 446.1,487.3 446.4,488.5 446.7,489.1 447.0,490.3 447.3,490.3 447.6,490.3 447.9,490.3 448.2,490.3 448.5,490.3 448.8,490.3 449.1,490.3 449.4,490.3 449.7,490.3 450.0,490.3 450.3,490.3 450.6,490.3 450.9,490.3 451.2,490.3 451.5,490.3 451.8,490.3 452.1,490.3 452.4,490.3 452.7,490.3 453.0,490.3 453.3,490.3 453.6,490.3 453.9,490.3 454.2,490.3 454.5,490.3 454.8,490.3 455.1,490.3 455.4,490.3 455.7,490.3 456.0,490.3 456.3,490.3 456.6,490.3 456.9,490.3 457.2,490.3 457.5,490.3 457.8,490.3 458.1,490.3 458.4,490.3 458.7,490.3 459.0,490.3 459.3,490.3 459.6,490.3 459.9,490.3 460.2,490.3 460.5,490.3 460.8,490.3 461.1,490.3 461.4,490.3 461.7,490.0 462.0,489.2 462.3,488.5 462.6,487.9 462.9,487.8 463.2,487.0 463.5,486.3 463.8,486.1 464.1,486.2 464.4,486.2 464.7,486.8 465.0,487.4 465.3,487.8 465.6,488.3 465.9,489.0 466.2,489.7 466.5,490.3 466.8,490.3 467.1,490.3 467.4,490.3 467.7,490.3 468.0,490.3 468.3,490.3 468.6,489.8 468.9,489.2 469.2,489.1 469.5,488.6 469.8,488.4 470.1,488.1 470.4,487.5 470.7,487.3 471.0,487.3 471.3,488.0 471.6,488.4 471.9,488.5 472.2,489.1 472.5,489.2 472.8,489.8 473.1,490.3 473.4,490.3 473.7,490.3 474.0,490.3 474.3,490.3 474.6,490.3 474.9,490.3 475.2,490.3" fill="#2e2e8c"/>
<rect x="347.10" y="490.00" width="121.10" height="3.10" fill="#bc1e25"/>
<rect x="347.10" y="489.80" width="121.10" height="0.70" fill="#2e2e8c" opacity="0.6"/>
<text x="331.60" y="484.20" font-size="6.3" fill="#363648" text-anchor="end" stroke="#363648" stroke-width="0.18">6</text>
<line x1="333.80" y1="482.00" x2="336.80" y2="482.00" stroke="#363648" stroke-width="1.0"/>
<line x1="339.8" y1="503.7" x2="509.4" y2="503.7" stroke="#2e2e8c" stroke-width="0.6" stroke-dasharray="2,1.6" opacity="0.38"/>
<polygon points="370.0,503.5 370.0,500.9 370.3,502.0 370.6,500.2 370.9,501.8 371.2,499.8 371.5,502.0 371.8,500.1 372.1,500.7 372.4,499.6 372.7,499.7 373.0,501.6 373.3,501.7 373.6,499.7 373.9,501.8 374.2,499.8 374.5,500.3 374.8,499.6 375.1,499.6 375.4,501.5 375.7,500.5 376.0,501.1 376.3,502.0 376.6,501.2 376.9,500.9 377.2,500.9 377.5,499.6 377.8,499.7 378.1,500.6 378.4,500.8 378.7,501.1 379.0,501.6 379.3,500.4 379.6,499.7 379.9,502.0 380.2,499.6 380.5,500.8 380.8,501.5 381.1,500.3 381.4,499.7 381.7,500.3 382.0,501.2 382.3,500.8 382.6,499.8 382.9,501.8 383.2,501.2 383.5,499.9 383.8,501.6 384.1,500.9 384.4,500.3 384.7,499.6 385.0,499.4 385.3,498.6 385.6,498.1 385.9,498.2 386.2,498.4 386.5,498.7 386.8,500.1 387.1,500.2 387.4,500.6 387.7,500.9 388.0,501.1 388.3,501.8 388.6,500.5 388.9,501.0 389.2,500.9 389.5,499.5 389.8,499.7 390.1,499.6 390.4,499.5 390.7,500.1 391.0,501.8 391.3,502.0 391.6,499.9 391.9,501.1 392.2,500.1 392.5,499.9 392.8,501.2 393.1,499.8 393.4,500.6 393.7,501.6 394.0,501.1 394.3,500.2 394.6,499.3 394.9,498.9 395.2,498.3 395.5,498.0 395.8,497.3 396.1,498.6 396.4,498.8 396.7,500.0 397.0,500.6 397.3,501.1 397.6,501.6 397.9,501.7 398.2,499.5 398.5,500.2 398.8,500.0 399.1,498.4 399.4,498.4 399.7,497.0 400.0,496.4 400.3,497.0 400.6,497.6 400.9,499.2 401.2,499.9 401.5,499.6 401.8,501.3 402.1,500.6 402.4,500.6 402.7,500.8 403.0,499.6 403.3,500.1 403.6,499.9 403.9,498.8 404.2,498.6 404.5,497.2 404.8,497.1 405.1,495.5 405.4,497.7 405.7,498.1 406.0,498.9 406.3,499.2 406.6,500.2 406.9,500.3 407.2,501.2 407.5,499.7 407.8,500.6 408.1,501.3 408.4,499.6 408.7,500.4 409.0,499.9 409.3,499.3 409.6,498.5 409.9,497.5 410.2,498.2 410.5,498.1 410.8,498.9 411.1,499.8 411.4,500.6 411.7,501.1 412.0,500.2 412.3,499.7 412.6,499.8 412.9,500.3 413.2,499.7 413.5,500.1 413.8,499.3 414.1,498.2 414.4,497.2 414.7,496.3 415.0,496.6 415.3,496.8 415.6,497.1 415.9,498.1 416.2,499.3 416.5,499.8 416.8,500.9 417.1,499.8 417.4,501.8 417.7,499.6 418.0,499.7 418.3,500.4 418.6,500.2 418.9,499.6 419.2,498.2 419.5,497.5 419.8,497.6 420.1,497.6 420.4,498.1 420.7,498.5 421.0,498.6 421.3,499.9 421.6,500.7 421.9,499.8 422.2,499.4 422.5,499.5 422.8,501.6 423.1,500.1 423.4,499.8 423.7,500.0 424.0,499.6 424.3,499.6 424.6,502.0 424.9,501.2 425.2,499.7 425.5,499.8 425.8,498.7 426.1,498.5 426.4,497.6 426.7,497.6 427.0,498.0 427.3,499.0 427.6,499.8 427.9,500.1 428.2,501.1 428.5,501.2 428.8,501.6 429.1,502.0 429.4,501.8 429.7,502.0 430.0,501.3 430.3,503.5 430.6,503.5 430.9,503.5 431.2,503.5 431.5,503.5 431.8,503.5 432.1,503.5 432.4,503.5 432.7,503.5 433.0,503.5 433.3,503.5 433.6,503.5 433.9,503.5 434.2,503.5 434.5,503.5 434.8,503.5 435.1,503.5 435.4,503.5 435.7,503.5 436.0,503.5 436.3,503.5 436.6,503.5 436.9,503.5 437.2,503.5 437.5,503.5 437.8,503.5 438.1,503.5 438.4,503.5 438.7,503.5 439.0,503.5 439.3,503.5 439.6,503.5 439.9,503.5 440.2,503.5 440.5,503.5 440.8,503.5 441.1,503.5 441.4,503.5 441.7,503.5 442.0,503.5 442.3,503.3 442.6,502.9 442.9,502.4 443.2,501.9 443.5,501.6 443.8,501.3 444.1,501.2 444.4,501.0 444.7,500.7 445.0,501.0 445.3,501.3 445.6,501.6 445.9,501.7 446.2,502.2 446.5,502.6 446.8,503.1 447.1,503.5 447.4,503.5 447.7,503.5 448.0,503.5 448.3,503.5 448.6,503.5 448.9,503.5 449.2,503.5 449.5,503.5 449.8,503.5 450.1,503.5 450.4,503.5 450.7,503.5 451.0,503.5 451.3,503.5 451.6,503.5 451.9,503.5 452.2,503.5 452.5,503.5 452.8,503.5 453.1,503.5 453.4,503.5 453.7,503.5 454.0,503.5 454.3,503.5 454.6,503.5 454.9,503.5 455.2,503.5 455.5,502.9 455.8,502.5 456.1,502.2 456.4,501.9 456.7,501.6 457.0,500.9 457.3,501.1 457.6,500.4 457.9,500.7 458.2,501.1 458.5,501.4 458.8,501.8 459.1,502.0 459.4,502.6 459.7,503.0 460.0,503.5 460.3,503.5 460.6,503.5 460.9,503.5 461.2,503.5 461.5,503.5 461.8,503.5 462.1,503.5 462.4,503.5 462.7,503.5 463.0,503.5 463.3,503.5 463.6,503.5 463.9,503.0 464.2,502.4 464.5,502.0 464.8,501.7 465.1,501.3 465.4,501.2 465.7,500.7 466.0,500.3 466.3,500.9 466.6,501.1 466.9,501.6 467.2,501.6 467.5,502.1 467.8,502.6 468.1,502.9 468.4,503.5 468.7,503.5 469.0,503.5 469.3,503.5 469.6,503.5 469.9,503.5 470.2,503.5 470.5,503.5 470.8,503.5 471.1,503.5 471.4,503.5 471.7,503.3 472.0,502.9 472.3,502.4 472.6,502.0 472.9,501.6 473.2,501.3 473.5,501.0 473.8,500.8 474.1,500.6 474.4,500.7 474.7,501.1 475.0,501.4 475.3,502.0 475.6,502.2 475.9,502.6 476.2,503.1 476.5,503.5 476.8,503.5 477.1,503.5 477.4,503.5 477.7,503.5 478.0,503.5 478.3,503.5 478.6,503.5 478.9,503.5 479.2,503.5 479.5,503.5 479.8,503.5 480.1,503.5 480.4,503.5 480.7,503.5 481.0,503.5 481.3,503.5 481.6,503.5 481.9,503.5 482.2,503.5 482.5,503.5 482.8,503.5 483.1,503.5 483.4,503.5 483.7,503.5 484.0,503.5 484.3,503.5 484.6,503.5 484.9,503.5 485.2,503.5 485.5,503.5 485.8,503.5 486.1,503.5 486.4,503.5 486.7,503.5 487.0,503.5 487.3,503.5 487.6,503.5 487.9,503.5 488.2,503.5 488.5,503.5 488.8,503.5 489.1,503.5 489.4,503.5 489.7,503.3 490.0,502.9 490.3,502.6 490.6,502.5 490.9,502.2 491.2,501.8 491.5,501.7 491.8,501.4 492.1,501.5 492.4,501.4 492.7,501.6 493.0,502.1 493.3,502.3 493.6,502.6 493.9,502.9 494.2,503.2 494.5,503.5 494.8,503.5 495.1,503.5 495.4,503.5 495.7,503.5 496.0,503.5 496.3,503.5 496.5,503.5" fill="#2e2e8c"/>
<rect x="347.10" y="503.20" width="157.90" height="3.10" fill="#bc1e25"/>
<rect x="347.10" y="503.00" width="157.90" height="0.70" fill="#2e2e8c" opacity="0.6"/>
<text x="331.60" y="497.60" font-size="6.3" fill="#363648" text-anchor="end" stroke="#363648" stroke-width="0.18">8</text>
<line x1="333.80" y1="495.40" x2="336.80" y2="495.40" stroke="#363648" stroke-width="1.0"/>
<line x1="339.8" y1="517.4" x2="509.4" y2="517.4" stroke="#2e2e8c" stroke-width="0.6" stroke-dasharray="2,1.6" opacity="0.38"/>
<polygon points="382.9,517.2 382.9,517.2 383.2,517.2 383.5,517.2 383.8,517.2 384.1,517.2 384.4,517.2 384.7,517.2 385.0,517.2 385.3,516.3 385.6,515.6 385.9,515.3 386.2,514.4 386.5,514.3 386.8,513.6 387.1,513.1 387.4,512.3 387.7,512.8 388.0,513.8 388.3,514.3 388.6,514.8 388.9,514.8 389.2,515.4 389.5,515.9 389.8,515.3 390.1,515.2 390.4,516.0 390.7,514.7 391.0,516.0 391.3,514.3 391.6,515.3 391.9,514.9 392.2,515.1 392.5,514.2 392.8,516.0 393.1,515.5 393.4,514.9 393.7,515.3 394.0,515.3 394.3,514.7 394.6,515.1 394.9,516.1 395.2,514.7 395.5,515.4 395.8,515.5 396.1,515.3 396.4,515.4 396.7,515.1 397.0,515.4 397.3,515.2 397.6,514.9 397.9,514.3 398.2,516.0 398.5,514.7 398.8,514.6 399.1,515.7 399.4,515.4 399.7,514.5 400.0,515.7 400.3,514.9 400.6,516.1 400.9,516.0 401.2,516.0 401.5,514.9 401.8,514.8 402.1,516.0 402.4,515.8 402.7,516.0 403.0,515.7 403.3,514.5 403.6,515.5 403.9,515.9 404.2,514.5 404.5,514.4 404.8,514.6 405.1,515.4 405.4,514.5 405.7,513.1 406.0,511.4 406.3,511.4 406.6,509.2 406.9,507.6 407.2,509.0 407.5,509.5 407.8,511.2 408.1,512.7 408.4,513.9 408.7,513.8 409.0,512.5 409.3,512.3 409.6,510.9 409.9,509.6 410.2,510.1 410.5,510.7 410.8,512.6 411.1,512.8 411.4,514.1 411.7,515.2 412.0,515.5 412.3,514.7 412.6,515.9 412.9,516.0 413.2,514.2 413.5,515.0 413.8,514.5 414.1,514.1 414.4,513.5 414.7,513.4 415.0,513.1 415.3,513.2 415.6,513.6 415.9,514.3 416.2,514.4 416.5,515.1 416.8,514.3 417.1,514.5 417.4,515.7 417.7,514.8 418.0,516.1 418.3,516.0 418.6,514.2 418.9,516.1 419.2,514.2 419.5,515.7 419.8,514.4 420.1,515.9 420.4,515.3 420.7,515.6 421.0,515.7 421.3,516.0 421.6,514.3 421.9,515.7 422.2,515.1 422.5,515.2 422.8,515.7 423.1,515.9 423.4,515.4 423.7,514.6 424.0,514.2 424.3,513.9 424.6,513.0 424.9,512.9 425.2,513.1 425.5,513.4 425.8,514.3 426.1,514.7 426.4,514.4 426.7,515.1 427.0,515.1 427.3,515.2 427.6,515.1 427.9,514.8 428.2,515.7 428.5,514.2 428.8,514.4 429.1,514.9 429.4,515.2 429.7,514.5 430.0,514.7 430.3,514.8 430.6,516.0 430.9,514.8 431.2,515.3 431.5,515.4 431.8,514.6 432.1,515.5 432.4,514.8 432.7,515.3 433.0,515.2 433.3,514.8 433.6,515.2 433.9,514.6 434.2,516.0 434.5,514.3 434.8,515.6 435.1,515.6 435.4,514.2 435.7,514.5 436.0,515.7 436.3,516.0 436.6,514.9 436.9,515.1 437.2,514.5 437.5,514.5 437.8,514.6 438.1,514.3 438.4,514.9 438.7,515.0 439.0,515.2 439.3,514.2 439.6,514.2 439.9,515.6 440.2,516.0 440.5,516.0 440.8,515.7 441.1,514.6 441.4,514.4 441.7,514.8 442.0,514.9 442.3,515.5 442.6,515.7 442.9,515.4 443.2,514.9 443.5,514.5 443.8,514.3 444.1,514.1 444.4,514.4 444.7,514.7 445.0,514.3 445.3,514.4 445.6,514.4 445.9,514.8 446.2,514.3 446.5,515.6 446.8,515.2 447.1,515.1 447.4,514.8 447.7,514.8 448.0,514.4 448.3,514.3 448.6,514.7 448.9,515.4 449.2,515.5 449.5,515.4 449.8,514.8 450.1,516.6 450.4,517.2 450.7,517.2 451.0,517.2 451.3,517.2 451.6,517.2 451.9,517.2 452.2,517.2 452.5,517.2 452.8,517.2 453.1,517.2 453.4,517.2 453.7,517.2 454.0,517.2 454.3,517.2 454.6,517.2 454.9,517.2 455.2,517.2 455.5,517.2 455.8,517.2 456.1,517.2 456.4,517.2 456.7,517.2 457.0,517.2 457.3,517.2 457.6,517.2 457.9,517.2 458.2,517.2 458.5,517.2 458.8,517.2 459.1,517.2 459.4,517.2 459.7,517.2 460.0,517.2 460.3,517.2 460.6,517.2 460.9,517.2 461.2,517.2 461.5,517.2 461.8,517.2 462.1,517.2 462.4,517.2 462.7,517.2 463.0,517.2 463.3,517.2 463.6,517.2 463.9,517.2 464.2,517.2 464.5,517.2 464.8,517.2 465.1,517.2 465.4,517.2 465.7,517.2 466.0,517.2 466.3,517.2 466.6,517.2 466.9,517.2 467.2,517.2 467.5,517.2 467.8,517.2 468.1,517.2 468.4,516.9 468.7,516.4 469.0,516.2 469.3,515.6 469.6,515.5 469.9,514.8 470.2,514.6 470.5,514.3 470.8,514.6 471.1,514.6 471.4,515.2 471.7,515.4 472.0,515.7 472.3,515.9 472.6,516.4 472.9,516.8 473.2,517.2 473.5,517.2 473.8,517.2 474.1,517.2 474.4,517.2 474.7,517.2 475.0,517.2 475.2,517.2" fill="#2e2e8c"/>
<rect x="385.30" y="516.90" width="91.50" height="3.10" fill="#bc1e25"/>
<rect x="385.30" y="516.70" width="91.50" height="0.70" fill="#2e2e8c" opacity="0.6"/>
<text x="331.60" y="511.20" font-size="6.3" fill="#363648" text-anchor="end" stroke="#363648" stroke-width="0.18">8</text>
<line x1="333.80" y1="509.00" x2="336.80" y2="509.00" stroke="#363648" stroke-width="1.0"/>
<line x1="339.8" y1="530.4" x2="509.4" y2="530.4" stroke="#2e2e8c" stroke-width="0.6" stroke-dasharray="2,1.6" opacity="0.38"/>
<polygon points="380.8,530.2 380.8,530.2 381.1,530.2 381.4,530.2 381.7,530.2 382.0,526.5 382.3,527.1 382.6,526.9 382.9,528.4 383.2,528.5 383.5,528.5 383.8,526.2 384.1,527.0 384.4,526.1 384.7,527.3 385.0,527.2 385.3,526.3 385.6,526.4 385.9,525.5 386.2,525.6 386.5,526.2 386.8,526.7 387.1,526.8 387.4,527.0 387.7,526.8 388.0,527.8 388.3,527.2 388.6,527.3 388.9,527.7 389.2,527.0 389.5,526.8 389.8,527.8 390.1,528.2 390.4,528.3 390.7,525.8 391.0,525.8 391.3,526.3 391.6,527.5 391.9,526.4 392.2,526.5 392.5,527.3 392.8,527.5 393.1,527.7 393.4,527.4 393.7,526.4 394.0,526.2 394.3,525.7 394.6,524.9 394.9,524.9 395.2,524.2 395.5,525.3 395.8,525.4 396.1,526.0 396.4,527.0 396.7,526.4 397.0,527.8 397.3,528.2 397.6,526.4 397.9,527.0 398.2,526.2 398.5,528.6 398.8,528.0 399.1,525.9 399.4,525.8 399.7,525.8 400.0,528.1 400.3,527.0 400.6,526.8 400.9,526.2 401.2,525.8 401.5,525.5 401.8,524.0 402.1,524.5 402.4,525.4 402.7,525.7 403.0,526.3 403.3,525.8 403.6,526.9 403.9,527.7 404.2,527.6 404.5,528.2 404.8,526.1 405.1,528.3 405.4,528.4 405.7,525.9 406.0,527.2 406.3,526.8 406.6,525.5 406.9,524.9 407.2,524.0 407.5,523.8 407.8,523.6 408.1,523.0 408.4,524.4 408.7,524.2 409.0,524.6 409.3,526.0 409.6,526.2 409.9,527.2 410.2,527.3 410.5,527.6 410.8,526.8 411.1,528.0 411.4,528.6 411.7,526.6 412.0,526.5 412.3,526.7 412.6,526.9 412.9,526.0 413.2,525.3 413.5,525.1 413.8,524.4 414.1,524.4 414.4,524.8 414.7,525.1 415.0,526.2 415.3,526.7 415.6,527.3 415.9,526.7 416.2,527.9 416.5,527.7 416.8,528.0 417.1,528.5 417.4,527.4 417.7,525.9 418.0,527.2 418.3,527.0 418.6,525.8 418.9,525.5 419.2,524.1 419.5,524.4 419.8,522.5 420.1,522.4 420.4,522.9 420.7,523.8 421.0,525.2 421.3,526.2 421.6,526.2 421.9,527.1 422.2,527.8 422.5,527.9 422.8,527.8 423.1,527.1 423.4,526.0 423.7,526.1 424.0,527.7 424.3,527.5 424.6,526.5 424.9,526.1 425.2,525.1 425.5,525.4 425.8,523.9 426.1,524.6 426.4,524.4 426.7,525.7 427.0,525.9 427.3,526.6 427.6,526.8 427.9,527.7 428.2,527.4 428.5,526.6 428.8,528.1 429.1,528.0 429.4,526.8 429.7,527.9 430.0,527.4 430.3,526.3 430.6,527.6 430.9,526.4 431.2,525.9 431.5,528.1 431.8,525.7 432.1,527.2 432.4,526.9 432.7,526.4 433.0,525.8 433.3,528.4 433.6,526.5 433.9,526.4 434.2,528.0 434.5,528.4 434.8,525.8 435.1,528.2 435.4,528.2 435.7,526.1 436.0,525.9 436.3,528.4 436.6,527.6 436.9,526.6 437.2,527.0 437.5,526.3 437.8,526.2 438.1,526.2 438.4,526.0 438.7,527.1 439.0,526.3 439.3,526.6 439.6,528.1 439.9,525.8 440.2,526.0 440.5,528.1 440.8,526.9 441.1,526.9 441.4,527.7 441.7,526.3 442.0,528.4 442.3,526.2 442.6,526.6 442.9,525.9 443.2,526.7 443.5,526.1 443.8,526.1 444.1,526.4 444.4,526.0 444.7,526.3 445.0,526.7 445.3,527.1 445.6,526.4 445.9,528.4 446.2,527.3 446.5,526.5 446.8,527.7 447.1,527.1 447.4,526.7 447.7,525.8 448.0,525.5 448.3,526.2 448.6,526.0 448.9,527.4 449.2,526.8 449.5,526.0 449.8,525.9 450.1,529.4 450.4,530.2 450.7,530.2 451.0,530.2 451.3,530.2 451.6,530.2 451.9,530.2 452.2,530.2 452.5,530.2 452.8,530.2 453.1,530.2 453.4,530.2 453.7,530.2 454.0,530.2 454.3,530.2 454.6,530.2 454.9,530.2 455.2,530.2 455.5,530.2 455.8,530.2 456.1,530.2 456.4,530.2 456.7,530.2 457.0,530.2 457.3,530.2 457.6,530.2 457.9,530.2 458.2,530.2 458.5,530.2 458.8,529.8 459.1,529.3 459.4,529.1 459.7,528.6 460.0,528.4 460.3,528.1 460.6,527.5 460.9,527.5 461.2,527.3 461.5,527.9 461.8,528.1 462.1,528.5 462.4,528.6 462.7,528.6 463.0,528.3 463.3,528.1 463.6,527.5 463.9,527.1 464.2,527.2 464.5,527.5 464.8,527.9 465.1,528.5 465.4,528.6 465.7,529.0 466.0,529.5 466.3,530.0 466.6,530.2 466.9,530.2 467.2,530.2 467.5,530.2 467.8,530.2 468.1,530.2 468.4,530.2 468.7,530.2 469.0,530.2 469.3,530.2 469.6,530.2 469.9,530.2 470.2,530.2 470.5,530.2 470.8,530.2 471.1,530.2 471.4,530.2 471.7,530.2 472.0,530.2 472.3,530.2 472.6,530.2 472.9,530.2 473.2,530.2 473.5,530.2 473.8,530.2 474.1,530.2 474.4,530.2 474.7,530.2 475.0,530.2 475.3,530.2 475.6,530.2 475.9,530.2 476.2,530.2 476.5,530.2 476.8,530.2 477.1,530.2 477.4,530.2 477.7,530.2 478.0,530.2 478.3,530.2 478.6,530.2 478.9,530.2 479.2,530.2 479.5,530.2 479.8,530.2 480.1,530.2 480.4,530.2 480.7,530.2 481.0,530.2 481.3,530.2 481.6,530.2 481.9,530.2 482.2,530.2 482.5,530.2 482.8,530.2 483.1,530.2 483.4,530.2 483.7,530.2 484.0,530.2 484.3,530.2 484.6,530.2 484.9,530.2 485.2,530.2 485.5,530.2 485.8,530.2 486.1,530.2 486.4,530.2 486.7,530.2 487.0,530.2 487.3,530.2 487.6,530.2 487.9,530.2 488.2,530.2 488.5,530.2 488.8,530.2 489.1,530.2 489.4,530.2 489.7,530.2 490.0,529.1 490.3,528.1 490.6,527.6 490.9,526.5 491.2,525.6 491.5,525.2 491.8,524.4 492.1,524.6 492.4,524.7 492.7,526.0 493.0,526.3 493.3,527.3 493.6,528.1 493.9,529.0 494.2,530.2 494.5,530.2 494.8,530.2 495.1,530.2 495.4,530.2 495.7,530.2 496.0,530.2 496.3,530.2 496.6,530.2 496.9,530.2 497.2,530.2 497.5,530.2 497.8,530.2 498.1,530.2 498.4,530.2 498.7,530.2 499.0,530.2 499.3,530.2 499.6,530.2 499.9,530.2 500.2,530.2 500.5,530.2 500.8,530.2 501.1,530.2 501.4,529.7 501.7,529.2 502.0,528.7 502.3,528.3 502.6,528.3 502.9,527.6 503.2,527.4 503.5,527.4 503.8,527.5 504.1,527.9 504.4,528.6 504.7,528.9 505.0,529.3 505.3,529.6 505.6,530.2 505.9,530.2 506.2,530.2 506.5,530.2 506.8,530.2 507.1,530.2 507.4,530.2 507.5,530.2" fill="#2e2e8c"/>
<rect x="379.80" y="529.90" width="126.80" height="3.10" fill="#bc1e25"/>
<rect x="379.80" y="529.70" width="126.80" height="0.70" fill="#2e2e8c" opacity="0.6"/>
<text x="331.60" y="524.80" font-size="6.3" fill="#363648" text-anchor="end" stroke="#363648" stroke-width="0.18">6</text>
<line x1="333.80" y1="522.60" x2="336.80" y2="522.60" stroke="#363648" stroke-width="1.0"/>
<text x="315.20" y="325.60" font-size="6.7" fill="#222" text-anchor="end" textLength="43.20" lengthAdjust="spacingAndGlyphs" stroke="#222" stroke-width="0.18">Jurkat (T-ALL)</text>
<text x="316.40" y="338.90" font-size="6.7" fill="#222" text-anchor="end" textLength="44.60" lengthAdjust="spacingAndGlyphs" stroke="#222" stroke-width="0.18">Normal thymus</text>
<text x="268.80" y="357.90" font-size="6.7" fill="#222" textLength="21.00" lengthAdjust="spacingAndGlyphs" stroke="#222" stroke-width="0.18">Normal</text>
<text x="268.60" y="366.10" font-size="6.7" fill="#222" textLength="16.50" lengthAdjust="spacingAndGlyphs" stroke="#222" stroke-width="0.18">CD4+</text>
<text x="268.80" y="373.60" font-size="6.7" fill="#222" textLength="17.40" lengthAdjust="spacingAndGlyphs" stroke="#222" stroke-width="0.18">T-cell</text>
<line x1="292.60" y1="345.60" x2="292.60" y2="379.60" stroke="#111" stroke-width="1.3"/>
<text x="296.60" y="353.70" font-size="6.7" fill="#222" stroke="#222" stroke-width="0.18">Th1</text>
<text x="296.60" y="366.70" font-size="6.7" fill="#222" stroke="#222" stroke-width="0.18">Th2</text>
<text x="296.60" y="378.70" font-size="6.7" fill="#222" stroke="#222" stroke-width="0.18">Th17</text>
<line x1="293.40" y1="388.60" x2="293.40" y2="533.00" stroke="#111" stroke-width="1.3"/>
<text x="277.00" y="462.60" font-size="6.7" fill="#222" textLength="12.20" lengthAdjust="spacingAndGlyphs" stroke="#222" stroke-width="0.18">ATL</text>
<text x="296.80" y="393.70" font-size="6.7" fill="#222" stroke="#222" stroke-width="0.18">TL-Om1</text>
<text x="296.80" y="407.40" font-size="6.7" fill="#222" stroke="#222" stroke-width="0.18">ATL1</text>
<text x="296.80" y="420.60" font-size="6.7" fill="#222" stroke="#222" stroke-width="0.18">ATL2</text>
<text x="296.80" y="434.20" font-size="6.7" fill="#222" stroke="#222" stroke-width="0.18">ATL3</text>
<text x="296.80" y="448.10" font-size="6.7" fill="#222" stroke="#222" stroke-width="0.18">ATL4</text>
<text x="296.80" y="461.70" font-size="6.7" fill="#222" stroke="#222" stroke-width="0.18">ATL5</text>
<text x="296.80" y="475.00" font-size="6.7" fill="#222" stroke="#222" stroke-width="0.18">ATL6</text>
<text x="296.80" y="489.20" font-size="6.7" fill="#222" stroke="#222" stroke-width="0.18">ATL7</text>
<text x="296.80" y="502.80" font-size="6.7" fill="#222" stroke="#222" stroke-width="0.18">ATL8</text>
<text x="296.80" y="515.50" font-size="6.7" fill="#222" stroke="#222" stroke-width="0.18">ATL9</text>
<text x="296.80" y="529.70" font-size="6.7" fill="#222" stroke="#222" stroke-width="0.18">ATL10</text>
<rect x="341.80" y="537.60" width="3.40" height="2.20" fill="#111"/>
<line x1="345.00" y1="538.70" x2="427.80" y2="538.70" stroke="#4a4a80" stroke-width="0.8"/>
<line x1="351.00" y1="537.80" x2="351.00" y2="539.60" stroke="#4a4a80" stroke-width="0.6"/>
<line x1="356.00" y1="537.80" x2="356.00" y2="539.60" stroke="#4a4a80" stroke-width="0.6"/>
<line x1="360.00" y1="537.80" x2="360.00" y2="539.60" stroke="#4a4a80" stroke-width="0.6"/>
<line x1="364.00" y1="537.80" x2="364.00" y2="539.60" stroke="#4a4a80" stroke-width="0.6"/>
<text x="364.20" y="549.60" font-size="9.0" fill="#222" font-style="italic" textLength="47.00" lengthAdjust="spacingAndGlyphs" stroke="#222" stroke-width="0.32">IL2RA/CD25</text>
<rect x="0" y="0" width="520" height="1.2" fill="#000"/>
<rect x="0" y="0" width="1.4" height="565" fill="#000"/>
<rect x="518.3" y="0" width="1.7" height="565" fill="#000"/>
<rect x="0" y="563.7" width="520" height="1.3" fill="#000"/>
</svg>
</body></html>
